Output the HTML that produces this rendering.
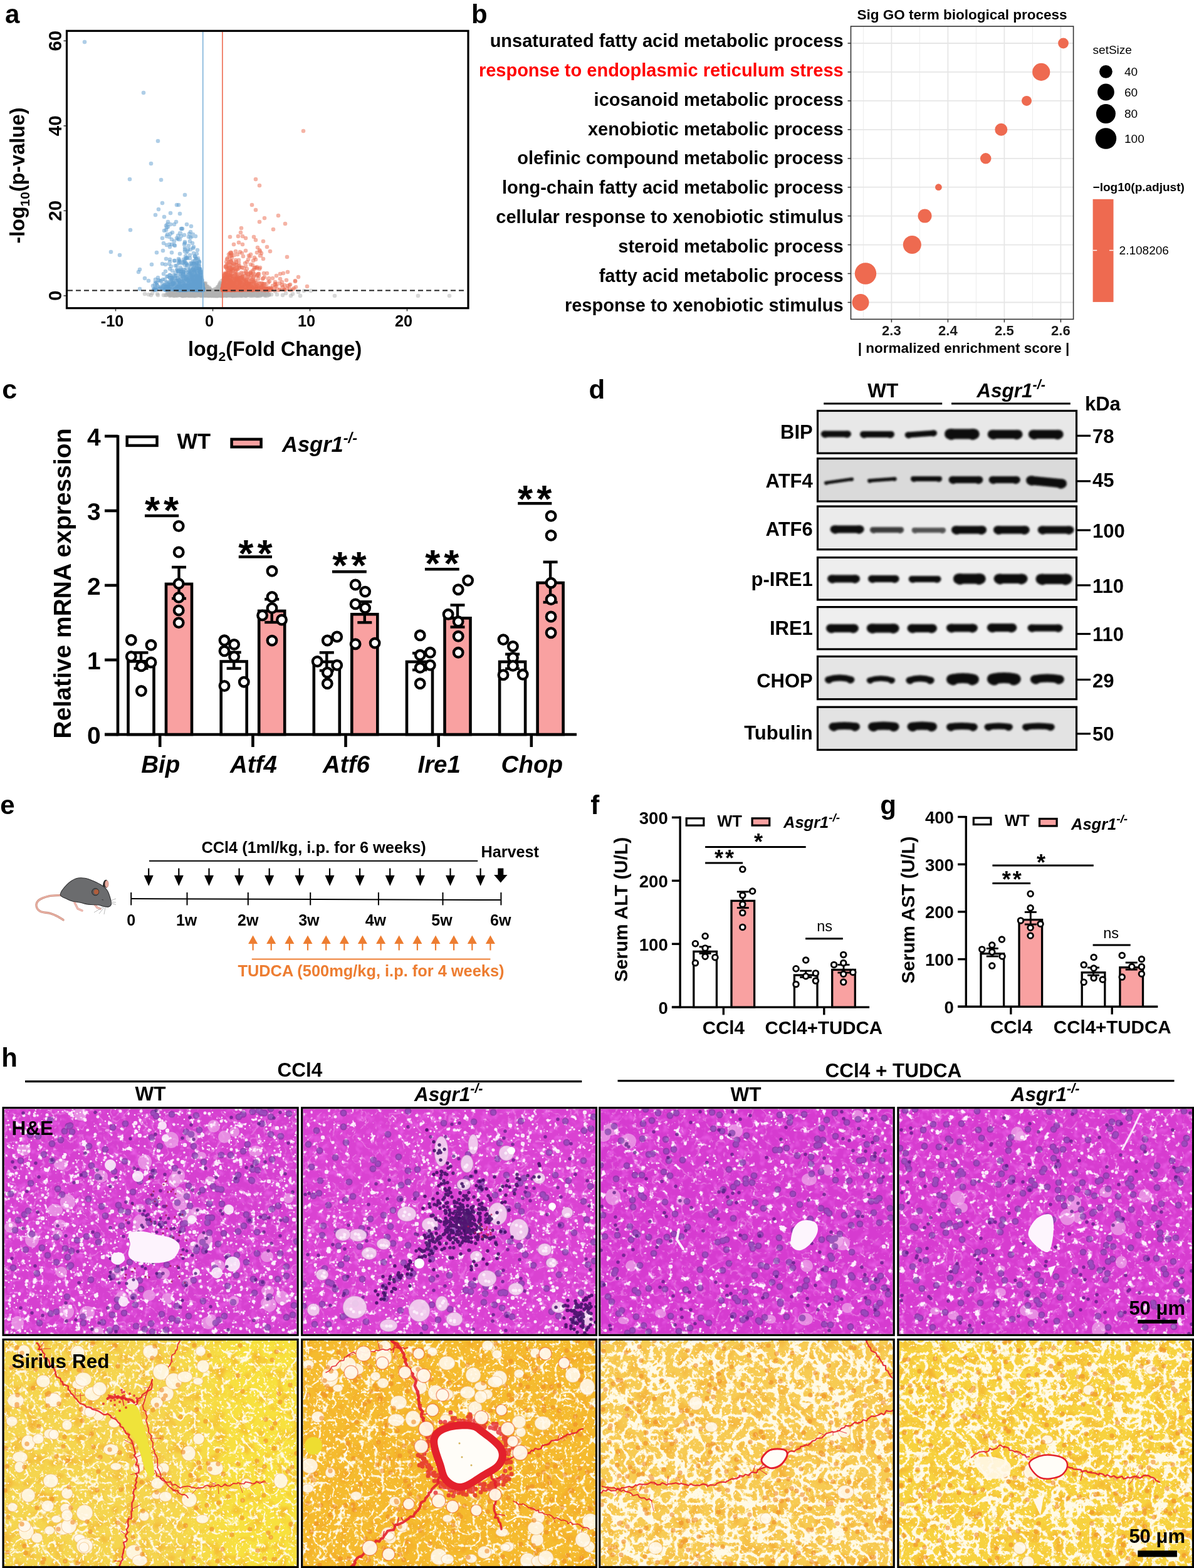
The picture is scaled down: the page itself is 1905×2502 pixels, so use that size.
<!DOCTYPE html><html><head><meta charset="utf-8"><title>Figure</title><style>html,body{margin:0;padding:0;background:#fff;overflow:hidden;width:1905px;height:2502px;}svg{display:block;}</style></head><body>
<svg width="1905" height="2502" viewBox="0 0 1905 2502" font-family="Liberation Sans, Arial, Helvetica, sans-serif" font-weight="bold">
<defs><clipPath id="clipA"><rect x="108" y="51" width="637" height="439"/></clipPath><filter id="bl" x="-10%" y="-60%" width="120%" height="220%"><feGaussianBlur stdDeviation="1.6"/></filter><clipPath id="cp0"><rect x="6.6" y="1769.2" width="467" height="359.6"/></clipPath><clipPath id="cq0"><rect x="6.6" y="2138.9" width="467" height="360.1"/></clipPath><clipPath id="cp1"><rect x="483.2" y="1769.2" width="466.8" height="359.6"/></clipPath><clipPath id="cq1"><rect x="483.2" y="2138.9" width="466.8" height="360.1"/></clipPath><clipPath id="cp2"><rect x="958.2" y="1769.2" width="466.5" height="359.6"/></clipPath><clipPath id="cq2"><rect x="958.2" y="2138.9" width="466.5" height="360.1"/></clipPath><clipPath id="cp3"><rect x="1434.4" y="1769.2" width="467.6" height="359.6"/></clipPath><clipPath id="cq3"><rect x="1434.4" y="2138.9" width="467.6" height="360.1"/></clipPath><filter id="heTone" x="0" y="0" width="100%" height="100%" color-interpolation-filters="sRGB"><feTurbulence type="fractalNoise" baseFrequency="0.09" numOctaves="2" seed="5"/><feColorMatrix type="matrix" values="0 0 0 0 0.93 0 0 0 0 0.4 0 0 0 0 0.92 2.0 0 0 0 -1.0"/></filter><filter id="heW0" x="0" y="0" width="100%" height="100%" color-interpolation-filters="sRGB"><feTurbulence type="fractalNoise" baseFrequency="0.1" numOctaves="3" seed="3"/><feColorMatrix type="matrix" values="0 0 0 0 1 0 0 0 0 0.93 0 0 0 0 1 8 0 0 0 -5.0"/></filter><filter id="heW1" x="0" y="0" width="100%" height="100%" color-interpolation-filters="sRGB"><feTurbulence type="fractalNoise" baseFrequency="0.1" numOctaves="3" seed="4"/><feColorMatrix type="matrix" values="0 0 0 0 1 0 0 0 0 0.93 0 0 0 0 1 8 0 0 0 -5.1"/></filter><filter id="heW2" x="0" y="0" width="100%" height="100%" color-interpolation-filters="sRGB"><feTurbulence type="fractalNoise" baseFrequency="0.09" numOctaves="3" seed="6"/><feColorMatrix type="matrix" values="0 0 0 0 1 0 0 0 0 0.93 0 0 0 0 1 8 0 0 0 -5.05"/></filter><filter id="heW3" x="0" y="0" width="100%" height="100%" color-interpolation-filters="sRGB"><feTurbulence type="fractalNoise" baseFrequency="0.09" numOctaves="3" seed="7"/><feColorMatrix type="matrix" values="0 0 0 0 1 0 0 0 0 0.93 0 0 0 0 1 8 0 0 0 -5.0"/></filter><filter id="srTone" x="0" y="0" width="100%" height="100%" color-interpolation-filters="sRGB"><feTurbulence type="fractalNoise" baseFrequency="0.05" numOctaves="2" seed="8"/><feColorMatrix type="matrix" values="0 0 0 0 0.95 0 0 0 0 0.62 0 0 0 0 0.15 1.6 0 0 0 -0.78"/></filter><filter id="srW0" x="0" y="0" width="100%" height="100%" color-interpolation-filters="sRGB"><feTurbulence type="turbulence" baseFrequency="0.045" numOctaves="3" seed="21"/><feColorMatrix type="matrix" values="0 0 0 0 1 0 0 0 0 0.98 0 0 0 0 0.9 -10 0 0 0 1.75"/></filter><filter id="srW1" x="0" y="0" width="100%" height="100%" color-interpolation-filters="sRGB"><feTurbulence type="turbulence" baseFrequency="0.045" numOctaves="3" seed="22"/><feColorMatrix type="matrix" values="0 0 0 0 1 0 0 0 0 0.98 0 0 0 0 0.9 -10 0 0 0 1.85"/></filter><filter id="srW2" x="0" y="0" width="100%" height="100%" color-interpolation-filters="sRGB"><feTurbulence type="turbulence" baseFrequency="0.05" numOctaves="3" seed="23"/><feColorMatrix type="matrix" values="0 0 0 0 1 0 0 0 0 0.98 0 0 0 0 0.9 -10 0 0 0 2.95"/></filter><filter id="srW3" x="0" y="0" width="100%" height="100%" color-interpolation-filters="sRGB"><feTurbulence type="turbulence" baseFrequency="0.05" numOctaves="3" seed="24"/><feColorMatrix type="matrix" values="0 0 0 0 1 0 0 0 0 0.98 0 0 0 0 0.9 -10 0 0 0 2.7"/></filter><filter id="srSpk" x="0" y="0" width="100%" height="100%" color-interpolation-filters="sRGB"><feTurbulence type="fractalNoise" baseFrequency="0.2" numOctaves="2" seed="31"/><feColorMatrix type="matrix" values="0 0 0 0 1 0 0 0 0 0.98 0 0 0 0 0.92 8 0 0 0 -4.9"/></filter><filter id="heNet" x="0" y="0" width="100%" height="100%" color-interpolation-filters="sRGB"><feTurbulence type="turbulence" baseFrequency="0.045" numOctaves="3" seed="41"/><feColorMatrix type="matrix" values="0 0 0 0 0.98 0 0 0 0 0.72 0 0 0 0 0.96 -9 0 0 0 1.5"/></filter><linearGradient id="srGrad0" x1="0" x2="1" y1="0" y2="0"><stop offset="0.55" stop-color="#f8e23c" stop-opacity="0"/><stop offset="0.8" stop-color="#f8e23c" stop-opacity="0.85"/><stop offset="1" stop-color="#f8e23c" stop-opacity="0.95"/></linearGradient></defs>
<rect x="0" y="0" width="1905" height="2502" fill="#fff"/>
<text x="8" y="37" font-size="42">a</text>
<g clip-path="url(#clipA)">
<path d="M266 471h0m6 -5h0m1 5h0m3 -1h0m0 2h0m1 -5h0m1 -1h0m0 2h0m1 -3h0m0 1h0m0 1h0m2 2h0m1 2h0m4 -6h0m2 1h0m0 1h0m0 0h0m0 3h0m0 1h0m1 -5h0m1 3h0m0 1h0m0 2h0m1 -2h0m1 0h0m0 2h0m1 -5h0m1 3h0m0 1h0m1 -1h0m1 1h0m1 -1h0m2 1h0m1 -7h0m0 5h0m0 2h0m2 -4h0m0 5h0m1 -6h0m0 5h0m2 1h0m2 -2h0m2 -2h0m0 2h0m1 -4h0m0 5h0m1 -1h0m1 -1h0m1 0h0m1 2h0m1 -1h0m0 1h0m0 0h0m1 -1h0m1 0h0m1 -4h0m1 5h0m2 -4h0m0 1h0m0 1h0m0 0h0m0 0h0m1 1h0m1 1h0m1 0h0m1 -5h0m0 1h0m0 1h0m0 4h0m0 0h0m1 -5h0m2 2h0m0 3h0m1 -15h0m0 2h0m0 8h0m0 1h0m0 0h0m1 -9h0m1 11h0m1 -4h0m0 4h0m0 2h0m2 -4h0m0 1h0m0 0h0m0 3h0m1 -10h0m0 1h0m0 7h0m0 0h0m1 -2h0m0 3h0m1 -4h0m1 -3h0m0 2h0m1 1h0m0 0h0m2 1h0m0 1h0m0 1h0m0 1h0m0 0h0m0 1h0m1 -6h0m0 2h0m0 2h0m1 -2h0m0 1h0m0 2h0m0 0h0m1 -6h0m0 3h0m0 4h0m1 -1h0m0 1h0m0 0h0m1 -6h0m0 4h0m1 -3h0m0 2h0m0 1h0m0 2h0m1 -5h0m0 1h0m0 3h0m1 -12h0m0 11h0m0 0h0m1 -15h0m0 6h0m0 5h0m0 2h0m0 3h0m2 -11h0m0 9h0m1 2h0m0 1h0m1 -15h0m0 10h0m0 1h0m0 2h0m0 0h0m0 0h0m1 -5h0m0 4h0m0 1h0m0 1h0m1 -5h0m0 0h0m0 5h0m0 0h0m1 0h0m1 -4h0m0 3h0m1 0h0m0 0h0m1 -1h0m0 0h0m0 1h0m0 0h0m1 1h0m1 -5h0m0 0h0m0 4h0m1 -3h0m1 0h0m0 4h0m1 0h0m1 -2h0m0 1h0m1 -1h0m0 2h0m1 -4h0m0 4h0m0 0h0m1 -2h0m0 2h0m1 1h0m1 0h0m1 -6h0m0 3h0m1 1h0m2 -3h0m0 5h0m1 -3h0m0 2h0m3 -5h0m2 5h0m1 -1h0m0 1h0m1 0h0m1 -2h0m0 1h0m0 1h0m0 0h0m4 -5h0m2 0h0m1 1h0m0 4h0m2 -5h0m0 4h0m0 2h0m2 -2h0m2 -2h0m0 3h0m1 0h0m2 -4h0m0 0h0m1 2h0m0 3h0m1 -2h0m0 0h0m2 -3h0m0 1h0m0 0h0m0 1h0m0 2h0m7 -4h0m1 3h0m1 2h0m0 0h0m3 -3h0m2 -1h0m0 1h0m5 -2h0m1 2h0m40 3h0m15 0h0m17 -8h0" stroke="#b0b0b0" stroke-width="6.6" stroke-linecap="round" stroke-opacity="0.5" fill="none"/><path d="M246 463h0m24 4h0m0 3h0m1 2h0m4 -6h0m2 2h0m0 3h0m1 -3h0m0 2h0m1 1h0m1 -2h0m4 -2h0m0 2h0m1 -3h0m1 0h0m1 5h0m6 -4h0m0 1h0m0 0h0m3 3h0m2 -3h0m1 3h0m0 0h0m1 -1h0m0 1h0m1 0h0m1 0h0m1 -5h0m1 5h0m1 -5h0m0 3h0m1 -6h0m0 5h0m1 -1h0m0 5h0m1 -2h0m2 2h0m3 -3h0m1 -6h0m0 7h0m1 -1h0m3 -1h0m0 2h0m1 -3h0m0 4h0m1 -2h0m0 2h0m1 0h0m2 -4h0m0 2h0m1 -13h0m0 11h0m0 4h0m1 -2h0m0 1h0m1 -3h0m0 0h0m0 0h0m0 3h0m1 -17h0m0 11h0m0 4h0m1 -8h0m0 8h0m0 1h0m0 1h0m1 -5h0m0 6h0m1 -9h0m0 4h0m0 4h0m1 -13h0m0 11h0m1 -1h0m0 1h0m1 -6h0m0 2h0m1 6h0m0 0h0m0 0h0m0 1h0m0 0h0m1 -2h0m0 1h0m0 0h0m0 0h0m1 -3h0m0 3h0m0 1h0m1 -2h0m0 2h0m1 -8h0m0 2h0m1 3h0m0 1h0m1 -6h0m0 2h0m0 5h0m0 1h0m1 -4h0m0 5h0m1 -4h0m1 -2h0m0 1h0m0 5h0m1 -4h0m1 -4h0m0 4h0m0 2h0m0 2h0m3 -14h0m0 13h0m0 1h0m1 -5h0m0 4h0m0 0h0m1 -17h0m0 15h0m0 2h0m1 -3h0m0 0h0m0 0h0m0 1h0m0 3h0m1 -14h0m0 11h0m1 0h0m0 0h0m0 2h0m0 1h0m1 -14h0m0 8h0m0 1h0m0 3h0m0 1h0m1 -20h0m0 1h0m0 17h0m0 1h0m0 0h0m1 -4h0m0 3h0m1 -3h0m1 4h0m0 1h0m1 -4h0m0 4h0m0 0h0m0 0h0m0 0h0m1 -1h0m0 0h0m0 1h0m1 -3h0m0 1h0m0 1h0m0 1h0m1 -4h0m0 1h0m0 2h0m1 0h0m1 1h0m2 -5h0m3 3h0m1 0h0m1 -2h0m0 0h0m0 2h0m0 1h0m0 0h0m1 0h0m0 0h0m0 1h0m1 -4h0m0 1h0m0 3h0m1 -1h0m1 -5h0m0 1h0m1 0h0m0 0h0m0 1h0m3 -1h0m0 3h0m1 2h0m0 1h0m2 -1h0m3 -1h0m0 2h0m1 -1h0m1 -4h0m1 0h0m2 2h0m1 -1h0m0 1h0m0 2h0m0 1h0m1 -5h0m0 4h0m2 -2h0m1 -3h0m0 0h0m0 1h0m0 3h0m1 -3h0m0 2h0m0 1h0m1 -5h0m2 2h0m1 4h0m3 -2h0m1 -1h0m1 0h0m2 2h0m1 -4h0m1 4h0m0 2h0m1 -7h0m1 4h0m0 0h0m1 1h0m5 0h0m1 1h0m1 -3h0m1 1h0m1 -2h0m0 2h0m3 2h0m5 -1h0m27 -2h0" stroke="#b0b0b0" stroke-width="6.6" stroke-linecap="round" stroke-opacity="0.5" fill="none"/><path d="M241 471h0m20 0h0m7 -2h0m0 0h0m4 2h0m2 -3h0m1 2h0m0 1h0m0 0h0m1 -4h0m0 4h0m1 -4h0m1 5h0m2 -5h0m0 1h0m1 -4h0m1 7h0m1 0h0m3 -1h0m0 1h0m1 -4h0m0 2h0m2 2h0m4 -2h0m0 3h0m1 -3h0m0 3h0m0 0h0m1 -1h0m0 1h0m1 -5h0m0 1h0m3 0h0m0 0h0m0 2h0m0 2h0m2 -4h0m1 3h0m1 0h0m6 -7h0m0 7h0m1 -4h0m1 1h0m0 1h0m0 3h0m1 -4h0m1 -1h0m0 5h0m2 -6h0m0 6h0m1 -3h0m1 0h0m0 1h0m1 -1h0m0 0h0m1 -1h0m1 -2h0m0 6h0m1 -3h0m0 0h0m0 3h0m1 -7h0m1 5h0m0 1h0m3 -3h0m0 2h0m1 -16h0m0 7h0m0 8h0m0 2h0m1 -7h0m0 2h0m0 3h0m0 0h0m0 2h0m0 0h0m1 -1h0m1 -2h0m0 2h0m0 0h0m0 2h0m1 -5h0m0 2h0m0 2h0m0 0h0m0 0h0m1 -4h0m0 2h0m1 -3h0m1 -4h0m0 6h0m0 2h0m1 -9h0m0 5h0m0 3h0m0 1h0m0 1h0m1 -6h0m0 2h0m0 1h0m0 2h0m1 -3h0m0 1h0m0 3h0m0 0h0m1 -6h0m0 6h0m0 1h0m1 -5h0m0 2h0m0 1h0m1 -4h0m0 1h0m1 -2h0m0 0h0m0 4h0m0 0h0m1 2h0m0 0h0m1 -2h0m0 0h0m0 2h0m1 -6h0m0 4h0m0 1h0m1 -8h0m0 5h0m1 -1h0m0 3h0m1 -11h0m0 9h0m0 4h0m0 0h0m0 1h0m1 -1h0m1 0h0m1 -13h0m0 6h0m2 -12h0m0 17h0m0 0h0m0 2h0m0 1h0m1 -15h0m0 7h0m0 8h0m1 -16h0m0 4h0m1 6h0m0 1h0m1 4h0m0 1h0m1 -8h0m0 6h0m1 -1h0m1 -2h0m0 2h0m1 3h0m0 0h0m1 -6h0m0 3h0m0 3h0m1 -6h0m1 5h0m3 0h0m2 -4h0m1 2h0m0 1h0m1 -2h0m0 1h0m0 2h0m0 0h0m1 -3h0m0 4h0m1 -5h0m0 0h0m0 4h0m1 -1h0m2 -3h0m1 2h0m2 2h0m1 -1h0m0 1h0m1 -2h0m1 -3h0m0 4h0m2 -4h0m0 4h0m0 1h0m1 -4h0m0 4h0m0 0h0m1 0h0m0 0h0m1 -2h0m1 -1h0m1 -4h0m0 3h0m1 3h0m2 -3h0m1 2h0m0 2h0m1 0h0m1 0h0m1 -4h0m0 1h0m0 0h0m0 2h0m2 0h0m1 -4h0m2 0h0m0 0h0m0 4h0m1 -4h0m1 0h0m2 1h0m0 3h0m7 1h0m1 0h0m2 -5h0m1 3h0m0 2h0m1 0h0m6 -2h0m4 -2h0m0 2h0m3 2h0m22 0h0m34 -7h0" stroke="#b0b0b0" stroke-width="6.6" stroke-linecap="round" stroke-opacity="0.5" fill="none"/><path d="M243 468h0m29 2h0m0 0h0m1 -2h0m1 -1h0m1 -1h0m4 0h0m4 6h0m1 -5h0m1 3h0m0 0h0m1 1h0m1 -3h0m1 -1h0m1 0h0m0 1h0m0 0h0m3 4h0m1 -1h0m1 -7h0m1 4h0m0 2h0m1 -4h0m0 2h0m1 -2h0m0 5h0m1 -4h0m0 3h0m2 -4h0m1 3h0m2 1h0m1 -5h0m1 3h0m1 -2h0m0 4h0m2 0h0m3 1h0m1 0h0m1 -1h0m2 -3h0m1 3h0m1 -3h0m0 2h0m0 0h0m2 -1h0m0 0h0m0 1h0m2 1h0m0 1h0m0 1h0m1 -7h0m0 4h0m1 -1h0m0 1h0m1 -13h0m0 12h0m1 0h0m0 1h0m1 -3h0m0 2h0m0 2h0m1 -17h0m0 2h0m0 2h0m0 12h0m1 2h0m1 -13h0m0 9h0m1 -7h0m0 8h0m1 -1h0m1 -2h0m0 3h0m0 0h0m0 1h0m0 0h0m0 1h0m0 0h0m0 1h0m1 -9h0m0 7h0m1 -10h0m0 6h0m0 1h0m0 2h0m0 4h0m1 -2h0m0 1h0m1 -3h0m0 3h0m1 0h0m1 -3h0m0 3h0m0 0h0m1 -2h0m1 -5h0m0 3h0m0 4h0m0 1h0m1 -8h0m0 5h0m0 0h0m0 3h0m1 -3h0m0 1h0m0 1h0m0 0h0m1 -4h0m0 5h0m1 -4h0m0 0h0m1 -4h0m0 2h0m0 0h0m0 2h0m0 1h0m0 2h0m0 0h0m1 -2h0m0 3h0m1 -8h0m0 6h0m0 2h0m1 0h0m1 -3h0m1 -2h0m0 1h0m0 2h0m1 -18h0m0 4h0m0 3h0m0 2h0m0 6h0m2 -4h0m0 4h0m1 0h0m0 4h0m1 0h0m1 -5h0m0 1h0m0 5h0m1 -3h0m0 1h0m1 0h0m0 1h0m2 -4h0m0 1h0m1 -2h0m0 2h0m0 2h0m0 1h0m1 -1h0m1 -4h0m1 -2h0m0 3h0m0 0h0m0 1h0m2 -2h0m0 0h0m1 1h0m0 2h0m0 2h0m1 -3h0m0 1h0m1 1h0m2 -3h0m0 2h0m1 -3h0m1 0h0m0 3h0m0 2h0m1 -4h0m2 3h0m0 0h0m0 0h0m0 2h0m1 -2h0m1 -1h0m0 0h0m1 -4h0m2 4h0m1 -2h0m0 1h0m0 2h0m1 0h0m0 0h0m0 0h0m2 -3h0m0 3h0m1 1h0m0 0h0m1 0h0m0 1h0m2 -1h0m3 -3h0m0 2h0m1 0h0m2 -2h0m2 -1h0m0 1h0m1 0h0m1 -1h0m2 -1h0m0 1h0m2 0h0m0 3h0m2 0h0m1 -3h0m0 1h0m0 2h0m0 0h0m3 -2h0m0 3h0m2 1h0m2 -4h0m1 -2h0m1 1h0m0 1h0m0 1h0m2 1h0m1 -1h0m4 0h0m1 2h0m0 1h0m3 -3h0m3 1h0m10 -5h0m28 4h0m67 3h0" stroke="#b0b0b0" stroke-width="6.6" stroke-linecap="round" stroke-opacity="0.5" fill="none"/><path d="M231 469h0m21 2h0m12 0h0m2 -1h0m4 0h0m1 -3h0m0 1h0m0 3h0m1 -3h0m1 3h0m1 -3h0m4 1h0m1 1h0m0 2h0m1 0h0m2 -4h0m2 -2h0m0 1h0m3 1h0m4 2h0m0 0h0m0 2h0m1 -5h0m4 5h0m1 -3h0m0 1h0m1 -1h0m1 -2h0m0 2h0m0 1h0m3 2h0m1 -3h0m4 2h0m1 -3h0m0 2h0m1 -3h0m1 0h0m0 0h0m0 2h0m0 0h0m0 3h0m1 -1h0m1 -6h0m0 6h0m0 1h0m1 -2h0m0 1h0m1 -8h0m1 6h0m2 2h0m0 0h0m2 -4h0m0 3h0m1 1h0m1 -5h0m0 2h0m1 1h0m1 -3h0m2 -14h0m0 19h0m0 0h0m1 -7h0m0 0h0m0 3h0m0 2h0m1 -3h0m0 5h0m1 -10h0m0 7h0m0 0h0m0 2h0m1 -2h0m1 1h0m0 0h0m1 -7h0m0 4h0m0 4h0m1 -7h0m0 1h0m0 7h0m1 -9h0m1 4h0m0 1h0m1 4h0m1 -2h0m0 2h0m1 -2h0m0 3h0m1 -8h0m0 2h0m0 4h0m0 2h0m1 -5h0m0 4h0m1 -4h0m0 1h0m0 0h0m0 0h0m0 2h0m1 -6h0m0 5h0m0 1h0m1 -2h0m0 1h0m0 2h0m1 -5h0m0 3h0m0 1h0m0 0h0m1 1h0m0 0h0m0 0h0m0 0h0m0 1h0m1 -11h0m0 9h0m0 2h0m1 -5h0m0 1h0m1 1h0m0 0h0m0 1h0m1 -1h0m0 1h0m1 0h0m0 0h0m0 1h0m1 -5h0m0 0h0m0 3h0m0 1h0m1 -1h0m1 -19h0m0 19h0m0 0h0m0 1h0m1 -4h0m0 3h0m0 0h0m0 1h0m0 0h0m1 -22h0m0 23h0m0 0h0m1 -5h0m0 0h0m0 6h0m1 -7h0m1 1h0m0 5h0m0 0h0m1 -6h0m0 2h0m0 2h0m1 -1h0m0 3h0m1 -7h0m0 5h0m0 1h0m1 -3h0m0 2h0m0 3h0m1 -5h0m0 2h0m0 2h0m1 -5h0m0 4h0m1 -4h0m1 4h0m0 1h0m1 -6h0m1 3h0m0 3h0m0 1h0m1 -1h0m2 -5h0m0 2h0m0 3h0m0 0h0m0 0h0m1 -3h0m1 4h0m1 -4h0m0 3h0m1 -1h0m0 0h0m1 -1h0m0 1h0m2 -2h0m1 1h0m5 -1h0m1 -3h0m0 5h0m1 -5h0m0 2h0m0 1h0m1 2h0m6 2h0m1 -2h0m1 -2h0m0 2h0m0 1h0m1 -3h0m4 0h0m0 2h0m0 0h0m0 1h0m0 1h0m1 -5h0m2 2h0m1 3h0m2 0h0m2 -7h0m1 1h0m1 3h0m0 1h0m5 -3h0m0 0h0m1 -3h0m0 8h0m2 -4h0m1 -1h0m4 3h0m1 -4h0m1 0h0m1 1h0m4 -1h0m4 4h0m43 -4h0" stroke="#b0b0b0" stroke-width="6.6" stroke-linecap="round" stroke-opacity="0.5" fill="none"/><path d="M237 470h0m14 -1h0m16 -1h0m3 1h0m7 1h0m1 -3h0m2 3h0m4 1h0m3 -1h0m1 -4h0m1 0h0m1 2h0m0 3h0m2 -2h0m0 1h0m0 1h0m3 0h0m3 -4h0m1 0h0m0 3h0m1 1h0m2 -3h0m0 2h0m1 -1h0m2 0h0m0 3h0m0 0h0m1 -7h0m1 2h0m0 4h0m1 -3h0m0 3h0m0 1h0m1 -2h0m1 -2h0m1 1h0m0 1h0m0 0h0m1 1h0m2 -4h0m0 3h0m1 -1h0m1 1h0m3 -1h0m0 2h0m1 -1h0m1 -4h0m0 0h0m0 2h0m0 0h0m1 -3h0m0 5h0m1 0h0m0 2h0m1 -1h0m1 -3h0m0 3h0m0 0h0m1 -6h0m0 1h0m0 3h0m0 1h0m0 0h0m0 1h0m0 1h0m1 -5h0m1 -15h0m0 14h0m0 2h0m0 1h0m1 -3h0m1 -9h0m0 7h0m1 3h0m0 1h0m0 0h0m0 3h0m1 1h0m1 -12h0m0 6h0m2 1h0m0 0h0m0 3h0m0 0h0m0 1h0m1 0h0m1 -4h0m0 1h0m0 0h0m0 2h0m1 -7h0m0 3h0m0 2h0m0 1h0m0 0h0m0 1h0m0 0h0m0 1h0m0 1h0m1 -6h0m0 2h0m1 0h0m0 0h0m0 0h0m1 -3h0m0 2h0m1 -1h0m1 -5h0m0 5h0m0 3h0m0 1h0m1 -1h0m0 0h0m1 -8h0m0 9h0m0 0h0m1 -1h0m0 1h0m0 1h0m2 -6h0m0 5h0m1 -13h0m0 9h0m0 0h0m0 2h0m0 1h0m0 0h0m0 2h0m1 -3h0m1 -8h0m0 5h0m0 1h0m1 0h0m0 2h0m0 3h0m0 0h0m0 0h0m1 -16h0m0 15h0m1 -3h0m1 3h0m1 -3h0m3 -1h0m0 5h0m0 0h0m1 -5h0m0 4h0m1 0h0m1 0h0m0 1h0m1 -4h0m0 4h0m0 1h0m2 -3h0m0 1h0m1 -5h0m0 2h0m0 4h0m0 0h0m1 -3h0m0 2h0m1 -2h0m1 0h0m0 1h0m0 1h0m0 0h0m1 -4h0m0 2h0m1 4h0m1 -6h0m1 3h0m0 2h0m1 -7h0m0 6h0m0 2h0m1 -5h0m1 -1h0m0 5h0m2 -1h0m0 0h0m0 2h0m3 -4h0m0 1h0m1 -3h0m0 1h0m0 4h0m0 1h0m2 -4h0m0 1h0m0 0h0m0 3h0m1 0h0m2 -3h0m0 2h0m2 -4h0m0 4h0m0 0h0m4 -1h0m0 1h0m2 0h0m1 -2h0m3 -1h0m0 2h0m0 0h0m2 -4h0m0 3h0m2 2h0m1 -3h0m1 3h0m2 -1h0m1 -1h0m0 1h0m2 2h0m2 -3h0m1 -1h0m0 1h0m1 -2h0m3 0h0m1 0h0m0 3h0m3 -3h0m2 4h0m2 -3h0m0 2h0m1 -3h0m0 5h0m16 -2h0m225 2h0m50 0h0" stroke="#b0b0b0" stroke-width="6.6" stroke-linecap="round" stroke-opacity="0.5" fill="none"/>
<path d="M208 367h0m40 79h0m0 3h0m0 11h0m2 0h0m5 1h0m9 0h0m0 1h0m2 1h0m1 -6h0m2 4h0m1 1h0m1 -48h0m0 15h0m0 29h0m1 -85h0m2 9h0m0 61h0m2 5h0m0 2h0m0 3h0m3 8h0m3 -81h0m0 44h0m0 35h0m0 1h0m0 1h0m2 -3h0m0 3h0m1 -48h0m0 6h0m0 40h0m1 -7h0m0 1h0m0 3h0m1 -115h0m0 117h0m1 -21h0m0 3h0m0 4h0m1 -14h0m1 28h0m0 3h0m0 2h0m1 -2h0m1 -16h0m0 11h0m1 -42h0m0 20h0m0 28h0m1 -72h0m0 52h0m0 21h0m1 -68h0m0 6h0m0 53h0m0 7h0m1 -16h0m0 14h0m1 -56h0m0 17h0m0 26h0m0 9h0m0 3h0m1 -100h0m0 84h0m0 4h0m0 11h0m1 -1h0m1 -58h0m0 60h0m1 -80h0m1 70h0m0 8h0m0 2h0m0 3h0m1 -54h0m0 40h0m0 0h0m0 15h0m1 -6h0m0 5h0m1 -28h0m0 8h0m0 12h0m0 9h0m1 -42h0m0 16h0m1 -59h0m0 76h0m0 3h0m0 5h0m1 -87h0m0 55h0m0 23h0m1 -58h0m0 39h0m0 4h0m0 7h0m0 1h0m0 1h0m0 16h0m1 -40h0m0 3h0m0 32h0m0 1h0m0 1h0m0 4h0m1 -40h0m0 8h0m0 9h0m0 3h0m1 -66h0m0 44h0m0 25h0m0 3h0m0 2h0m1 -39h0m0 16h0m0 8h0m0 2h0m0 10h0m0 0h0m0 2h0m0 2h0m0 4h0m0 0h0m0 0h0m0 1h0m0 5h0m1 -26h0m0 4h0m0 1h0m0 3h0m0 12h0m0 1h0m0 3h0m0 1h0m0 1h0m1 -42h0m0 21h0m1 7h0m0 9h0m1 -32h0m0 3h0m0 11h0m0 10h0m0 3h0m0 7h0m1 -41h0m0 6h0m0 4h0m0 6h0m0 9h0m0 0h0m0 13h0m0 3h0m1 -19h0m0 3h0m0 7h0m0 4h0m0 1h0m0 0h0m0 0h0m0 0h0m0 4h0m0 2h0m1 -23h0m0 5h0m0 0h0m0 13h0m0 2h0m0 1h0m0 1h0m1 -18h0m0 3h0m0 9h0m0 4h0m0 1h0m0 1h0m1 -14h0m0 7h0m0 3h0m0 4h0m0 1h0m1 -7h0m0 0h0m0 0h0m0 1h0m0 1h0m0 1h0m0 2h0m0 0h0m0 1h0m1 0h0m0 3h0" stroke="#5f9dcf" stroke-width="6.6" stroke-linecap="round" stroke-opacity="0.5" fill="none"/><path d="M229 148h0m19 195h0m5 104h0m6 -67h0m0 79h0m3 -4h0m1 -9h0m0 15h0m1 -39h0m0 39h0m1 -101h0m0 97h0m1 -66h0m1 71h0m1 -100h0m0 100h0m1 -5h0m1 -67h0m0 61h0m1 -12h0m0 4h0m0 7h0m2 -1h0m0 5h0m2 7h0m1 -17h0m1 12h0m1 -40h0m0 44h0m2 -36h0m0 23h0m0 4h0m1 -97h0m0 86h0m0 9h0m0 10h0m1 -132h0m0 121h0m1 -8h0m0 15h0m1 -22h0m0 20h0m1 -71h0m0 50h0m0 25h0m0 2h0m0 0h0m1 -42h0m0 3h0m0 32h0m1 -70h0m0 70h0m0 11h0m1 -36h0m0 3h0m0 7h0m0 16h0m0 6h0m1 -94h0m1 95h0m1 -1h0m0 4h0m1 -29h0m0 7h0m0 16h0m1 -18h0m0 13h0m1 -77h0m1 -64h0m0 109h0m0 3h0m0 33h0m0 2h0m0 4h0m1 -3h0m0 1h0m1 -39h0m0 24h0m0 11h0m1 -45h0m1 -10h0m0 59h0m0 2h0m1 -7h0m0 3h0m1 -13h0m1 5h0m0 8h0m1 -25h0m0 12h0m0 6h0m1 -72h0m0 52h0m0 0h0m0 23h0m1 -15h0m0 0h0m0 1h0m0 15h0m1 -14h0m0 3h0m0 11h0m0 2h0m0 1h0m0 4h0m1 -74h0m0 59h0m0 6h0m0 4h0m1 -18h0m0 12h0m1 -31h0m0 10h0m0 9h0m0 8h0m0 14h0m1 -10h0m0 4h0m0 2h0m0 5h0m1 -53h0m0 43h0m0 4h0m0 6h0m0 0h0m1 -15h0m0 10h0m1 -4h0m0 8h0m1 -20h0m0 7h0m0 8h0m0 0h0m1 -57h0m0 33h0m0 3h0m0 1h0m0 24h0m0 3h0m1 -1h0m0 0h0m0 1h0m1 -42h0m0 16h0m0 6h0m0 4h0m0 8h0m0 4h0m0 3h0m0 0h0m0 1h0m1 -45h0m0 30h0m0 8h0m0 1h0m0 2h0m0 2h0m0 1h0m1 -31h0m0 15h0m0 3h0m0 3h0m0 3h0m0 6h0m0 1h0m0 0h0m0 1h0m0 0h0m1 -20h0m0 7h0m0 5h0m0 2h0m0 3h0m0 2h0m0 0h0m1 -18h0m0 9h0m0 1h0m0 3h0m1 -10h0m0 1h0m0 0h0m0 0h0m0 3h0m0 0h0m0 3h0m0 6h0m0 3h0m1 -10h0m0 2h0m0 1h0m0 0h0m0 1h0m0 1h0m0 1h0m1 3h0" stroke="#5f9dcf" stroke-width="6.6" stroke-linecap="round" stroke-opacity="0.5" fill="none"/><path d="M191 407h0m32 23h0m8 14h0m6 4h0m7 8h0m1 5h0m5 -58h0m0 51h0m5 4h0m4 -37h0m1 25h0m1 -9h0m1 25h0m2 -29h0m1 24h0m0 5h0m1 -99h0m0 78h0m0 19h0m1 -86h0m1 -20h0m0 105h0m0 1h0m2 1h0m1 -67h0m1 60h0m3 7h0m1 -9h0m0 3h0m2 -97h0m1 34h0m2 69h0m1 -4h0m1 -27h0m0 14h0m0 19h0m1 -16h0m1 -15h0m1 29h0m1 -56h0m0 44h0m1 -31h0m0 39h0m0 2h0m0 0h0m0 0h0m1 -82h0m2 -12h0m0 55h0m0 41h0m1 -24h0m1 -18h0m0 11h0m0 18h0m1 -31h0m0 42h0m0 2h0m1 -22h0m0 17h0m0 3h0m0 3h0m0 1h0m1 -1h0m0 1h0m1 -51h0m0 23h0m0 3h0m1 -15h0m0 32h0m1 5h0m1 -14h0m1 -54h0m0 59h0m0 8h0m1 0h0m1 -74h0m0 50h0m0 4h0m0 15h0m0 5h0m0 1h0m0 1h0m1 -41h0m0 1h0m0 34h0m0 3h0m1 -97h0m0 73h0m0 8h0m0 13h0m0 6h0m1 -6h0m0 1h0m0 1h0m0 2h0m1 -27h0m0 17h0m0 3h0m0 6h0m0 5h0m0 0h0m1 -46h0m0 13h0m0 10h0m0 7h0m0 9h0m0 0h0m0 5h0m1 -57h0m0 13h0m0 35h0m0 1h0m0 7h0m1 -24h0m0 0h0m0 9h0m1 -12h0m0 20h0m0 4h0m0 4h0m0 0h0m1 -46h0m0 24h0m0 18h0m1 -13h0m0 16h0m1 -17h0m0 9h0m1 -11h0m0 2h0m0 5h0m0 6h0m0 3h0m0 2h0m1 -47h0m0 29h0m0 21h0m0 0h0m0 0h0m1 -37h0m0 2h0m0 29h0m0 3h0m0 1h0m0 1h0m1 -29h0m0 11h0m0 8h0m0 4h0m0 4h0m1 -30h0m0 1h0m0 21h0m0 3h0m0 1h0m0 6h0m1 -28h0m0 2h0m0 11h0m0 4h0m0 3h0m0 3h0m0 1h0m0 0h0m0 3h0m1 -17h0m0 12h0m0 4h0m0 4h0m0 0h0m1 -16h0m0 1h0m0 5h0m0 3h0m0 2h0m0 1h0m0 0h0m0 1h0m0 0h0m0 1h0m0 1h0m1 -8h0m0 0h0m0 1h0m0 0h0m0 2h0m0 0h0m0 1h0m0 0h0m0 1h0m1 1h0m0 1h0m0 1h0m0 1h0m0 0h0" stroke="#5f9dcf" stroke-width="6.6" stroke-linecap="round" stroke-opacity="0.5" fill="none"/><path d="M135 67h0m106 194h0m5 201h0m4 0h0m1 -6h0m1 -13h0m0 15h0m3 -10h0m4 -124h0m0 129h0m0 8h0m1 -61h0m0 60h0m2 -92h0m2 89h0m0 6h0m1 -6h0m2 -99h0m0 92h0m1 -9h0m0 10h0m0 5h0m0 3h0m3 -101h0m0 81h0m1 -81h0m1 104h0m1 -72h0m0 59h0m1 12h0m1 -19h0m1 16h0m0 4h0m1 0h0m1 -9h0m0 6h0m1 -19h0m2 17h0m1 4h0m1 -14h0m0 11h0m2 -11h0m0 3h0m0 9h0m2 -5h0m1 -21h0m0 23h0m1 -1h0m0 1h0m0 5h0m1 -11h0m1 3h0m0 4h0m1 3h0m1 2h0m0 0h0m1 -76h0m0 12h0m0 59h0m0 1h0m0 2h0m1 0h0m1 -15h0m0 13h0m0 4h0m1 -19h0m0 13h0m0 6h0m1 -50h0m0 36h0m0 8h0m1 -17h0m0 19h0m0 2h0m0 1h0m1 -18h0m0 11h0m1 -81h0m1 64h0m0 9h0m0 8h0m1 -8h0m0 9h0m0 1h0m0 2h0m0 5h0m0 0h0m1 -6h0m0 0h0m0 4h0m1 -26h0m0 7h0m0 12h0m1 0h0m0 5h0m1 -63h0m1 53h0m0 2h0m1 -9h0m0 2h0m0 4h0m0 3h0m0 10h0m0 1h0m1 -46h0m0 16h0m0 13h0m0 4h0m0 7h0m0 2h0m0 2h0m1 -17h0m0 3h0m0 2h0m0 9h0m0 5h0m1 -48h0m0 32h0m0 1h0m0 5h0m0 0h0m1 -47h0m0 15h0m0 6h0m0 1h0m0 11h0m0 1h0m0 8h0m0 9h0m0 4h0m0 1h0m0 0h0m1 -29h0m0 5h0m0 5h0m0 5h0m0 1h0m0 0h0m0 3h0m1 -36h0m0 40h0m0 1h0m0 3h0m1 -43h0m0 43h0m0 0h0m0 3h0m1 -22h0m0 2h0m0 0h0m0 15h0m0 5h0m1 -33h0m0 8h0m0 5h0m0 12h0m0 4h0m0 3h0m1 -28h0m0 4h0m0 5h0m0 8h0m0 9h0m0 1h0m1 -16h0m0 4h0m0 5h0m0 1h0m0 5h0m0 2h0m0 1h0m1 -14h0m0 1h0m0 3h0m0 8h0m0 3h0m1 -10h0m0 1h0m0 1h0m0 1h0m0 0h0m0 1h0m0 0h0m0 1h0m0 0h0m0 0h0m0 1h0m0 3h0m1 -2h0m0 1h0m0 0h0m0 1h0m0 0h0m0 0h0m0 0h0" stroke="#5f9dcf" stroke-width="6.6" stroke-linecap="round" stroke-opacity="0.5" fill="none"/><path d="M207 286h0m16 175h0m24 -7h0m0 1h0m0 5h0m1 -8h0m1 10h0m3 -237h0m5 62h0m0 161h0m4 8h0m0 1h0m1 -111h0m3 21h0m0 87h0m1 -77h0m0 80h0m0 4h0m3 -8h0m0 5h0m1 -80h0m0 43h0m1 -3h0m1 38h0m1 -9h0m2 7h0m3 -69h0m0 77h0m1 -46h0m0 36h0m1 -17h0m1 0h0m0 26h0m1 -30h0m0 17h0m0 13h0m2 -4h0m0 4h0m1 -7h0m0 3h0m1 -7h0m0 10h0m1 -88h0m0 91h0m1 -91h0m0 80h0m0 10h0m1 -8h0m1 -5h0m1 -13h0m0 22h0m1 -39h0m0 17h0m0 6h0m0 16h0m0 1h0m0 4h0m1 -17h0m1 9h0m1 -67h0m0 43h0m0 25h0m1 -47h0m0 3h0m0 42h0m1 -13h0m0 6h0m0 2h0m0 0h0m0 7h0m0 1h0m0 4h0m0 2h0m1 -21h0m0 5h0m0 10h0m0 4h0m0 1h0m0 1h0m0 0h0m1 -14h0m1 -15h0m0 26h0m1 -25h0m0 24h0m2 -47h0m0 17h0m0 25h0m0 5h0m1 -61h0m0 50h0m0 9h0m0 2h0m0 0h0m0 3h0m1 -37h0m0 22h0m0 15h0m0 0h0m2 -25h0m0 13h0m0 4h0m0 1h0m0 4h0m1 -18h0m0 8h0m0 14h0m1 -41h0m0 11h0m0 10h0m0 3h0m0 11h0m1 -10h0m0 1h0m0 6h0m0 1h0m0 1h0m0 1h0m1 -48h0m0 13h0m0 15h0m0 7h0m0 15h0m0 1h0m0 2h0m1 -35h0m0 35h0m1 -20h0m0 7h0m0 3h0m0 11h0m1 0h0m1 -15h0m0 0h0m0 5h0m0 7h0m1 -32h0m0 20h0m0 6h0m0 3h0m0 1h0m0 2h0m1 -19h0m0 10h0m0 5h0m0 3h0m0 1h0m0 0h0m0 1h0m0 1h0m0 1h0m1 -24h0m0 8h0m0 6h0m0 4h0m0 5h0m1 -26h0m0 14h0m1 -16h0m0 2h0m0 1h0m0 9h0m0 3h0m0 3h0m0 0h0m0 6h0m0 1h0m0 0h0m0 3h0m1 -21h0m0 2h0m0 1h0m0 0h0m0 8h0m0 1h0m0 2h0m0 4h0m0 1h0m0 1h0m0 0h0m1 -14h0m0 7h0m0 0h0m0 5h0m0 1h0m0 3h0m1 -9h0m0 1h0m0 1h0m0 0h0m0 2h0m0 0h0m0 4h0m1 -1h0m0 1h0" stroke="#5f9dcf" stroke-width="6.6" stroke-linecap="round" stroke-opacity="0.5" fill="none"/><path d="M177 402h0m44 32h0m21 -12h0m5 41h0m1 -1h0m2 -11h0m3 -117h0m4 125h0m2 -1h0m2 -70h0m1 73h0m1 -4h0m2 -44h0m0 38h0m0 8h0m3 -5h0m2 6h0m1 -17h0m1 -103h0m0 104h0m1 -19h0m1 -22h0m0 50h0m1 -82h0m0 61h0m2 7h0m1 -48h0m0 53h0m0 7h0m2 -7h0m1 17h0m1 -2h0m0 3h0m2 -86h0m0 5h0m0 52h0m0 27h0m1 -133h0m1 88h0m0 32h0m0 8h0m0 5h0m0 1h0m0 1h0m0 1h0m1 -17h0m0 13h0m0 3h0m1 -29h0m0 26h0m1 -2h0m1 -92h0m0 76h0m1 18h0m1 -9h0m1 -13h0m0 7h0m0 11h0m1 -4h0m0 6h0m1 -40h0m0 26h0m0 5h0m0 0h0m0 10h0m1 -3h0m1 -4h0m0 11h0m1 -34h0m0 33h0m1 -38h0m0 34h0m1 -31h0m0 0h0m0 29h0m0 5h0m0 2h0m1 -31h0m0 13h0m0 13h0m0 2h0m1 -2h0m0 5h0m1 -26h0m0 4h0m0 11h0m0 9h0m0 1h0m1 -91h0m0 74h0m0 0h0m0 13h0m1 0h0m0 5h0m1 -40h0m0 25h0m0 4h0m1 -30h0m0 40h0m1 -32h0m0 12h0m0 7h0m0 4h0m0 0h0m1 1h0m0 7h0m1 -36h0m0 8h0m0 11h0m1 9h0m0 10h0m1 -15h0m0 6h0m0 1h0m0 1h0m0 5h0m0 1h0m0 2h0m1 -34h0m0 23h0m0 6h0m0 3h0m0 1h0m1 -42h0m0 21h0m0 3h0m0 9h0m0 0h0m0 6h0m0 2h0m0 1h0m1 -19h0m0 10h0m0 6h0m0 2h0m1 -19h0m0 3h0m0 15h0m0 3h0m1 -33h0m0 15h0m0 0h0m0 13h0m1 -25h0m0 8h0m0 8h0m0 2h0m0 6h0m0 1h0m0 2h0m0 0h0m0 1h0m1 -31h0m0 1h0m0 0h0m0 15h0m0 7h0m0 4h0m0 2h0m0 0h0m0 2h0m1 -25h0m0 5h0m0 4h0m0 2h0m0 1h0m0 1h0m0 8h0m0 2h0m1 -19h0m0 3h0m0 2h0m0 2h0m0 3h0m0 4h0m0 4h0m0 4h0m0 1h0m1 -16h0m0 1h0m0 1h0m0 3h0m0 9h0m0 1h0m0 1h0m1 -5h0m0 1h0m0 0h0m0 0h0m0 1h0m1 0h0m0 0h0m0 1h0m0 0h0m0 1h0" stroke="#5f9dcf" stroke-width="6.6" stroke-linecap="round" stroke-opacity="0.5" fill="none"/>
<path d="M355 460h0m0 0h0m0 1h0m0 0h0m0 1h0m0 0h0m0 0h0m0 0h0m0 1h0m1 -7h0m0 1h0m0 1h0m0 0h0m0 1h0m1 -12h0m0 0h0m0 1h0m0 2h0m0 3h0m0 2h0m0 2h0m0 3h0m1 -16h0m0 1h0m0 4h0m0 0h0m0 5h0m0 2h0m0 2h0m0 1h0m1 -13h0m0 13h0m0 1h0m0 1h0m1 -6h0m0 5h0m1 -36h0m0 34h0m0 2h0m0 3h0m1 -22h0m0 1h0m0 2h0m0 14h0m0 4h0m1 -50h0m0 2h0m0 17h0m0 12h0m0 3h0m0 9h0m0 7h0m0 1h0m1 -6h0m0 4h0m1 -55h0m0 52h0m0 4h0m0 0h0m1 -14h0m0 4h0m0 4h0m0 2h0m0 3h0m1 -34h0m0 3h0m0 27h0m0 1h0m0 3h0m1 -17h0m0 13h0m0 4h0m1 -53h0m0 33h0m0 8h0m0 2h0m0 5h0m0 1h0m0 6h0m1 -10h0m0 4h0m0 1h0m0 5h0m1 -13h0m0 7h0m0 4h0m0 0h0m0 0h0m1 -16h0m0 10h0m0 7h0m1 -17h0m0 9h0m0 1h0m0 4h0m1 -38h0m0 23h0m0 2h0m0 1h0m0 3h0m0 5h0m0 6h0m0 2h0m1 -26h0m0 7h0m0 11h0m0 2h0m0 4h0m0 0h0m0 2h0m1 -62h0m0 41h0m0 14h0m0 1h0m1 -1h0m0 5h0m1 -16h0m1 11h0m1 -1h0m1 -40h0m0 4h0m0 29h0m1 6h0m0 1h0m0 4h0m0 2h0m0 2h0m1 -12h0m1 8h0m0 4h0m1 -99h0m0 79h0m1 -16h0m0 10h0m2 25h0m1 -26h0m1 20h0m0 0h0m0 5h0m1 -41h0m0 32h0m0 1h0m0 5h0m1 -78h0m0 44h0m0 26h0m0 11h0m1 -24h0m0 21h0m2 -3h0m2 -1h0m1 -2h0m1 10h0m3 -135h0m0 133h0m0 1h0m1 -38h0m1 15h0m0 5h0m0 6h0m0 12h0m0 0h0m1 -24h0m1 -26h0m0 51h0m0 0h0m1 -24h0m1 16h0m2 2h0m1 3h0m1 -1h0m1 -21h0m0 3h0m4 -36h0m1 48h0m0 7h0m2 0h0m2 -111h0m1 114h0m2 -9h0m1 -17h0m1 25h0m1 -16h0m0 6h0m1 -7h0m1 17h0m3 -1h0m6 -10h0m0 8h0m2 -18h0m5 22h0m16 -7h0m0 6h0m1 2h0" stroke="#ec6a4e" stroke-width="6.6" stroke-linecap="round" stroke-opacity="0.5" fill="none"/><path d="M355 460h0m0 0h0m0 1h0m0 0h0m0 2h0m0 0h0m1 -8h0m0 3h0m0 0h0m0 0h0m0 2h0m1 -9h0m0 6h0m0 4h0m0 1h0m1 -17h0m0 0h0m0 9h0m0 3h0m0 4h0m0 0h0m0 1h0m0 1h0m0 0h0m1 -25h0m0 2h0m0 12h0m0 1h0m0 5h0m0 0h0m0 1h0m0 0h0m0 2h0m0 1h0m1 -21h0m0 8h0m0 7h0m0 1h0m0 5h0m1 -21h0m0 8h0m0 4h0m0 2h0m0 1h0m0 1h0m0 1h0m0 5h0m1 -34h0m0 30h0m0 3h0m0 1h0m1 -26h0m0 6h0m0 1h0m0 1h0m0 9h0m0 1h0m0 2h0m0 6h0m1 -17h0m0 8h0m0 1h0m0 7h0m0 0h0m1 -30h0m0 4h0m0 3h0m0 1h0m0 7h0m0 0h0m0 10h0m0 4h0m0 1h0m1 -52h0m0 47h0m0 4h0m1 -53h0m0 41h0m0 3h0m0 2h0m1 -37h0m0 31h0m0 0h0m0 4h0m0 10h0m0 1h0m1 -55h0m0 24h0m0 17h0m1 -9h0m0 16h0m0 2h0m1 -38h0m0 12h0m0 8h0m0 1h0m0 10h0m0 4h0m0 6h0m1 -7h0m0 6h0m1 -8h0m0 6h0m0 2h0m0 1h0m1 -54h0m0 15h0m0 7h0m0 30h0m0 4h0m1 -6h0m2 -34h0m0 24h0m1 -17h0m0 12h0m0 15h0m0 1h0m0 0h0m0 4h0m1 -56h0m0 36h0m0 2h0m1 8h0m0 4h0m0 2h0m1 -71h0m0 64h0m0 5h0m0 5h0m0 0h0m0 1h0m0 0h0m0 0h0m1 -38h0m0 25h0m0 9h0m1 3h0m1 -90h0m0 88h0m1 -4h0m0 4h0m1 1h0m0 2h0m1 -72h0m0 68h0m1 -9h0m0 11h0m0 0h0m1 -13h0m1 5h0m0 2h0m0 1h0m2 0h0m1 -20h0m0 17h0m0 9h0m2 -7h0m0 0h0m0 8h0m1 -3h0m0 3h0m2 0h0m1 -26h0m0 18h0m1 1h0m1 -2h0m0 8h0m1 -3h0m2 4h0m2 -35h0m2 -92h0m0 48h0m1 75h0m6 -31h0m2 32h0m1 -2h0m0 4h0m1 -16h0m3 -3h0m1 19h0m2 -1h0m6 2h0m10 -5h0m2 5h0m1 1h0m6 -1h0m1 -4h0m3 4h0m0 0h0m1 -105h0m3 53h0m9 52h0m9 -20h0m14 15h0" stroke="#ec6a4e" stroke-width="6.6" stroke-linecap="round" stroke-opacity="0.5" fill="none"/><path d="M355 460h0m0 0h0m1 -4h0m0 1h0m0 2h0m0 0h0m1 -12h0m0 1h0m0 0h0m0 1h0m0 2h0m0 1h0m0 0h0m0 7h0m0 3h0m0 0h0m0 1h0m1 -20h0m0 8h0m0 5h0m0 2h0m1 -7h0m0 3h0m0 0h0m1 -4h0m0 6h0m0 3h0m0 3h0m1 -25h0m0 13h0m0 3h0m0 3h0m0 2h0m0 1h0m0 1h0m0 1h0m0 1h0m1 -22h0m0 1h0m0 6h0m0 5h0m0 0h0m0 6h0m0 2h0m0 1h0m1 -40h0m0 33h0m0 1h0m0 3h0m0 2h0m0 1h0m1 -15h0m0 2h0m0 5h0m0 7h0m0 0h0m0 1h0m0 0h0m1 -36h0m0 1h0m0 3h0m0 3h0m0 16h0m0 8h0m0 6h0m1 -2h0m0 2h0m1 -58h0m0 48h0m0 3h0m0 0h0m0 1h0m0 5h0m0 0h0m1 -38h0m0 11h0m0 5h0m0 8h0m0 1h0m0 1h0m0 2h0m0 0h0m0 10h0m0 0h0m0 1h0m1 -59h0m0 50h0m0 3h0m0 4h0m0 0h0m0 0h0m1 -15h0m0 16h0m1 -33h0m0 27h0m1 8h0m1 -73h0m0 62h0m0 9h0m1 -5h0m0 2h0m1 -2h0m0 0h0m0 1h0m1 -25h0m0 13h0m0 5h0m0 8h0m0 0h0m0 0h0m0 1h0m0 1h0m0 2h0m1 -5h0m1 -20h0m0 9h0m0 15h0m0 1h0m1 -10h0m0 3h0m0 5h0m0 1h0m0 1h0m1 -25h0m0 12h0m0 12h0m1 -19h0m0 20h0m0 0h0m1 -35h0m0 33h0m0 2h0m1 -12h0m0 0h0m0 4h0m1 1h0m1 -11h0m0 17h0m1 -57h0m0 38h0m1 -1h0m0 10h0m0 7h0m0 0h0m1 -49h0m0 50h0m0 1h0m0 1h0m1 -10h0m0 8h0m1 -3h0m0 6h0m1 -14h0m1 11h0m1 -2h0m0 6h0m1 -34h0m1 17h0m0 15h0m0 0h0m0 1h0m1 -48h0m1 38h0m0 5h0m2 -48h0m0 51h0m1 -54h0m0 42h0m1 -9h0m0 19h0m2 -26h0m1 3h0m1 15h0m0 6h0m0 4h0m1 -4h0m2 -29h0m2 -24h0m0 58h0m1 -22h0m2 13h0m0 10h0m1 -108h0m0 75h0m3 26h0m4 5h0m1 -7h0m2 5h0m4 1h0m3 -58h0m8 53h0m11 1h0m2 -19h0m7 20h0" stroke="#ec6a4e" stroke-width="6.6" stroke-linecap="round" stroke-opacity="0.5" fill="none"/><path d="M355 460h0m0 1h0m0 1h0m1 -9h0m0 2h0m0 1h0m0 1h0m0 4h0m1 -15h0m0 0h0m0 1h0m0 6h0m0 2h0m0 7h0m1 -23h0m0 5h0m0 1h0m0 12h0m0 2h0m0 3h0m0 0h0m0 1h0m1 -27h0m0 0h0m0 1h0m0 4h0m0 19h0m0 2h0m0 0h0m1 -36h0m0 18h0m0 14h0m1 -40h0m0 35h0m0 8h0m0 1h0m1 -48h0m0 29h0m0 3h0m0 3h0m0 4h0m0 10h0m0 0h0m1 -45h0m0 17h0m0 8h0m0 1h0m0 7h0m0 8h0m1 -40h0m0 30h0m0 2h0m0 3h0m1 -26h0m0 15h0m0 1h0m0 6h0m0 6h0m0 2h0m0 0h0m1 -22h0m0 0h0m0 0h0m0 6h0m0 0h0m0 0h0m0 4h0m0 2h0m0 10h0m1 -15h0m0 1h0m0 2h0m0 7h0m0 1h0m0 2h0m0 4h0m0 1h0m1 -44h0m0 35h0m0 1h0m0 0h0m0 2h0m1 -50h0m0 13h0m0 9h0m0 3h0m0 10h0m0 0h0m0 12h0m0 11h0m1 -27h0m0 1h0m0 5h0m0 1h0m0 4h0m1 10h0m0 0h0m0 6h0m1 -23h0m0 8h0m0 11h0m1 -16h0m0 1h0m0 8h0m0 2h0m0 1h0m0 6h0m1 -38h0m0 21h0m0 16h0m1 -9h0m1 -13h0m0 22h0m0 1h0m1 -39h0m0 25h0m1 11h0m0 4h0m0 1h0m1 -19h0m0 16h0m0 1h0m1 1h0m1 -18h0m1 8h0m0 11h0m1 -61h0m0 48h0m0 3h0m1 -10h0m0 5h0m0 4h0m1 1h0m0 7h0m1 2h0m0 1h0m1 -18h0m0 12h0m0 3h0m0 0h0m3 -14h0m0 13h0m1 2h0m1 -61h0m0 33h0m0 22h0m1 -6h0m0 4h0m1 -17h0m0 23h0m2 -21h0m0 15h0m1 2h0m3 -33h0m0 36h0m2 -12h0m0 6h0m0 11h0m2 -6h0m1 -79h0m3 36h0m0 40h0m1 5h0m0 2h0m1 -35h0m1 29h0m0 5h0m1 -15h0m0 18h0m2 -5h0m4 1h0m1 -2h0m0 2h0m1 -46h0m0 31h0m1 -8h0m0 21h0m1 5h0m1 1h0m2 -1h0m3 1h0m5 -2h0m2 -17h0m0 12h0m4 -3h0m8 -16h0m7 18h0m0 0h0m1 6h0m0 1h0m2 -15h0m1 13h0m13 -12h0m13 -239h0" stroke="#ec6a4e" stroke-width="6.6" stroke-linecap="round" stroke-opacity="0.5" fill="none"/><path d="M355 460h0m0 1h0m1 -6h0m0 1h0m0 1h0m0 1h0m0 3h0m0 1h0m1 -16h0m0 0h0m0 6h0m0 0h0m0 4h0m0 2h0m0 0h0m0 1h0m1 -15h0m0 1h0m0 0h0m0 1h0m0 5h0m0 3h0m0 7h0m1 -24h0m0 1h0m0 14h0m0 1h0m0 7h0m0 1h0m1 -18h0m0 12h0m1 -19h0m0 22h0m0 0h0m0 0h0m0 4h0m1 -22h0m0 8h0m0 6h0m0 5h0m0 3h0m1 -17h0m0 7h0m0 2h0m0 0h0m0 6h0m1 -21h0m0 7h0m0 13h0m0 0h0m1 -40h0m0 38h0m0 2h0m1 -13h0m0 5h0m0 8h0m0 1h0m1 -82h0m0 60h0m0 4h0m0 17h0m0 1h0m0 2h0m0 1h0m1 -60h0m0 19h0m0 13h0m0 14h0m0 3h0m0 8h0m0 0h0m0 1h0m0 1h0m1 -46h0m0 40h0m0 2h0m0 0h0m1 -5h0m1 -21h0m0 19h0m0 6h0m0 4h0m1 -31h0m0 22h0m0 4h0m0 1h0m0 2h0m1 -1h0m0 3h0m1 -9h0m0 10h0m0 1h0m1 -17h0m0 3h0m0 2h0m0 0h0m0 2h0m0 2h0m0 3h0m1 -30h0m0 29h0m0 4h0m1 -43h0m0 26h0m0 13h0m2 1h0m0 3h0m1 -84h0m0 52h0m0 26h0m0 2h0m1 -32h0m0 24h0m0 3h0m0 2h0m1 -10h0m0 18h0m2 -14h0m0 5h0m0 0h0m0 3h0m0 0h0m0 6h0m1 -18h0m0 14h0m1 -6h0m0 2h0m0 2h0m0 7h0m1 -86h0m0 65h0m0 3h0m0 12h0m1 -3h0m1 9h0m4 -16h0m0 5h0m0 1h0m1 -35h0m0 25h0m0 0h0m1 9h0m0 3h0m0 5h0m1 -2h0m0 1h0m1 0h0m0 2h0m0 2h0m1 -21h0m0 21h0m1 -6h0m0 2h0m1 -25h0m0 19h0m1 -7h0m0 11h0m0 6h0m1 -19h0m0 17h0m1 -2h0m1 -14h0m0 15h0m0 1h0m1 -20h0m0 9h0m3 -164h0m0 175h0m1 -10h0m0 12h0m1 -35h0m2 26h0m1 2h0m1 -160h0m0 103h0m1 9h0m0 44h0m1 -44h0m0 50h0m1 -5h0m0 1h0m1 -1h0m2 -68h0m6 76h0m2 2h0m3 -3h0m1 0h0m4 -94h0m2 97h0m12 -13h0m13 4h0m6 6h0m2 -11h0" stroke="#ec6a4e" stroke-width="6.6" stroke-linecap="round" stroke-opacity="0.5" fill="none"/><path d="M355 460h0m0 0h0m0 1h0m0 2h0m0 0h0m1 -8h0m0 1h0m0 3h0m1 -8h0m0 0h0m0 7h0m1 -18h0m0 18h0m0 1h0m0 1h0m0 0h0m1 -19h0m0 13h0m0 3h0m0 1h0m0 1h0m1 -34h0m0 1h0m0 12h0m0 9h0m0 0h0m0 5h0m0 1h0m0 1h0m0 4h0m0 5h0m1 -25h0m0 6h0m0 14h0m0 1h0m0 1h0m0 3h0m0 0h0m0 0h0m0 0h0m1 -38h0m0 13h0m0 7h0m0 3h0m0 3h0m0 1h0m0 0h0m0 6h0m0 1h0m1 -4h0m0 4h0m0 2h0m1 -16h0m0 2h0m0 5h0m0 8h0m0 2h0m0 0h0m1 -23h0m0 12h0m0 5h0m0 1h0m0 3h0m0 0h0m0 2h0m0 0h0m1 -15h0m0 7h0m0 1h0m1 -7h0m0 10h0m0 1h0m0 0h0m1 -8h0m0 7h0m0 1h0m0 1h0m1 -31h0m0 20h0m0 12h0m0 2h0m1 -52h0m0 39h0m1 -5h0m0 5h0m0 8h0m0 2h0m1 -18h0m0 5h0m0 7h0m1 -6h0m0 1h0m0 5h0m0 0h0m0 5h0m0 0h0m1 -19h0m0 16h0m0 3h0m1 -30h0m0 17h0m0 0h0m0 10h0m0 2h0m0 4h0m1 -47h0m0 15h0m0 5h0m1 12h0m0 2h0m0 3h0m1 -24h0m1 21h0m0 13h0m1 -23h0m0 7h0m1 11h0m1 -18h0m0 17h0m1 -15h0m0 9h0m0 3h0m0 7h0m1 -13h0m0 4h0m0 6h0m0 0h0m0 4h0m1 -26h0m0 8h0m0 11h0m0 2h0m0 5h0m1 -15h0m0 6h0m0 2h0m1 -27h0m0 14h0m0 18h0m0 2h0m0 1h0m1 -20h0m0 8h0m0 0h0m1 -22h0m0 21h0m2 -9h0m0 19h0m1 -15h0m0 6h0m1 -2h0m0 7h0m1 -8h0m1 11h0m0 3h0m1 -20h0m0 7h0m1 -40h0m0 43h0m1 6h0m0 3h0m1 -6h0m1 -18h0m2 22h0m2 -42h0m0 47h0m1 -33h0m2 18h0m0 8h0m1 1h0m2 -17h0m1 -45h0m1 42h0m0 22h0m3 -58h0m2 61h0m1 1h0m2 -10h0m1 10h0m1 -3h0m0 1h0m1 2h0m3 -69h0m1 67h0m3 -12h0m3 14h0m9 -10h0m2 -109h0m2 108h0m1 -7h0m6 17h0m6 -28h0m13 24h0" stroke="#ec6a4e" stroke-width="6.6" stroke-linecap="round" stroke-opacity="0.5" fill="none"/>
</g>
<line x1="323.7" y1="50.8" x2="323.7" y2="490" stroke="#7fb2da" stroke-width="1.6"/>
<line x1="354.9" y1="50.8" x2="354.9" y2="490" stroke="#ee6a50" stroke-width="1.6"/>
<line x1="108" y1="463.5" x2="745" y2="463.5" stroke="#222" stroke-width="2" stroke-dasharray="8 5"/>
<rect x="106.5" y="49.3" width="640.5" height="442.4" fill="none" stroke="#000" stroke-width="3.2"/>
<line x1="101.5" y1="471.9" x2="105" y2="471.9" stroke="#333" stroke-width="1.5"/>
<text x="98.5" y="471.9" font-size="29.5" text-anchor="middle" transform="rotate(-90 98.5 471.9)">0</text>
<line x1="101.5" y1="336.3" x2="105" y2="336.3" stroke="#333" stroke-width="1.5"/>
<text x="98.5" y="336.3" font-size="29.5" text-anchor="middle" transform="rotate(-90 98.5 336.3)">20</text>
<line x1="101.5" y1="200.8" x2="105" y2="200.8" stroke="#333" stroke-width="1.5"/>
<text x="98.5" y="200.8" font-size="29.5" text-anchor="middle" transform="rotate(-90 98.5 200.8)">40</text>
<line x1="101.5" y1="65.2" x2="105" y2="65.2" stroke="#333" stroke-width="1.5"/>
<text x="98.5" y="65.2" font-size="29.5" text-anchor="middle" transform="rotate(-90 98.5 65.2)">60</text>
<line x1="184.5" y1="493" x2="184.5" y2="496.5" stroke="#333" stroke-width="1.5"/>
<text x="179" y="521.3" font-size="25.3" text-anchor="middle">-10</text>
<line x1="339.5" y1="493" x2="339.5" y2="496.5" stroke="#333" stroke-width="1.5"/>
<text x="334" y="521.3" font-size="25.3" text-anchor="middle">0</text>
<line x1="494.5" y1="493" x2="494.5" y2="496.5" stroke="#333" stroke-width="1.5"/>
<text x="489" y="521.3" font-size="25.3" text-anchor="middle">10</text>
<line x1="649.5" y1="493" x2="649.5" y2="496.5" stroke="#333" stroke-width="1.5"/>
<text x="644" y="521.3" font-size="25.3" text-anchor="middle">20</text>
<text x="300" y="568" font-size="32.3">log<tspan font-size="21" dy="8">2</tspan><tspan dy="-8">(Fold Change)</tspan></text>
<text transform="translate(38.6 280) rotate(-90)" font-size="32.3" text-anchor="middle">-log<tspan font-size="21" dy="8">10</tspan><tspan dy="-8">(p-value)</tspan></text>
<text x="752" y="37" font-size="42">b</text>
<text x="1535" y="31" font-size="22.5" text-anchor="middle">Sig GO term biological process</text>
<line x1="1377.4" y1="42" x2="1377.4" y2="509.4" stroke="#ececec" stroke-width="1.0"/>
<line x1="1467.4" y1="42" x2="1467.4" y2="509.4" stroke="#ececec" stroke-width="1.0"/>
<line x1="1557.4" y1="42" x2="1557.4" y2="509.4" stroke="#ececec" stroke-width="1.0"/>
<line x1="1647.4" y1="42" x2="1647.4" y2="509.4" stroke="#ececec" stroke-width="1.0"/>
<line x1="1422.4" y1="42" x2="1422.4" y2="509.4" stroke="#e6e6e6" stroke-width="1.8"/>
<line x1="1512.4" y1="42" x2="1512.4" y2="509.4" stroke="#e6e6e6" stroke-width="1.8"/>
<line x1="1602.4" y1="42" x2="1602.4" y2="509.4" stroke="#e6e6e6" stroke-width="1.8"/>
<line x1="1692.4" y1="42" x2="1692.4" y2="509.4" stroke="#e6e6e6" stroke-width="1.8"/>
<line x1="1357.5" y1="69" x2="1712.6" y2="69" stroke="#e6e6e6" stroke-width="1.8"/>
<line x1="1357.5" y1="114.9" x2="1712.6" y2="114.9" stroke="#e6e6e6" stroke-width="1.8"/>
<line x1="1357.5" y1="160.9" x2="1712.6" y2="160.9" stroke="#e6e6e6" stroke-width="1.8"/>
<line x1="1357.5" y1="206.8" x2="1712.6" y2="206.8" stroke="#e6e6e6" stroke-width="1.8"/>
<line x1="1357.5" y1="252.8" x2="1712.6" y2="252.8" stroke="#e6e6e6" stroke-width="1.8"/>
<line x1="1357.5" y1="298.7" x2="1712.6" y2="298.7" stroke="#e6e6e6" stroke-width="1.8"/>
<line x1="1357.5" y1="344.6" x2="1712.6" y2="344.6" stroke="#e6e6e6" stroke-width="1.8"/>
<line x1="1357.5" y1="390.6" x2="1712.6" y2="390.6" stroke="#e6e6e6" stroke-width="1.8"/>
<line x1="1357.5" y1="436.5" x2="1712.6" y2="436.5" stroke="#e6e6e6" stroke-width="1.8"/>
<line x1="1357.5" y1="482.5" x2="1712.6" y2="482.5" stroke="#e6e6e6" stroke-width="1.8"/>
<rect x="1357.5" y="42" width="355.1" height="467.4" fill="none" stroke="#333" stroke-width="1.6"/>
<line x1="1352.5" y1="69" x2="1357.5" y2="69" stroke="#333" stroke-width="1.5"/>
<text x="1345.7" y="74.8" font-size="29" text-anchor="end">unsaturated fatty acid metabolic process</text>
<line x1="1352.5" y1="114.9" x2="1357.5" y2="114.9" stroke="#333" stroke-width="1.5"/>
<text x="1345.7" y="121.7" font-size="29" text-anchor="end" fill="#ff0000">response to endoplasmic reticulum stress</text>
<line x1="1352.5" y1="160.9" x2="1357.5" y2="160.9" stroke="#333" stroke-width="1.5"/>
<text x="1345.7" y="168.6" font-size="29" text-anchor="end">icosanoid metabolic process</text>
<line x1="1352.5" y1="206.8" x2="1357.5" y2="206.8" stroke="#333" stroke-width="1.5"/>
<text x="1345.7" y="215.5" font-size="29" text-anchor="end">xenobiotic metabolic process</text>
<line x1="1352.5" y1="252.8" x2="1357.5" y2="252.8" stroke="#333" stroke-width="1.5"/>
<text x="1345.7" y="262.4" font-size="29" text-anchor="end">olefinic compound metabolic process</text>
<line x1="1352.5" y1="298.7" x2="1357.5" y2="298.7" stroke="#333" stroke-width="1.5"/>
<text x="1345.7" y="309.3" font-size="29" text-anchor="end">long-chain fatty acid metabolic process</text>
<line x1="1352.5" y1="344.6" x2="1357.5" y2="344.6" stroke="#333" stroke-width="1.5"/>
<text x="1345.7" y="356.2" font-size="29" text-anchor="end">cellular response to xenobiotic stimulus</text>
<line x1="1352.5" y1="390.6" x2="1357.5" y2="390.6" stroke="#333" stroke-width="1.5"/>
<text x="1345.7" y="403.1" font-size="29" text-anchor="end">steroid metabolic process</text>
<line x1="1352.5" y1="436.5" x2="1357.5" y2="436.5" stroke="#333" stroke-width="1.5"/>
<text x="1345.7" y="450" font-size="29" text-anchor="end">fatty acid metabolic process</text>
<line x1="1352.5" y1="482.5" x2="1357.5" y2="482.5" stroke="#333" stroke-width="1.5"/>
<text x="1345.7" y="496.9" font-size="29" text-anchor="end">response to xenobiotic stimulus</text>
<circle cx="1696.5" cy="69" r="8.4" fill="#ee6a50"/>
<circle cx="1661.2" cy="114.9" r="14.1" fill="#ee6a50"/>
<circle cx="1638" cy="160.9" r="8" fill="#ee6a50"/>
<circle cx="1597.3" cy="206.8" r="10" fill="#ee6a50"/>
<circle cx="1572.7" cy="252.8" r="8.7" fill="#ee6a50"/>
<circle cx="1497.4" cy="298.7" r="5.4" fill="#ee6a50"/>
<circle cx="1475.5" cy="344.6" r="11" fill="#ee6a50"/>
<circle cx="1455.3" cy="390.6" r="14.5" fill="#ee6a50"/>
<circle cx="1381" cy="436.5" r="17.2" fill="#ee6a50"/>
<circle cx="1373" cy="482.5" r="13.5" fill="#ee6a50"/>
<line x1="1422.4" y1="509.4" x2="1422.4" y2="514.4" stroke="#333" stroke-width="1.5"/>
<text x="1422.4" y="535" font-size="22" text-anchor="middle" fill="#1a1a1a">2.3</text>
<line x1="1512.4" y1="509.4" x2="1512.4" y2="514.4" stroke="#333" stroke-width="1.5"/>
<text x="1512.4" y="535" font-size="22" text-anchor="middle" fill="#1a1a1a">2.4</text>
<line x1="1602.4" y1="509.4" x2="1602.4" y2="514.4" stroke="#333" stroke-width="1.5"/>
<text x="1602.4" y="535" font-size="22" text-anchor="middle" fill="#1a1a1a">2.5</text>
<line x1="1692.4" y1="509.4" x2="1692.4" y2="514.4" stroke="#333" stroke-width="1.5"/>
<text x="1692.4" y="535" font-size="22" text-anchor="middle" fill="#1a1a1a">2.6</text>
<text x="1537.5" y="562.6" font-size="22.5" text-anchor="middle">| normalized enrichment score |</text>
<text x="1743.6" y="86" font-size="19" font-weight="normal">setSize</text>
<circle cx="1764.4" cy="114.3" r="10.4" fill="#000"/>
<text x="1794" y="121.1" font-size="19" font-weight="normal">40</text>
<circle cx="1764.4" cy="147" r="13.4" fill="#000"/>
<text x="1794" y="153.8" font-size="19" font-weight="normal">60</text>
<circle cx="1764.4" cy="181.6" r="15.5" fill="#000"/>
<text x="1794" y="188.4" font-size="19" font-weight="normal">80</text>
<circle cx="1764.4" cy="221" r="16.8" fill="#000"/>
<text x="1794" y="227.8" font-size="19" font-weight="normal">100</text>
<text x="1743.6" y="305.3" font-size="19">−log10(p.adjust)</text>
<rect x="1743.6" y="317.8" width="32.9" height="164.1" fill="#ee6a50"/>
<line x1="1743.6" y1="399.5" x2="1750.2" y2="399.5" stroke="#fff" stroke-width="1.5"/>
<line x1="1769.9" y1="399.5" x2="1776.5" y2="399.5" stroke="#fff" stroke-width="1.5"/>
<text x="1785.6" y="406.4" font-size="19" font-weight="normal">2.108206</text>
<text x="3.3" y="636.3" font-size="43">c</text>
<line x1="188" y1="694.3" x2="188" y2="1174.2" stroke="#000" stroke-width="4.6"/>
<line x1="167" y1="1172" x2="188" y2="1172" stroke="#000" stroke-width="4.6"/>
<text x="160.7" y="1187.2" font-size="39" text-anchor="end">0</text>
<line x1="167" y1="1053" x2="188" y2="1053" stroke="#000" stroke-width="4.6"/>
<text x="160.7" y="1068.2" font-size="39" text-anchor="end">1</text>
<line x1="167" y1="934" x2="188" y2="934" stroke="#000" stroke-width="4.6"/>
<text x="160.7" y="949.2" font-size="39" text-anchor="end">2</text>
<line x1="167" y1="815" x2="188" y2="815" stroke="#000" stroke-width="4.6"/>
<text x="160.7" y="830.2" font-size="39" text-anchor="end">3</text>
<line x1="167" y1="696" x2="188" y2="696" stroke="#000" stroke-width="4.6"/>
<text x="160.7" y="711.2" font-size="39" text-anchor="end">4</text>
<line x1="167" y1="1172" x2="920" y2="1172" stroke="#000" stroke-width="4.6"/>
<line x1="255.2" y1="1172" x2="255.2" y2="1192" stroke="#000" stroke-width="4.6"/>
<text x="256.2" y="1233" font-size="38.5" text-anchor="middle" font-style="italic">Bip</text>
<line x1="403.4" y1="1172" x2="403.4" y2="1192" stroke="#000" stroke-width="4.6"/>
<text x="404.4" y="1233" font-size="38.5" text-anchor="middle" font-style="italic">Atf4</text>
<line x1="551.5" y1="1172" x2="551.5" y2="1192" stroke="#000" stroke-width="4.6"/>
<text x="552.5" y="1233" font-size="38.5" text-anchor="middle" font-style="italic">Atf6</text>
<line x1="699.7" y1="1172" x2="699.7" y2="1192" stroke="#000" stroke-width="4.6"/>
<text x="700.7" y="1233" font-size="38.5" text-anchor="middle" font-style="italic">Ire1</text>
<line x1="847.8" y1="1172" x2="847.8" y2="1192" stroke="#000" stroke-width="4.6"/>
<text x="848.8" y="1233" font-size="38.5" text-anchor="middle" font-style="italic">Chop</text>
<text transform="translate(113 931) rotate(-90)" font-size="39" text-anchor="middle">Relative mRNA expression</text>
<rect x="202.7" y="697" width="47.8" height="13.9" fill="#fff" stroke="#000" stroke-width="4.5"/>
<text x="282.5" y="715.7" font-size="34.5">WT</text>
<rect x="369.6" y="700.9" width="47" height="12.3" fill="#f9a1a1" stroke="#000" stroke-width="4.5"/>
<text x="450" y="721.3" font-size="34.5" font-style="italic">Asgr1<tspan font-size="23.5" dy="-14.5">-/-</tspan></text>
<rect x="204.5" y="1055.3" width="41" height="116.7" fill="#fff" stroke="#000" stroke-width="4.6"/>
<rect x="265" y="931.9" width="41" height="240.1" fill="#f9a1a1" stroke="#000" stroke-width="4.6"/>
<line x1="225" y1="1041.4" x2="225" y2="1066.5" stroke="#000" stroke-width="4.4"/>
<line x1="213.5" y1="1041.4" x2="236.5" y2="1041.4" stroke="#000" stroke-width="4.4"/>
<line x1="213.5" y1="1066.5" x2="236.5" y2="1066.5" stroke="#000" stroke-width="4.4"/>
<line x1="285.5" y1="905" x2="285.5" y2="955" stroke="#000" stroke-width="4.4"/>
<line x1="274" y1="905" x2="297" y2="905" stroke="#000" stroke-width="4.4"/>
<line x1="274" y1="955" x2="297" y2="955" stroke="#000" stroke-width="4.4"/>
<circle cx="209.3" cy="1021.3" r="7.3" fill="#fff" stroke="#000" stroke-width="4.3"/>
<circle cx="241" cy="1029.3" r="7.3" fill="#fff" stroke="#000" stroke-width="4.3"/>
<circle cx="209.3" cy="1047.7" r="7.3" fill="#fff" stroke="#000" stroke-width="4.3"/>
<circle cx="225.4" cy="1062.9" r="7.3" fill="#fff" stroke="#000" stroke-width="4.3"/>
<circle cx="241" cy="1057" r="7.3" fill="#fff" stroke="#000" stroke-width="4.3"/>
<circle cx="225.4" cy="1102.5" r="7.3" fill="#fff" stroke="#000" stroke-width="4.3"/>
<circle cx="285.2" cy="839.5" r="7.3" fill="#fff" stroke="#000" stroke-width="4.3"/>
<circle cx="285.2" cy="881" r="7.3" fill="#fff" stroke="#000" stroke-width="4.3"/>
<circle cx="285.2" cy="931.4" r="7.3" fill="#fff" stroke="#000" stroke-width="4.3"/>
<circle cx="285.2" cy="953.4" r="7.3" fill="#fff" stroke="#000" stroke-width="4.3"/>
<circle cx="285.2" cy="973.9" r="7.3" fill="#fff" stroke="#000" stroke-width="4.3"/>
<circle cx="285.2" cy="993.6" r="7.3" fill="#fff" stroke="#000" stroke-width="4.3"/>
<line x1="231" y1="823" x2="285.2" y2="823" stroke="#000" stroke-width="4.6"/>
<text x="261.1" y="834.8" font-size="62" text-anchor="middle" letter-spacing="6">**</text>
<rect x="352.7" y="1055.5" width="41" height="116.5" fill="#fff" stroke="#000" stroke-width="4.6"/>
<rect x="413.2" y="974.9" width="41" height="197.1" fill="#f9a1a1" stroke="#000" stroke-width="4.6"/>
<line x1="373.2" y1="1040.9" x2="373.2" y2="1066.6" stroke="#000" stroke-width="4.4"/>
<line x1="361.7" y1="1040.9" x2="384.7" y2="1040.9" stroke="#000" stroke-width="4.4"/>
<line x1="361.7" y1="1066.6" x2="384.7" y2="1066.6" stroke="#000" stroke-width="4.4"/>
<line x1="433.7" y1="956.2" x2="433.7" y2="993" stroke="#000" stroke-width="4.4"/>
<line x1="422.2" y1="956.2" x2="445.2" y2="956.2" stroke="#000" stroke-width="4.4"/>
<line x1="422.2" y1="993" x2="445.2" y2="993" stroke="#000" stroke-width="4.4"/>
<circle cx="358" cy="1021.8" r="7.3" fill="#fff" stroke="#000" stroke-width="4.3"/>
<circle cx="373.6" cy="1028.4" r="7.3" fill="#fff" stroke="#000" stroke-width="4.3"/>
<circle cx="358" cy="1038.8" r="7.3" fill="#fff" stroke="#000" stroke-width="4.3"/>
<circle cx="373.6" cy="1047.7" r="7.3" fill="#fff" stroke="#000" stroke-width="4.3"/>
<circle cx="358" cy="1094.5" r="7.3" fill="#fff" stroke="#000" stroke-width="4.3"/>
<circle cx="389.3" cy="1088.2" r="7.3" fill="#fff" stroke="#000" stroke-width="4.3"/>
<circle cx="434" cy="911.3" r="7.3" fill="#fff" stroke="#000" stroke-width="4.3"/>
<circle cx="434" cy="952.5" r="7.3" fill="#fff" stroke="#000" stroke-width="4.3"/>
<circle cx="434" cy="970.4" r="7.3" fill="#fff" stroke="#000" stroke-width="4.3"/>
<circle cx="418.6" cy="981.9" r="7.3" fill="#fff" stroke="#000" stroke-width="4.3"/>
<circle cx="449.5" cy="989" r="7.3" fill="#fff" stroke="#000" stroke-width="4.3"/>
<circle cx="434" cy="1022.1" r="7.3" fill="#fff" stroke="#000" stroke-width="4.3"/>
<line x1="380.8" y1="888.5" x2="434" y2="888.5" stroke="#000" stroke-width="4.6"/>
<text x="410.4" y="904" font-size="62" text-anchor="middle" letter-spacing="6">**</text>
<rect x="500.8" y="1056" width="41" height="116" fill="#fff" stroke="#000" stroke-width="4.6"/>
<rect x="561.3" y="980.2" width="41" height="191.8" fill="#f9a1a1" stroke="#000" stroke-width="4.6"/>
<line x1="521.3" y1="1041.3" x2="521.3" y2="1070" stroke="#000" stroke-width="4.4"/>
<line x1="509.8" y1="1041.3" x2="532.8" y2="1041.3" stroke="#000" stroke-width="4.4"/>
<line x1="509.8" y1="1070" x2="532.8" y2="1070" stroke="#000" stroke-width="4.4"/>
<line x1="581.8" y1="960.2" x2="581.8" y2="993.3" stroke="#000" stroke-width="4.4"/>
<line x1="570.3" y1="960.2" x2="593.3" y2="960.2" stroke="#000" stroke-width="4.4"/>
<line x1="570.3" y1="993.3" x2="593.3" y2="993.3" stroke="#000" stroke-width="4.4"/>
<circle cx="522.3" cy="1022" r="7.3" fill="#fff" stroke="#000" stroke-width="4.3"/>
<circle cx="537.7" cy="1016" r="7.3" fill="#fff" stroke="#000" stroke-width="4.3"/>
<circle cx="506.2" cy="1055.5" r="7.3" fill="#fff" stroke="#000" stroke-width="4.3"/>
<circle cx="537.7" cy="1061.4" r="7.3" fill="#fff" stroke="#000" stroke-width="4.3"/>
<circle cx="522.3" cy="1073.2" r="7.3" fill="#fff" stroke="#000" stroke-width="4.3"/>
<circle cx="522.3" cy="1090.8" r="7.3" fill="#fff" stroke="#000" stroke-width="4.3"/>
<circle cx="567.1" cy="933" r="7.3" fill="#fff" stroke="#000" stroke-width="4.3"/>
<circle cx="582.6" cy="944.1" r="7.3" fill="#fff" stroke="#000" stroke-width="4.3"/>
<circle cx="567.1" cy="963.9" r="7.3" fill="#fff" stroke="#000" stroke-width="4.3"/>
<circle cx="582.6" cy="970.1" r="7.3" fill="#fff" stroke="#000" stroke-width="4.3"/>
<circle cx="567.1" cy="1027.7" r="7.3" fill="#fff" stroke="#000" stroke-width="4.3"/>
<circle cx="598.1" cy="1026.1" r="7.3" fill="#fff" stroke="#000" stroke-width="4.3"/>
<line x1="530" y1="912.2" x2="584.8" y2="912.2" stroke="#000" stroke-width="4.6"/>
<text x="560.4" y="923.2" font-size="62" text-anchor="middle" letter-spacing="6">**</text>
<rect x="649" y="1056" width="41" height="116" fill="#fff" stroke="#000" stroke-width="4.6"/>
<rect x="709.5" y="986.3" width="41" height="185.7" fill="#f9a1a1" stroke="#000" stroke-width="4.6"/>
<line x1="669.5" y1="1042.2" x2="669.5" y2="1069" stroke="#000" stroke-width="4.4"/>
<line x1="658" y1="1042.2" x2="681" y2="1042.2" stroke="#000" stroke-width="4.4"/>
<line x1="658" y1="1069" x2="681" y2="1069" stroke="#000" stroke-width="4.4"/>
<line x1="730" y1="965.5" x2="730" y2="1000.5" stroke="#000" stroke-width="4.4"/>
<line x1="718.5" y1="965.5" x2="741.5" y2="965.5" stroke="#000" stroke-width="4.4"/>
<line x1="718.5" y1="1000.5" x2="741.5" y2="1000.5" stroke="#000" stroke-width="4.4"/>
<circle cx="670.2" cy="1013.8" r="7.3" fill="#fff" stroke="#000" stroke-width="4.3"/>
<circle cx="686.3" cy="1041.3" r="7.3" fill="#fff" stroke="#000" stroke-width="4.3"/>
<circle cx="670.2" cy="1045.3" r="7.3" fill="#fff" stroke="#000" stroke-width="4.3"/>
<circle cx="670.2" cy="1065.4" r="7.3" fill="#fff" stroke="#000" stroke-width="4.3"/>
<circle cx="686.3" cy="1061.4" r="7.3" fill="#fff" stroke="#000" stroke-width="4.3"/>
<circle cx="670.2" cy="1090.8" r="7.3" fill="#fff" stroke="#000" stroke-width="4.3"/>
<circle cx="746.6" cy="926.2" r="7.3" fill="#fff" stroke="#000" stroke-width="4.3"/>
<circle cx="731.2" cy="940.7" r="7.3" fill="#fff" stroke="#000" stroke-width="4.3"/>
<circle cx="715.1" cy="980.3" r="7.3" fill="#fff" stroke="#000" stroke-width="4.3"/>
<circle cx="731.2" cy="991.8" r="7.3" fill="#fff" stroke="#000" stroke-width="4.3"/>
<circle cx="731.2" cy="1015.3" r="7.3" fill="#fff" stroke="#000" stroke-width="4.3"/>
<circle cx="731.2" cy="1041.3" r="7.3" fill="#fff" stroke="#000" stroke-width="4.3"/>
<line x1="677.9" y1="908.2" x2="732.7" y2="908.2" stroke="#000" stroke-width="4.6"/>
<text x="708.3" y="919.5" font-size="62" text-anchor="middle" letter-spacing="6">**</text>
<rect x="797.1" y="1056" width="41" height="116" fill="#fff" stroke="#000" stroke-width="4.6"/>
<rect x="857.6" y="930" width="41" height="242" fill="#f9a1a1" stroke="#000" stroke-width="4.6"/>
<line x1="817.6" y1="1043.8" x2="817.6" y2="1067" stroke="#000" stroke-width="4.4"/>
<line x1="806.1" y1="1043.8" x2="829.1" y2="1043.8" stroke="#000" stroke-width="4.4"/>
<line x1="806.1" y1="1067" x2="829.1" y2="1067" stroke="#000" stroke-width="4.4"/>
<line x1="878.1" y1="896.8" x2="878.1" y2="961" stroke="#000" stroke-width="4.4"/>
<line x1="866.6" y1="896.8" x2="889.6" y2="896.8" stroke="#000" stroke-width="4.4"/>
<line x1="866.6" y1="961" x2="889.6" y2="961" stroke="#000" stroke-width="4.4"/>
<circle cx="803" cy="1020.6" r="7.3" fill="#fff" stroke="#000" stroke-width="4.3"/>
<circle cx="818.4" cy="1031.4" r="7.3" fill="#fff" stroke="#000" stroke-width="4.3"/>
<circle cx="818.4" cy="1049.4" r="7.3" fill="#fff" stroke="#000" stroke-width="4.3"/>
<circle cx="818.4" cy="1062.4" r="7.3" fill="#fff" stroke="#000" stroke-width="4.3"/>
<circle cx="803" cy="1076.9" r="7.3" fill="#fff" stroke="#000" stroke-width="4.3"/>
<circle cx="834.2" cy="1076.3" r="7.3" fill="#fff" stroke="#000" stroke-width="4.3"/>
<circle cx="879.1" cy="823.4" r="7.3" fill="#fff" stroke="#000" stroke-width="4.3"/>
<circle cx="879.1" cy="854.4" r="7.3" fill="#fff" stroke="#000" stroke-width="4.3"/>
<circle cx="879.1" cy="930.2" r="7.3" fill="#fff" stroke="#000" stroke-width="4.3"/>
<circle cx="879.1" cy="956.5" r="7.3" fill="#fff" stroke="#000" stroke-width="4.3"/>
<circle cx="879.1" cy="984" r="7.3" fill="#fff" stroke="#000" stroke-width="4.3"/>
<circle cx="879.1" cy="1009.7" r="7.3" fill="#fff" stroke="#000" stroke-width="4.3"/>
<line x1="826.2" y1="803.3" x2="880.3" y2="803.3" stroke="#000" stroke-width="4.6"/>
<text x="856.2" y="816.7" font-size="62" text-anchor="middle" letter-spacing="6">**</text>
<text x="939.5" y="635.7" font-size="42">d</text>
<text x="1408.7" y="634" font-size="31.5" text-anchor="middle">WT</text>
<text x="1558.3" y="634" font-size="31.5" font-style="italic">Asgr1<tspan font-size="21.4" dy="-13.2">-/-</tspan></text>
<line x1="1314.2" y1="644" x2="1503.2" y2="644" stroke="#000" stroke-width="3.2"/>
<line x1="1518" y1="644" x2="1707.8" y2="644" stroke="#000" stroke-width="3.2"/>
<text x="1730.9" y="655.1" font-size="31">kDa</text>
<rect x="1304.5" y="655.5" width="413" height="67.7" fill="#e8e8e8"/>
<g filter="url(#bl)">
<path d="M1314.8 692.5Q1333.9 692.5 1353 692.5" stroke="#0a0a0a" stroke-width="10" stroke-linecap="round" fill="none"/><circle cx="1316.5" cy="693" r="5.6" fill="#0a0a0a"/><circle cx="1351.3" cy="693" r="5.6" fill="#0a0a0a"/>
<path d="M1377 693Q1399.5 693 1422 693" stroke="#0a0a0a" stroke-width="10" stroke-linecap="round" fill="none"/><circle cx="1378.7" cy="693.5" r="5.6" fill="#0a0a0a"/><circle cx="1420.3" cy="693.5" r="5.6" fill="#0a0a0a"/>
<path d="M1448.2 694Q1469.3 692.5 1490.5 691" stroke="#0a0a0a" stroke-width="9" stroke-linecap="round" fill="none"/><circle cx="1449.7" cy="694.5" r="5" fill="#0a0a0a"/><circle cx="1489" cy="691.5" r="5" fill="#0a0a0a"/>
<path d="M1515 692.5Q1534.8 692.5 1554.7 692.5" stroke="#0a0a0a" stroke-width="16" stroke-linecap="round" fill="none"/><circle cx="1517.7" cy="693" r="9" fill="#0a0a0a"/><circle cx="1552" cy="693" r="9" fill="#0a0a0a"/>
<path d="M1582.7 693Q1603.6 693 1624.5 693" stroke="#0a0a0a" stroke-width="14" stroke-linecap="round" fill="none"/><circle cx="1585.1" cy="693.5" r="7.8" fill="#0a0a0a"/><circle cx="1622.1" cy="693.5" r="7.8" fill="#0a0a0a"/>
<path d="M1647.8 693Q1668.7 693 1689.6 693" stroke="#0a0a0a" stroke-width="14" stroke-linecap="round" fill="none"/><circle cx="1650.2" cy="693.5" r="7.8" fill="#0a0a0a"/><circle cx="1687.2" cy="693.5" r="7.8" fill="#0a0a0a"/>
</g>
<rect x="1304.5" y="655.5" width="413" height="67.7" fill="none" stroke="#000" stroke-width="3.2"/>
<text x="1296.8" y="699.7" font-size="31" text-anchor="end">BIP</text>
<line x1="1719" y1="695.3" x2="1740" y2="695.3" stroke="#000" stroke-width="3.2"/>
<text x="1743" y="707.2" font-size="31">78</text>
<rect x="1304.5" y="731.7" width="413" height="68.3" fill="#dadada"/>
<g filter="url(#bl)">
<path d="M1317.5 770.5Q1338.5 767.5 1359.5 764.5" stroke="#0a0a0a" stroke-width="5" stroke-linecap="round" fill="none"/><circle cx="1318.3" cy="771" r="2.8" fill="#0a0a0a"/><circle cx="1358.7" cy="765" r="2.8" fill="#0a0a0a"/>
<path d="M1386.8 767Q1407.3 765.5 1428 764" stroke="#0a0a0a" stroke-width="5.5" stroke-linecap="round" fill="none"/><circle cx="1387.7" cy="767.5" r="3.1" fill="#0a0a0a"/><circle cx="1427" cy="764.5" r="3.1" fill="#0a0a0a"/>
<path d="M1457 764Q1478 764 1499 764" stroke="#0a0a0a" stroke-width="8" stroke-linecap="round" fill="none"/><circle cx="1458.3" cy="764.5" r="4.5" fill="#0a0a0a"/><circle cx="1497.7" cy="764.5" r="4.5" fill="#0a0a0a"/>
<path d="M1519.1 765.5Q1540.9 765.5 1562.8 765.5" stroke="#0a0a0a" stroke-width="11" stroke-linecap="round" fill="none"/><circle cx="1520.9" cy="766" r="6.2" fill="#0a0a0a"/><circle cx="1561" cy="766" r="6.2" fill="#0a0a0a"/>
<path d="M1583.1 765.5Q1602.7 765.5 1622.3 765.5" stroke="#0a0a0a" stroke-width="11" stroke-linecap="round" fill="none"/><circle cx="1584.9" cy="766" r="6.2" fill="#0a0a0a"/><circle cx="1620.5" cy="766" r="6.2" fill="#0a0a0a"/>
<path d="M1644 766.5Q1669.5 769 1695 771.5" stroke="#0a0a0a" stroke-width="14" stroke-linecap="round" fill="none"/><circle cx="1646.4" cy="767" r="7.8" fill="#0a0a0a"/><circle cx="1692.6" cy="772" r="7.8" fill="#0a0a0a"/>
</g>
<rect x="1304.5" y="731.7" width="413" height="68.3" fill="none" stroke="#000" stroke-width="3.2"/>
<text x="1296.8" y="778" font-size="31" text-anchor="end">ATF4</text>
<line x1="1719" y1="767.8" x2="1740" y2="767.8" stroke="#000" stroke-width="3.2"/>
<text x="1743" y="776.7" font-size="31">45</text>
<rect x="1304.5" y="808" width="413" height="68.8" fill="#ebebeb"/>
<g filter="url(#bl)">
<path d="M1330.6 844.5Q1351.6 844.5 1372.6 844.5" stroke="#0a0a0a" stroke-width="12" stroke-linecap="round" fill="none"/><circle cx="1332.6" cy="845" r="6.7" fill="#0a0a0a"/><circle cx="1370.6" cy="845" r="6.7" fill="#0a0a0a"/>
<g opacity="0.8"><path d="M1392.5 845.5Q1415 845.5 1437.5 845.5" stroke="#0a0a0a" stroke-width="9" stroke-linecap="round" fill="none"/><circle cx="1394" cy="846" r="5" fill="#0a0a0a"/><circle cx="1436" cy="846" r="5" fill="#0a0a0a"/></g>
<g opacity="0.7"><path d="M1458.8 846Q1481.8 846 1504.8 846" stroke="#0a0a0a" stroke-width="8" stroke-linecap="round" fill="none"/><circle cx="1460.1" cy="846.5" r="4.5" fill="#0a0a0a"/><circle cx="1503.5" cy="846.5" r="4.5" fill="#0a0a0a"/></g>
<path d="M1524.2 845.5Q1546 845.5 1567.8 845.5" stroke="#0a0a0a" stroke-width="12.5" stroke-linecap="round" fill="none"/><circle cx="1526.3" cy="846" r="7" fill="#0a0a0a"/><circle cx="1565.7" cy="846" r="7" fill="#0a0a0a"/>
<path d="M1591.2 845.5Q1613.8 845.5 1636.5 845.5" stroke="#0a0a0a" stroke-width="12.5" stroke-linecap="round" fill="none"/><circle cx="1593.3" cy="846" r="7" fill="#0a0a0a"/><circle cx="1634.4" cy="846" r="7" fill="#0a0a0a"/>
<path d="M1661.7 845.5Q1684.6 845.5 1707.4 845.5" stroke="#0a0a0a" stroke-width="12" stroke-linecap="round" fill="none"/><circle cx="1663.7" cy="846" r="6.7" fill="#0a0a0a"/><circle cx="1705.4" cy="846" r="6.7" fill="#0a0a0a"/>
</g>
<rect x="1304.5" y="808" width="413" height="68.8" fill="none" stroke="#000" stroke-width="3.2"/>
<text x="1296.8" y="855.3" font-size="31" text-anchor="end">ATF6</text>
<line x1="1719" y1="846" x2="1740" y2="846" stroke="#000" stroke-width="3.2"/>
<text x="1743" y="857.8" font-size="31">100</text>
<rect x="1304.5" y="889.6" width="413" height="67.4" fill="#eeeeee"/>
<g filter="url(#bl)">
<path d="M1326.2 923.5Q1346.1 923.5 1366 923.5" stroke="#0a0a0a" stroke-width="12" stroke-linecap="round" fill="none"/><circle cx="1328.2" cy="924" r="6.7" fill="#0a0a0a"/><circle cx="1364" cy="924" r="6.7" fill="#0a0a0a"/>
<path d="M1390.5 923.5Q1409.8 923.5 1429.1 923.5" stroke="#0a0a0a" stroke-width="11" stroke-linecap="round" fill="none"/><circle cx="1392.3" cy="924" r="6.2" fill="#0a0a0a"/><circle cx="1427.3" cy="924" r="6.2" fill="#0a0a0a"/>
<path d="M1454.7 924Q1475.6 924 1496.5 924" stroke="#0a0a0a" stroke-width="10" stroke-linecap="round" fill="none"/><circle cx="1456.4" cy="924.5" r="5.6" fill="#0a0a0a"/><circle cx="1494.8" cy="924.5" r="5.6" fill="#0a0a0a"/>
<path d="M1528.9 923.5Q1546.8 923.5 1564.7 923.5" stroke="#0a0a0a" stroke-width="16" stroke-linecap="round" fill="none"/><circle cx="1531.6" cy="924" r="9" fill="#0a0a0a"/><circle cx="1562" cy="924" r="9" fill="#0a0a0a"/>
<path d="M1593.1 923.5Q1612.5 923.5 1632 923.5" stroke="#0a0a0a" stroke-width="15" stroke-linecap="round" fill="none"/><circle cx="1595.6" cy="924" r="8.4" fill="#0a0a0a"/><circle cx="1629.5" cy="924" r="8.4" fill="#0a0a0a"/>
<path d="M1660.5 924Q1681.6 924 1702.7 924" stroke="#0a0a0a" stroke-width="16" stroke-linecap="round" fill="none"/><circle cx="1663.2" cy="924.5" r="9" fill="#0a0a0a"/><circle cx="1700" cy="924.5" r="9" fill="#0a0a0a"/>
</g>
<rect x="1304.5" y="889.6" width="413" height="67.4" fill="none" stroke="#000" stroke-width="3.2"/>
<text x="1296.8" y="934.7" font-size="31" text-anchor="end">p-IRE1</text>
<line x1="1719" y1="933.9" x2="1740" y2="933.9" stroke="#000" stroke-width="3.2"/>
<text x="1743" y="945.5" font-size="31">110</text>
<rect x="1304.5" y="968.6" width="413" height="67.3" fill="#efefef"/>
<g filter="url(#bl)">
<path d="M1324.5 1002.5Q1344 1002.5 1363.4 1002.5" stroke="#0a0a0a" stroke-width="13" stroke-linecap="round" fill="none"/><circle cx="1326.7" cy="1003" r="7.3" fill="#0a0a0a"/><circle cx="1361.2" cy="1003" r="7.3" fill="#0a0a0a"/>
<path d="M1389.8 1002.5Q1408.7 1002.5 1427.6 1002.5" stroke="#0a0a0a" stroke-width="14" stroke-linecap="round" fill="none"/><circle cx="1392.2" cy="1003" r="7.8" fill="#0a0a0a"/><circle cx="1425.2" cy="1003" r="7.8" fill="#0a0a0a"/>
<path d="M1454 1002.5Q1471.2 1002.5 1488.5 1002.5" stroke="#0a0a0a" stroke-width="13" stroke-linecap="round" fill="none"/><circle cx="1456.2" cy="1003" r="7.3" fill="#0a0a0a"/><circle cx="1486.3" cy="1003" r="7.3" fill="#0a0a0a"/>
<path d="M1516.2 1002Q1534.8 1002 1553.5 1002" stroke="#0a0a0a" stroke-width="12.5" stroke-linecap="round" fill="none"/><circle cx="1518.3" cy="1002.5" r="7" fill="#0a0a0a"/><circle cx="1551.4" cy="1002.5" r="7" fill="#0a0a0a"/>
<path d="M1581.3 1001.5Q1598.5 1001.5 1615.8 1001.5" stroke="#0a0a0a" stroke-width="13" stroke-linecap="round" fill="none"/><circle cx="1583.5" cy="1002" r="7.3" fill="#0a0a0a"/><circle cx="1613.6" cy="1002" r="7.3" fill="#0a0a0a"/>
<path d="M1645 1002Q1667.5 1002 1690.1 1002" stroke="#0a0a0a" stroke-width="11" stroke-linecap="round" fill="none"/><circle cx="1646.8" cy="1002.5" r="6.2" fill="#0a0a0a"/><circle cx="1688.3" cy="1002.5" r="6.2" fill="#0a0a0a"/>
</g>
<rect x="1304.5" y="968.6" width="413" height="67.3" fill="none" stroke="#000" stroke-width="3.2"/>
<text x="1296.8" y="1013.3" font-size="31" text-anchor="end">IRE1</text>
<line x1="1719" y1="1011.5" x2="1740" y2="1011.5" stroke="#000" stroke-width="3.2"/>
<text x="1743" y="1023.2" font-size="31">110</text>
<rect x="1304.5" y="1047.5" width="413" height="68.2" fill="#e5e5e5"/>
<g filter="url(#bl)">
<path d="M1321 1084.5Q1339.7 1078.5 1358.4 1084.5" stroke="#0a0a0a" stroke-width="10" stroke-linecap="round" fill="none"/><circle cx="1322.7" cy="1085" r="5.6" fill="#0a0a0a"/><circle cx="1356.7" cy="1085" r="5.6" fill="#0a0a0a"/>
<path d="M1387 1085.5Q1405.4 1079.5 1423.8 1085.5" stroke="#0a0a0a" stroke-width="8.5" stroke-linecap="round" fill="none"/><circle cx="1388.5" cy="1086" r="4.8" fill="#0a0a0a"/><circle cx="1422.3" cy="1086" r="4.8" fill="#0a0a0a"/>
<path d="M1450.4 1085.5Q1468.1 1079.5 1485.7 1085.5" stroke="#0a0a0a" stroke-width="10" stroke-linecap="round" fill="none"/><circle cx="1452.1" cy="1086" r="5.6" fill="#0a0a0a"/><circle cx="1484" cy="1086" r="5.6" fill="#0a0a0a"/>
<path d="M1518 1084Q1536 1080 1553.9 1084" stroke="#0a0a0a" stroke-width="16" stroke-linecap="round" fill="none"/><circle cx="1520.7" cy="1084.5" r="9" fill="#0a0a0a"/><circle cx="1551.2" cy="1084.5" r="9" fill="#0a0a0a"/>
<path d="M1583.3 1083.5Q1601.8 1079.5 1620.3 1083.5" stroke="#0a0a0a" stroke-width="17" stroke-linecap="round" fill="none"/><circle cx="1586.2" cy="1084" r="9.5" fill="#0a0a0a"/><circle cx="1617.4" cy="1084" r="9.5" fill="#0a0a0a"/>
<path d="M1650.4 1084Q1670.8 1080 1691.3 1084" stroke="#0a0a0a" stroke-width="13" stroke-linecap="round" fill="none"/><circle cx="1652.6" cy="1084.5" r="7.3" fill="#0a0a0a"/><circle cx="1689.1" cy="1084.5" r="7.3" fill="#0a0a0a"/>
</g>
<rect x="1304.5" y="1047.5" width="413" height="68.2" fill="none" stroke="#000" stroke-width="3.2"/>
<text x="1296.8" y="1096.5" font-size="31" text-anchor="end">CHOP</text>
<line x1="1719" y1="1084.5" x2="1740" y2="1084.5" stroke="#000" stroke-width="3.2"/>
<text x="1743" y="1096.5" font-size="31">29</text>
<rect x="1304.5" y="1128.2" width="413" height="68.3" fill="#e3e3e3"/>
<g filter="url(#bl)">
<path d="M1328.4 1159.5Q1347.2 1156.5 1366 1159.5" stroke="#0a0a0a" stroke-width="12" stroke-linecap="round" fill="none"/><circle cx="1330.4" cy="1160" r="6.7" fill="#0a0a0a"/><circle cx="1364" cy="1160" r="6.7" fill="#0a0a0a"/>
<path d="M1391.5 1159.5Q1409.8 1156.5 1428.1 1159.5" stroke="#0a0a0a" stroke-width="13" stroke-linecap="round" fill="none"/><circle cx="1393.7" cy="1160" r="7.3" fill="#0a0a0a"/><circle cx="1425.9" cy="1160" r="7.3" fill="#0a0a0a"/>
<path d="M1454 1159.5Q1471.2 1156.5 1488.5 1159.5" stroke="#0a0a0a" stroke-width="13" stroke-linecap="round" fill="none"/><circle cx="1456.2" cy="1160" r="7.3" fill="#0a0a0a"/><circle cx="1486.3" cy="1160" r="7.3" fill="#0a0a0a"/>
<path d="M1515.5 1160Q1534.8 1157 1554.2 1160" stroke="#0a0a0a" stroke-width="11" stroke-linecap="round" fill="none"/><circle cx="1517.3" cy="1160.5" r="6.2" fill="#0a0a0a"/><circle cx="1552.4" cy="1160.5" r="6.2" fill="#0a0a0a"/>
<path d="M1575.5 1160Q1593.2 1157 1610.8 1160" stroke="#0a0a0a" stroke-width="10" stroke-linecap="round" fill="none"/><circle cx="1577.2" cy="1160.5" r="5.6" fill="#0a0a0a"/><circle cx="1609.1" cy="1160.5" r="5.6" fill="#0a0a0a"/>
<path d="M1636 1160Q1656.8 1157 1677.7 1160" stroke="#0a0a0a" stroke-width="10" stroke-linecap="round" fill="none"/><circle cx="1637.7" cy="1160.5" r="5.6" fill="#0a0a0a"/><circle cx="1676" cy="1160.5" r="5.6" fill="#0a0a0a"/>
</g>
<rect x="1304.5" y="1128.2" width="413" height="68.3" fill="none" stroke="#000" stroke-width="3.2"/>
<text x="1296.8" y="1179.8" font-size="31" text-anchor="end">Tubulin</text>
<line x1="1719" y1="1170.8" x2="1740" y2="1170.8" stroke="#000" stroke-width="3.2"/>
<text x="1743" y="1181.5" font-size="31">50</text>
<text x="0.3" y="1298.7" font-size="42">e</text>
<path d="M97 1428.5C93.8 1428.7 83.8 1428.5 78 1429.8C72.2 1431.1 65.3 1433.7 62 1436.4C58.7 1439.1 57.6 1443 58.1 1446C58.6 1449 61.1 1452.6 64.8 1454.5C68.5 1456.4 75.2 1456 80 1457.4C84.8 1458.8 89.8 1461.3 93.3 1463.1C96.8 1464.8 99.7 1467.1 101 1467.9" fill="none" stroke="#c48a7c" stroke-width="3.4" stroke-linecap="round"/><path d="M97 1428.5C93.8 1428.7 83.8 1428.5 78 1429.8C72.2 1431.1 65.3 1433.7 62 1436.4C58.7 1439.1 57.6 1443 58.1 1446C58.6 1449 61.1 1452.6 64.8 1454.5C68.5 1456.4 75.2 1456 80 1457.4C84.8 1458.8 89.8 1461.3 93.3 1463.1C96.8 1464.8 99.7 1467.1 101 1467.9" fill="none" stroke="#eab0a2" stroke-width="2" stroke-linecap="round"/><path d="M119 1440 L124 1450 L131 1453 M151 1443 L155 1448 L160 1450" stroke="#d99c92" stroke-width="3.4" fill="none" stroke-linecap="round"/><path d="M119 1440 L124 1450 L131 1453 M151 1443 L155 1448 L160 1450" stroke="#f2bdb4" stroke-width="2" fill="none" stroke-linecap="round"/><path d="M96.2 1427.5C96.2 1423.7 102.6 1415.9 106.7 1411.7C110.8 1407.5 116.2 1403.8 121 1402.1C125.8 1400.3 130.4 1400.5 135.2 1401.2C139.9 1401.9 144.7 1403.9 149.5 1406C154.3 1408.1 160.2 1411.1 163.8 1413.6C167.5 1416.1 169.5 1418.3 171.4 1421.2C173.3 1424.1 174.2 1427.2 175.2 1430.7C176.2 1434.2 177.9 1439.4 177.6 1442.1C177.3 1444.8 175.6 1446.2 173.3 1446.9C171 1447.6 166.5 1446.5 163.8 1446C161.1 1445.5 160.2 1444.4 157.1 1444C154 1443.6 148.7 1443.8 145 1443.5C141.3 1443.2 137.9 1442.6 135.2 1442.1C132.5 1441.5 131.8 1440.8 128.6 1440.2C125.4 1439.6 119.8 1439.2 116.2 1438.3C112.6 1437.3 110 1436.3 106.7 1434.5C103.4 1432.7 96.2 1431.3 96.2 1427.5Z" fill="#6b6c6e" stroke="#2e2e30" stroke-width="1.1"/><path d="M164 1414 C164 1406 168 1403 170 1404 C173 1406 172 1413 170 1417 Z" fill="#2a2a2a"/><ellipse cx="170.3" cy="1410.5" rx="2.8" ry="5.6" fill="#e9aa9e" stroke="#b07a70" stroke-width="0.6"/><circle cx="152.2" cy="1423.2" r="5.6" fill="#5a5a5c" stroke="#262626" stroke-width="1"/><circle cx="153.6" cy="1423.1" r="3.9" fill="#b05e3c"/><path d="M162.5 1435.5 l2.5 0.6" stroke="#3a3a3a" stroke-width="1" fill="none"/><path d="M177 1437 l8 -3 M177 1439 l8 1 M177 1441 l8 2.5 M165 1447 l-15 9 M166 1448 l-8 10 M168 1448 l-2 11" stroke="#a8a8a8" stroke-width="0.8" fill="none"/>
<text x="321.4" y="1361" font-size="25.4">CCl4 (1ml/kg, i.p. for 6 weeks)</text>
<line x1="238" y1="1373.8" x2="762.2" y2="1373.8" stroke="#000" stroke-width="2"/>
<line x1="237.2" y1="1385.5" x2="237.2" y2="1398.7" stroke="#000" stroke-width="2.2"/><path d="M229.7 1396.7L244.7 1396.7L237.2 1413.7Z" fill="#000"/>
<line x1="285.3" y1="1385.5" x2="285.3" y2="1398.7" stroke="#000" stroke-width="2.2"/><path d="M277.8 1396.7L292.8 1396.7L285.3 1413.7Z" fill="#000"/>
<line x1="333.5" y1="1385.5" x2="333.5" y2="1398.7" stroke="#000" stroke-width="2.2"/><path d="M326 1396.7L341 1396.7L333.5 1413.7Z" fill="#000"/>
<line x1="381.6" y1="1385.5" x2="381.6" y2="1398.7" stroke="#000" stroke-width="2.2"/><path d="M374.1 1396.7L389.1 1396.7L381.6 1413.7Z" fill="#000"/>
<line x1="429.7" y1="1385.5" x2="429.7" y2="1398.7" stroke="#000" stroke-width="2.2"/><path d="M422.2 1396.7L437.2 1396.7L429.7 1413.7Z" fill="#000"/>
<line x1="477.9" y1="1385.5" x2="477.9" y2="1398.7" stroke="#000" stroke-width="2.2"/><path d="M470.4 1396.7L485.4 1396.7L477.9 1413.7Z" fill="#000"/>
<line x1="526" y1="1385.5" x2="526" y2="1398.7" stroke="#000" stroke-width="2.2"/><path d="M518.5 1396.7L533.5 1396.7L526 1413.7Z" fill="#000"/>
<line x1="574.1" y1="1385.5" x2="574.1" y2="1398.7" stroke="#000" stroke-width="2.2"/><path d="M566.6 1396.7L581.6 1396.7L574.1 1413.7Z" fill="#000"/>
<line x1="622.2" y1="1385.5" x2="622.2" y2="1398.7" stroke="#000" stroke-width="2.2"/><path d="M614.7 1396.7L629.7 1396.7L622.2 1413.7Z" fill="#000"/>
<line x1="670.4" y1="1385.5" x2="670.4" y2="1398.7" stroke="#000" stroke-width="2.2"/><path d="M662.9 1396.7L677.9 1396.7L670.4 1413.7Z" fill="#000"/>
<line x1="718.5" y1="1385.5" x2="718.5" y2="1398.7" stroke="#000" stroke-width="2.2"/><path d="M711 1396.7L726 1396.7L718.5 1413.7Z" fill="#000"/>
<line x1="766.6" y1="1385.5" x2="766.6" y2="1398.7" stroke="#000" stroke-width="2.2"/><path d="M759.1 1396.7L774.1 1396.7L766.6 1413.7Z" fill="#000"/>
<path d="M794.3 1385.5 H803.3 V1396 H809.5 L798.8 1408.4 L788.1 1396 H794.3 Z" fill="#000"/>
<text x="767.5" y="1367.6" font-size="25.2">Harvest</text>
<path d="M209.2 1434.1 L799.4 1436" stroke="#000" stroke-width="2" fill="none"/>
<line x1="209.2" y1="1424" x2="209.2" y2="1444.4" stroke="#000" stroke-width="2"/>
<text x="209.2" y="1477" font-size="25" text-anchor="middle">0</text>
<line x1="298.5" y1="1424" x2="298.5" y2="1444.4" stroke="#000" stroke-width="2"/>
<text x="297.6" y="1477" font-size="25" text-anchor="middle">1w</text>
<line x1="395.8" y1="1424" x2="395.8" y2="1444.4" stroke="#000" stroke-width="2"/>
<text x="395.8" y="1477" font-size="25" text-anchor="middle">2w</text>
<line x1="495.2" y1="1424" x2="495.2" y2="1444.4" stroke="#000" stroke-width="2"/>
<text x="492.9" y="1477" font-size="25" text-anchor="middle">3w</text>
<line x1="603.9" y1="1424" x2="603.9" y2="1444.4" stroke="#000" stroke-width="2"/>
<text x="599.4" y="1477" font-size="25" text-anchor="middle">4w</text>
<line x1="706.5" y1="1424" x2="706.5" y2="1444.4" stroke="#000" stroke-width="2"/>
<text x="705" y="1477" font-size="25" text-anchor="middle">5w</text>
<line x1="799.4" y1="1424" x2="799.4" y2="1444.4" stroke="#000" stroke-width="2"/>
<text x="798.8" y="1477" font-size="25" text-anchor="middle">6w</text>
<line x1="403.6" y1="1504" x2="403.6" y2="1516.4" stroke="#ed7d31" stroke-width="2.2"/><path d="M396.1 1506L411.1 1506L403.6 1492.6Z" fill="#ed7d31"/>
<line x1="432.7" y1="1504" x2="432.7" y2="1516.4" stroke="#ed7d31" stroke-width="2.2"/><path d="M425.2 1506L440.2 1506L432.7 1492.6Z" fill="#ed7d31"/>
<line x1="461.9" y1="1504" x2="461.9" y2="1516.4" stroke="#ed7d31" stroke-width="2.2"/><path d="M454.4 1506L469.4 1506L461.9 1492.6Z" fill="#ed7d31"/>
<line x1="491" y1="1504" x2="491" y2="1516.4" stroke="#ed7d31" stroke-width="2.2"/><path d="M483.5 1506L498.5 1506L491 1492.6Z" fill="#ed7d31"/>
<line x1="520.2" y1="1504" x2="520.2" y2="1516.4" stroke="#ed7d31" stroke-width="2.2"/><path d="M512.7 1506L527.7 1506L520.2 1492.6Z" fill="#ed7d31"/>
<line x1="549.3" y1="1504" x2="549.3" y2="1516.4" stroke="#ed7d31" stroke-width="2.2"/><path d="M541.8 1506L556.8 1506L549.3 1492.6Z" fill="#ed7d31"/>
<line x1="578.4" y1="1504" x2="578.4" y2="1516.4" stroke="#ed7d31" stroke-width="2.2"/><path d="M570.9 1506L585.9 1506L578.4 1492.6Z" fill="#ed7d31"/>
<line x1="607.6" y1="1504" x2="607.6" y2="1516.4" stroke="#ed7d31" stroke-width="2.2"/><path d="M600.1 1506L615.1 1506L607.6 1492.6Z" fill="#ed7d31"/>
<line x1="636.7" y1="1504" x2="636.7" y2="1516.4" stroke="#ed7d31" stroke-width="2.2"/><path d="M629.2 1506L644.2 1506L636.7 1492.6Z" fill="#ed7d31"/>
<line x1="665.9" y1="1504" x2="665.9" y2="1516.4" stroke="#ed7d31" stroke-width="2.2"/><path d="M658.4 1506L673.4 1506L665.9 1492.6Z" fill="#ed7d31"/>
<line x1="695" y1="1504" x2="695" y2="1516.4" stroke="#ed7d31" stroke-width="2.2"/><path d="M687.5 1506L702.5 1506L695 1492.6Z" fill="#ed7d31"/>
<line x1="724.1" y1="1504" x2="724.1" y2="1516.4" stroke="#ed7d31" stroke-width="2.2"/><path d="M716.6 1506L731.6 1506L724.1 1492.6Z" fill="#ed7d31"/>
<line x1="753.3" y1="1504" x2="753.3" y2="1516.4" stroke="#ed7d31" stroke-width="2.2"/><path d="M745.8 1506L760.8 1506L753.3 1492.6Z" fill="#ed7d31"/>
<line x1="782.4" y1="1504" x2="782.4" y2="1516.4" stroke="#ed7d31" stroke-width="2.2"/><path d="M774.9 1506L789.9 1506L782.4 1492.6Z" fill="#ed7d31"/>
<line x1="401.8" y1="1530.4" x2="782.4" y2="1530.4" stroke="#ed7d31" stroke-width="2"/>
<text x="379.4" y="1558" font-size="25.4" fill="#ed7d31">TUDCA (500mg/kg, i.p. for 4 weeks)</text>
<text x="942.3" y="1298.6" font-size="42">f</text>
<line x1="1085.1" y1="1302.6" x2="1085.1" y2="1608.8" stroke="#000" stroke-width="3.4"/>
<line x1="1071.9" y1="1607.1" x2="1085.1" y2="1607.1" stroke="#000" stroke-width="3.4"/>
<text x="1065.7" y="1617.6" font-size="27.5" text-anchor="end">0</text>
<line x1="1071.9" y1="1506.2" x2="1085.1" y2="1506.2" stroke="#000" stroke-width="3.4"/>
<text x="1065.7" y="1516.7" font-size="27.5" text-anchor="end">100</text>
<line x1="1071.9" y1="1405.3" x2="1085.1" y2="1405.3" stroke="#000" stroke-width="3.4"/>
<text x="1065.7" y="1415.8" font-size="27.5" text-anchor="end">200</text>
<line x1="1071.9" y1="1304.4" x2="1085.1" y2="1304.4" stroke="#000" stroke-width="3.4"/>
<text x="1065.7" y="1314.9" font-size="27.5" text-anchor="end">300</text>
<line x1="1071.9" y1="1607.1" x2="1387.1" y2="1607.1" stroke="#000" stroke-width="3.4"/>
<line x1="1154.3" y1="1607.1" x2="1154.3" y2="1619.4" stroke="#000" stroke-width="3.4"/>
<line x1="1314.8" y1="1607.1" x2="1314.8" y2="1619.4" stroke="#000" stroke-width="3.4"/>
<text x="1154.3" y="1650" font-size="29.5" text-anchor="middle">CCl4</text>
<text x="1314.3" y="1650" font-size="29.5" text-anchor="middle">CCl4+TUDCA</text>
<text transform="translate(1000.8 1451.4) rotate(-90)" font-size="29.7" text-anchor="middle">Serum ALT (U/L)</text>
<rect x="1095.2" y="1305.8" width="27.6" height="11.3" fill="#fff" stroke="#000" stroke-width="3.2"/>
<text x="1144.3" y="1319.4" font-size="25.5">WT</text>
<rect x="1200.1" y="1305.8" width="27.6" height="11.3" fill="#f9a1a1" stroke="#000" stroke-width="3.2"/>
<text x="1250" y="1321.4" font-size="25.5" font-style="italic">Asgr1<tspan font-size="18.9" dy="-10.7">-/-</tspan></text>
<rect x="1106.8" y="1518.3" width="36.6" height="88.8" fill="#fff" stroke="#000" stroke-width="3.3"/>
<line x1="1125.1" y1="1510.8" x2="1125.1" y2="1521.4" stroke="#000" stroke-width="2.9"/>
<line x1="1115.6" y1="1510.8" x2="1134.6" y2="1510.8" stroke="#000" stroke-width="2.9"/>
<line x1="1115.6" y1="1521.4" x2="1134.6" y2="1521.4" stroke="#000" stroke-width="2.9"/>
<circle cx="1125.1" cy="1493.7" r="4.3" fill="#fff" stroke="#000" stroke-width="2.9"/>
<circle cx="1109.4" cy="1505.7" r="4.3" fill="#fff" stroke="#000" stroke-width="2.9"/>
<circle cx="1125.1" cy="1512.9" r="4.3" fill="#fff" stroke="#000" stroke-width="2.9"/>
<circle cx="1125.1" cy="1526.3" r="4.3" fill="#fff" stroke="#000" stroke-width="2.9"/>
<circle cx="1140.9" cy="1527.7" r="4.3" fill="#fff" stroke="#000" stroke-width="2.9"/>
<circle cx="1109.4" cy="1536.6" r="4.3" fill="#fff" stroke="#000" stroke-width="2.9"/>
<rect x="1167" y="1437.4" width="36.6" height="169.7" fill="#f9a1a1" stroke="#000" stroke-width="3.3"/>
<line x1="1185.2" y1="1422.9" x2="1185.2" y2="1448.6" stroke="#000" stroke-width="2.9"/>
<line x1="1175.8" y1="1422.9" x2="1194.8" y2="1422.9" stroke="#000" stroke-width="2.9"/>
<line x1="1175.8" y1="1448.6" x2="1194.8" y2="1448.6" stroke="#000" stroke-width="2.9"/>
<circle cx="1184.8" cy="1387.1" r="4.3" fill="#fff" stroke="#000" stroke-width="2.9"/>
<circle cx="1200.6" cy="1422" r="4.3" fill="#fff" stroke="#000" stroke-width="2.9"/>
<circle cx="1184.8" cy="1428.6" r="4.3" fill="#fff" stroke="#000" stroke-width="2.9"/>
<circle cx="1184.8" cy="1442.9" r="4.3" fill="#fff" stroke="#000" stroke-width="2.9"/>
<circle cx="1184.8" cy="1456.6" r="4.3" fill="#fff" stroke="#000" stroke-width="2.9"/>
<circle cx="1184.8" cy="1479.4" r="4.3" fill="#fff" stroke="#000" stroke-width="2.9"/>
<rect x="1267.4" y="1556" width="36.6" height="51.1" fill="#fff" stroke="#000" stroke-width="3.3"/>
<line x1="1285.7" y1="1549.1" x2="1285.7" y2="1559.4" stroke="#000" stroke-width="2.9"/>
<line x1="1276.2" y1="1549.1" x2="1295.2" y2="1549.1" stroke="#000" stroke-width="2.9"/>
<line x1="1276.2" y1="1559.4" x2="1295.2" y2="1559.4" stroke="#000" stroke-width="2.9"/>
<circle cx="1285.7" cy="1532" r="4.3" fill="#fff" stroke="#000" stroke-width="2.9"/>
<circle cx="1270" cy="1545.7" r="4.3" fill="#fff" stroke="#000" stroke-width="2.9"/>
<circle cx="1301.4" cy="1552.9" r="4.3" fill="#fff" stroke="#000" stroke-width="2.9"/>
<circle cx="1285.7" cy="1557.7" r="4.3" fill="#fff" stroke="#000" stroke-width="2.9"/>
<circle cx="1301.4" cy="1565.1" r="4.3" fill="#fff" stroke="#000" stroke-width="2.9"/>
<circle cx="1270" cy="1570.6" r="4.3" fill="#fff" stroke="#000" stroke-width="2.9"/>
<rect x="1327.7" y="1547.4" width="36.6" height="59.7" fill="#f9a1a1" stroke="#000" stroke-width="3.3"/>
<line x1="1346" y1="1539.4" x2="1346" y2="1552" stroke="#000" stroke-width="2.9"/>
<line x1="1336.5" y1="1539.4" x2="1355.5" y2="1539.4" stroke="#000" stroke-width="2.9"/>
<line x1="1336.5" y1="1552" x2="1355.5" y2="1552" stroke="#000" stroke-width="2.9"/>
<circle cx="1345.7" cy="1523.4" r="4.3" fill="#fff" stroke="#000" stroke-width="2.9"/>
<circle cx="1330.6" cy="1539.4" r="4.3" fill="#fff" stroke="#000" stroke-width="2.9"/>
<circle cx="1345.7" cy="1536.6" r="4.3" fill="#fff" stroke="#000" stroke-width="2.9"/>
<circle cx="1360.8" cy="1551.4" r="4.3" fill="#fff" stroke="#000" stroke-width="2.9"/>
<circle cx="1345.7" cy="1554.3" r="4.3" fill="#fff" stroke="#000" stroke-width="2.9"/>
<circle cx="1345.7" cy="1567.1" r="4.3" fill="#fff" stroke="#000" stroke-width="2.9"/>
<line x1="1125.1" y1="1377.1" x2="1185.1" y2="1377.1" stroke="#000" stroke-width="3"/>
<text x="1156.9" y="1381.8" font-size="36" text-anchor="middle" letter-spacing="3">**</text>
<line x1="1125.1" y1="1351.4" x2="1285.7" y2="1351.4" stroke="#000" stroke-width="3"/>
<text x="1210" y="1356.2" font-size="36" text-anchor="middle">*</text>
<line x1="1285.1" y1="1497.7" x2="1344.8" y2="1497.7" stroke="#000" stroke-width="3"/>
<text x="1315.7" y="1485.7" font-size="23.5" text-anchor="middle" font-weight="normal">ns</text>
<text x="1404.3" y="1299" font-size="42">g</text>
<line x1="1541.3" y1="1301.9" x2="1541.3" y2="1608" stroke="#000" stroke-width="3.4"/>
<line x1="1528.1" y1="1606.3" x2="1541.3" y2="1606.3" stroke="#000" stroke-width="3.4"/>
<text x="1521.9" y="1616.8" font-size="27.5" text-anchor="end">0</text>
<line x1="1528.1" y1="1530.6" x2="1541.3" y2="1530.6" stroke="#000" stroke-width="3.4"/>
<text x="1521.9" y="1541.1" font-size="27.5" text-anchor="end">100</text>
<line x1="1528.1" y1="1454.9" x2="1541.3" y2="1454.9" stroke="#000" stroke-width="3.4"/>
<text x="1521.9" y="1465.4" font-size="27.5" text-anchor="end">200</text>
<line x1="1528.1" y1="1379.2" x2="1541.3" y2="1379.2" stroke="#000" stroke-width="3.4"/>
<text x="1521.9" y="1389.7" font-size="27.5" text-anchor="end">300</text>
<line x1="1528.1" y1="1303.5" x2="1541.3" y2="1303.5" stroke="#000" stroke-width="3.4"/>
<text x="1521.9" y="1314" font-size="27.5" text-anchor="end">400</text>
<line x1="1528.1" y1="1606.3" x2="1847.3" y2="1606.3" stroke="#000" stroke-width="3.4"/>
<line x1="1612.8" y1="1606.3" x2="1612.8" y2="1618.6" stroke="#000" stroke-width="3.4"/>
<line x1="1774.2" y1="1606.3" x2="1774.2" y2="1618.6" stroke="#000" stroke-width="3.4"/>
<text x="1613.5" y="1649.3" font-size="29.5" text-anchor="middle">CCl4</text>
<text x="1774.7" y="1649.3" font-size="29.5" text-anchor="middle">CCl4+TUDCA</text>
<text transform="translate(1459.3 1452.1) rotate(-90)" font-size="29.7" text-anchor="middle">Serum AST (U/L)</text>
<rect x="1553.3" y="1305.1" width="27.6" height="10.5" fill="#fff" stroke="#000" stroke-width="3.2"/>
<text x="1602.9" y="1318" font-size="25.5">WT</text>
<rect x="1658.5" y="1306.5" width="27.6" height="11.5" fill="#f9a1a1" stroke="#000" stroke-width="3.2"/>
<text x="1709" y="1323.7" font-size="25.5" font-style="italic">Asgr1<tspan font-size="18.9" dy="-10.7">-/-</tspan></text>
<rect x="1565" y="1521.7" width="36.6" height="84.6" fill="#fff" stroke="#000" stroke-width="3.3"/>
<line x1="1583.3" y1="1513.4" x2="1583.3" y2="1526" stroke="#000" stroke-width="2.9"/>
<line x1="1573.8" y1="1513.4" x2="1592.8" y2="1513.4" stroke="#000" stroke-width="2.9"/>
<line x1="1573.8" y1="1526" x2="1592.8" y2="1526" stroke="#000" stroke-width="2.9"/>
<circle cx="1598.4" cy="1499" r="4.3" fill="#fff" stroke="#000" stroke-width="2.9"/>
<circle cx="1582.8" cy="1508" r="4.3" fill="#fff" stroke="#000" stroke-width="2.9"/>
<circle cx="1566.8" cy="1514.9" r="4.3" fill="#fff" stroke="#000" stroke-width="2.9"/>
<circle cx="1582.8" cy="1519.1" r="4.3" fill="#fff" stroke="#000" stroke-width="2.9"/>
<circle cx="1599" cy="1526" r="4.3" fill="#fff" stroke="#000" stroke-width="2.9"/>
<circle cx="1582.8" cy="1541.1" r="4.3" fill="#fff" stroke="#000" stroke-width="2.9"/>
<rect x="1626" y="1467.6" width="36.6" height="138.7" fill="#f9a1a1" stroke="#000" stroke-width="3.3"/>
<line x1="1644.3" y1="1455.4" x2="1644.3" y2="1475" stroke="#000" stroke-width="2.9"/>
<line x1="1634.8" y1="1455.4" x2="1653.8" y2="1455.4" stroke="#000" stroke-width="2.9"/>
<line x1="1634.8" y1="1475" x2="1653.8" y2="1475" stroke="#000" stroke-width="2.9"/>
<circle cx="1644.1" cy="1426.2" r="4.3" fill="#fff" stroke="#000" stroke-width="2.9"/>
<circle cx="1644.1" cy="1448.8" r="4.3" fill="#fff" stroke="#000" stroke-width="2.9"/>
<circle cx="1628.5" cy="1468.9" r="4.3" fill="#fff" stroke="#000" stroke-width="2.9"/>
<circle cx="1660" cy="1474.3" r="4.3" fill="#fff" stroke="#000" stroke-width="2.9"/>
<circle cx="1644.1" cy="1480.3" r="4.3" fill="#fff" stroke="#000" stroke-width="2.9"/>
<circle cx="1644.1" cy="1493" r="4.3" fill="#fff" stroke="#000" stroke-width="2.9"/>
<rect x="1726.2" y="1551.8" width="36.6" height="54.5" fill="#fff" stroke="#000" stroke-width="3.3"/>
<line x1="1744.5" y1="1544" x2="1744.5" y2="1556.1" stroke="#000" stroke-width="2.9"/>
<line x1="1735" y1="1544" x2="1754" y2="1544" stroke="#000" stroke-width="2.9"/>
<line x1="1735" y1="1556.1" x2="1754" y2="1556.1" stroke="#000" stroke-width="2.9"/>
<circle cx="1745.1" cy="1527.5" r="4.3" fill="#fff" stroke="#000" stroke-width="2.9"/>
<circle cx="1729.2" cy="1539.6" r="4.3" fill="#fff" stroke="#000" stroke-width="2.9"/>
<circle cx="1745.1" cy="1545" r="4.3" fill="#fff" stroke="#000" stroke-width="2.9"/>
<circle cx="1745.1" cy="1560.6" r="4.3" fill="#fff" stroke="#000" stroke-width="2.9"/>
<circle cx="1759.2" cy="1563" r="4.3" fill="#fff" stroke="#000" stroke-width="2.9"/>
<circle cx="1729.2" cy="1567.2" r="4.3" fill="#fff" stroke="#000" stroke-width="2.9"/>
<rect x="1786.9" y="1543.7" width="36.6" height="62.6" fill="#f9a1a1" stroke="#000" stroke-width="3.3"/>
<line x1="1805.2" y1="1536" x2="1805.2" y2="1547.1" stroke="#000" stroke-width="2.9"/>
<line x1="1795.7" y1="1536" x2="1814.7" y2="1536" stroke="#000" stroke-width="2.9"/>
<line x1="1795.7" y1="1547.1" x2="1814.7" y2="1547.1" stroke="#000" stroke-width="2.9"/>
<circle cx="1790.2" cy="1524.5" r="4.3" fill="#fff" stroke="#000" stroke-width="2.9"/>
<circle cx="1821.4" cy="1530.5" r="4.3" fill="#fff" stroke="#000" stroke-width="2.9"/>
<circle cx="1805.8" cy="1542.6" r="4.3" fill="#fff" stroke="#000" stroke-width="2.9"/>
<circle cx="1821.4" cy="1542.6" r="4.3" fill="#fff" stroke="#000" stroke-width="2.9"/>
<circle cx="1790.2" cy="1559.1" r="4.3" fill="#fff" stroke="#000" stroke-width="2.9"/>
<circle cx="1821.4" cy="1554" r="4.3" fill="#fff" stroke="#000" stroke-width="2.9"/>
<line x1="1583.4" y1="1409.4" x2="1644.1" y2="1409.4" stroke="#000" stroke-width="3"/>
<text x="1615.8" y="1416.2" font-size="36" text-anchor="middle" letter-spacing="3">**</text>
<line x1="1583.4" y1="1381.1" x2="1744.8" y2="1381.1" stroke="#000" stroke-width="3"/>
<text x="1661" y="1388.5" font-size="36" text-anchor="middle">*</text>
<line x1="1743.6" y1="1508" x2="1803.7" y2="1508" stroke="#000" stroke-width="3"/>
<text x="1772.7" y="1496.9" font-size="23.5" text-anchor="middle" font-weight="normal">ns</text>
<text x="2.2" y="1702" font-size="42">h</text>
<text x="478.5" y="1718.3" font-size="31.5" text-anchor="middle">CCl4</text>
<line x1="40" y1="1725.7" x2="928.3" y2="1725.7" stroke="#000" stroke-width="3.2"/>
<text x="240" y="1755.7" font-size="31.5" text-anchor="middle">WT</text>
<text x="661" y="1757" font-size="31.5" font-style="italic">Asgr1<tspan font-size="21.4" dy="-13.2">-/-</tspan></text>
<text x="1425.4" y="1718.6" font-size="31.5" text-anchor="middle">CCl4 + TUDCA</text>
<line x1="985.5" y1="1724.6" x2="1873.5" y2="1724.6" stroke="#000" stroke-width="3.2"/>
<text x="1190" y="1756.9" font-size="31.5" text-anchor="middle">WT</text>
<text x="1612.8" y="1757" font-size="31.5" font-style="italic">Asgr1<tspan font-size="21.4" dy="-13.2">-/-</tspan></text>
<g clip-path="url(#cp0)">
<rect x="6.6" y="1769.2" width="467" height="359.6" fill="#d640d0"/>
<rect x="6.6" y="1769.2" width="467" height="359.6" fill="#fff" filter="url(#heTone)"/>
<rect x="6.6" y="1769.2" width="467" height="359.6" fill="#fff" filter="url(#heNet)" opacity="0.4"/>
<g fill="#eeaeea" fill-opacity="0.7"><ellipse cx="218" cy="1970" rx="10" ry="9"/><ellipse cx="224" cy="1951" rx="12" ry="13"/><ellipse cx="95" cy="1953" rx="10" ry="7"/><ellipse cx="374" cy="1806" rx="8" ry="8"/><ellipse cx="310" cy="1989" rx="8" ry="8"/><ellipse cx="17" cy="1958" rx="10" ry="9"/><ellipse cx="97" cy="1858" rx="11" ry="9"/><ellipse cx="223" cy="1928" rx="8" ry="7"/><ellipse cx="248" cy="1998" rx="8" ry="8"/><ellipse cx="314" cy="1933" rx="9" ry="7"/><ellipse cx="335" cy="1884" rx="8" ry="7"/><ellipse cx="194" cy="2070" rx="10" ry="9"/><ellipse cx="450" cy="2071" rx="11" ry="11"/><ellipse cx="106" cy="2093" rx="12" ry="12"/><ellipse cx="460" cy="1912" rx="8" ry="8"/><ellipse cx="299" cy="2046" rx="8" ry="6"/><ellipse cx="358" cy="1814" rx="10" ry="10"/><ellipse cx="92" cy="1969" rx="8" ry="7"/><ellipse cx="98" cy="2030" rx="9" ry="9"/><ellipse cx="306" cy="1814" rx="10" ry="10"/><ellipse cx="161" cy="1877" rx="11" ry="10"/><ellipse cx="51" cy="1978" rx="11" ry="12"/><ellipse cx="286" cy="1903" rx="8" ry="9"/><ellipse cx="408" cy="1837" rx="11" ry="9"/><ellipse cx="427" cy="2060" rx="10" ry="9"/><ellipse cx="287" cy="1921" rx="12" ry="11"/><ellipse cx="28" cy="2111" rx="10" ry="11"/><ellipse cx="284" cy="1876" rx="11" ry="12"/><ellipse cx="341" cy="1797" rx="10" ry="10"/><ellipse cx="267" cy="2072" rx="9" ry="9"/><ellipse cx="139" cy="2095" rx="12" ry="11"/><ellipse cx="38" cy="1835" rx="11" ry="9"/><ellipse cx="273" cy="1819" rx="12" ry="13"/><ellipse cx="327" cy="1978" rx="12" ry="12"/><ellipse cx="332" cy="2111" rx="11" ry="10"/><ellipse cx="302" cy="1942" rx="12" ry="13"/><ellipse cx="156" cy="2124" rx="9" ry="7"/><ellipse cx="261" cy="2032" rx="10" ry="9"/><ellipse cx="348" cy="2020" rx="11" ry="10"/><ellipse cx="424" cy="2079" rx="8" ry="8"/><ellipse cx="373" cy="2076" rx="8" ry="8"/><ellipse cx="297" cy="1907" rx="8" ry="7"/><ellipse cx="188" cy="2031" rx="11" ry="9"/><ellipse cx="212" cy="2067" rx="8" ry="8"/><ellipse cx="231" cy="1854" rx="11" ry="12"/><ellipse cx="238" cy="1989" rx="11" ry="12"/><ellipse cx="128" cy="1777" rx="10" ry="11"/><ellipse cx="321" cy="1844" rx="8" ry="6"/><ellipse cx="426" cy="2005" rx="10" ry="9"/><ellipse cx="430" cy="2082" rx="11" ry="11"/><ellipse cx="278" cy="1884" rx="10" ry="11"/><ellipse cx="238" cy="2067" rx="10" ry="9"/><ellipse cx="337" cy="2107" rx="9" ry="10"/><ellipse cx="88" cy="1931" rx="12" ry="10"/><ellipse cx="108" cy="1918" rx="12" ry="13"/></g>
<rect x="6.6" y="1769.2" width="467" height="359.6" fill="#fff" filter="url(#heW0)"/>
<path d="M7 1770h0m2 264h0m2 -84h0m2 -162h0m1 91h0m0 167h0m2 39h0m2 -190h0m0 9h0m0 139h0m1 -79h0m1 -132h0m1 -4h0m0 53h0m0 175h0m2 23h0m1 -271h0m2 137h0m0 141h0m1 -295h0m1 179h0m0 104h0m2 -157h0m1 -41h0m0 143h0m1 -108h0m5 116h0m2 -221h0m1 51h0m1 112h0m2 -106h0m0 191h0m4 -42h0m3 -192h0m0 304h0m1 -234h0m3 -113h0m2 255h0m1 -261h0m1 118h0m2 181h0m1 -235h0m1 -35h0m2 125h0m1 106h0m1 -135h0m1 -107h0m0 233h0m0 27h0m4 18h0m3 -281h0m0 148h0m0 12h0m0 41h0m1 -106h0m6 58h0m0 54h0m1 -210h0m1 189h0m1 -18h0m5 -87h0m0 253h0m2 -266h0m0 115h0m1 -105h0m0 103h0m1 -193h0m0 192h0m2 64h0m3 41h0m1 -110h0m1 17h0m2 108h0m3 -193h0m0 25h0m1 4h0m2 -68h0m1 86h0m0 117h0m2 -65h0m2 36h0m2 12h0m1 -270h0m1 175h0m1 -66h0m0 151h0m3 -179h0m0 66h0m0 183h0m2 -323h0m1 246h0m0 3h0m2 -185h0m1 60h0m1 -126h0m0 182h0m0 73h0m3 -69h0m0 85h0m6 -118h0m2 134h0m1 -48h0m1 -111h0m1 169h0m0 1h0m0 39h0m1 -93h0m4 -129h0m1 15h0m1 6h0m1 114h0m0 49h0m1 -277h0m0 13h0m1 8h0m0 18h0m0 252h0m1 -61h0m4 -40h0m1 59h0m1 -157h0m2 85h0m1 -119h0m0 145h0m2 -90h0m1 211h0m1 -118h0m2 -214h0m0 39h0m2 219h0m1 27h0m1 -297h0m0 172h0m1 50h0m1 -218h0m1 78h0m0 186h0m2 -253h0m1 210h0m2 54h0m1 -27h0m2 -19h0m0 17h0m1 -257h0m1 25h0m1 57h0m0 251h0m1 -215h0m0 86h0m1 45h0m1 -38h0m0 18h0m1 73h0m1 -217h0m0 22h0m0 32h0m1 -12h0m1 -48h0m0 123h0m1 33h0m0 6h0m1 -71h0m0 63h0m0 0h0m5 -168h0m0 125h0m3 -40h0m0 103h0m4 92h0m4 -183h0m2 129h0m2 -282h0m0 208h0m0 25h0m2 2h0m1 -117h0m0 111h0m4 -206h0m0 159h0m0 83h0m1 -28h0m2 -62h0m0 119h0m2 -293h0m0 146h0m0 68h0m1 -152h0m0 282h0m3 -233h0m0 98h0m1 139h0m1 -112h0m2 -204h0m0 146h0m1 -53h0m0 113h0m1 -125h0m1 224h0m1 -247h0m0 231h0m2 -85h0m1 -94h0m1 136h0m1 -141h0m1 -127h0m1 85h0m0 18h0m1 -120h0m0 42h0m2 49h0m0 68h0m0 46h0m3 -63h0m2 -64h0m0 224h0m0 51h0m2 -333h0m0 16h0m0 179h0m2 -49h0m2 -49h0m4 -7h0m3 8h0m1 -89h0m0 4h0m1 301h0m1 -290h0m2 226h0m1 -185h0m1 96h0m4 -92h0m1 159h0m1 -63h0m2 8h0m1 -10h0m1 -162h0m0 242h0m2 -135h0m0 139h0m0 56h0m4 -270h0m0 47h0m1 -97h0m1 124h0m1 146h0m1 -260h0m0 320h0m1 -222h0m2 33h0m1 70h0m1 103h0m1 -160h0m0 154h0m2 -44h0m1 -219h0m2 97h0m2 -126h0m0 26h0m1 82h0m1 4h0m0 124h0m1 -171h0m2 -7h0m1 160h0m3 -211h0m0 87h0m1 -31h0m1 63h0m1 -55h0m2 84h0m1 -14h0m1 -110h0m0 8h0m0 256h0m0 25h0m4 -140h0m1 -52h0m1 147h0m1 -33h0m1 -200h0m0 16h0m0 51h0m0 36h0m0 108h0m2 -72h0m4 -43h0m2 -155h0m2 101h0m1 115h0m1 40h0m2 -199h0m4 129h0m1 -166h0m0 230h0m0 3h0m2 -113h0m1 211h0m1 -343h0m1 260h0m0 57h0m3 22h0m3 -121h0m0 85h0m2 -117h0m0 13h0m1 -25h0m3 -24h0m2 -113h0m0 6h0m1 184h0m1 -202h0m2 40h0m2 -49h0m0 1h0m0 174h0m0 77h0m0 15h0m1 -163h0m1 -29h0m0 245h0m2 -299h0m1 2h0m1 113h0m2 -23h0m2 182h0m3 -108h0m1 120h0m1 -275h0m0 142h0m1 -172h0m0 56h0m2 -21h0m1 15h0m0 208h0m1 -2h0m1 -48h0m1 -37h0m0 43h0m1 -219h0m0 281h0m2 -10h0m1 -291h0m0 58h0m1 -48h0m0 152h0m0 28h0m3 -22h0m2 -91h0m0 178h0m2 -35h0m2 -43h0m0 15h0m1 78h0m1 -119h0m1 -93h0m1 -47h0m5 318h0m2 -285h0m0 281h0m5 -19h0m0 14h0m3 -319h0m2 16h0m0 216h0m2 -117h0m1 -48h0m1 43h0m1 36h0m0 158h0m1 -215h0m0 84h0m0 76h0m2 -27h0m1 -179h0m2 139h0m3 159h0m1 -136h0m1 -62h0m2 -52h0m0 64h0m2 -32h0m0 85h0m2 -100h0m1 -112h0m0 48h0m0 283h0m3 15h0m1 -166h0m2 18h0m2 -138h0m3 70h0m0 165h0m1 -247h0m2 1h0m0 86h0m0 26h0m1 -160h0m1 38h0m0 30h0" stroke="#fdf2fc" stroke-width="2.6" stroke-linecap="round" stroke-opacity="0.92" fill="none"/>
<path d="M7 2054h0m4 34h0m3 -293h0m0 96h0m0 22h0m2 -111h0m0 143h0m1 52h0m1 -1h0m3 -113h0m2 244h0m3 -304h0m0 49h0m3 122h0m0 32h0m1 -187h0m0 41h0m1 -52h0m0 131h0m0 81h0m0 26h0m1 -119h0m0 159h0m2 -301h0m0 141h0m1 -39h0m0 52h0m1 -131h0m0 167h0m1 -159h0m1 257h0m2 -257h0m0 288h0m2 -247h0m0 2h0m0 1h0m1 -81h0m3 30h0m0 32h0m1 -86h0m0 97h0m1 147h0m1 -168h0m0 72h0m0 143h0m1 21h0m2 -126h0m0 107h0m1 -14h0m1 -90h0m0 88h0m2 -277h0m0 136h0m1 194h0m2 -293h0m0 120h0m0 68h0m1 -220h0m1 328h0m1 -170h0m1 -110h0m0 183h0m0 114h0m1 -166h0m1 -43h0m0 144h0m5 -108h0m3 -57h0m0 3h0m2 -62h0m0 7h0m0 275h0m1 -144h0m1 -7h0m7 13h0m1 -168h0m0 31h0m1 223h0m2 -16h0m1 -25h0m0 37h0m4 -124h0m2 137h0m1 -224h0m0 235h0m2 -216h0m1 140h0m1 -72h0m0 61h0m0 60h0m2 -124h0m0 61h0m1 -5h0m2 45h0m9 -256h0m0 250h0m0 9h0m1 70h0m0 2h0m1 -133h0m1 -122h0m1 -83h0m3 12h0m0 85h0m1 48h0m0 200h0m2 -252h0m0 230h0m1 -155h0m1 138h0m2 -87h0m1 -91h0m0 131h0m1 -51h0m2 -5h0m1 15h0m0 36h0m1 -129h0m1 227h0m0 1h0m1 -127h0m0 72h0m1 -114h0m0 138h0m0 4h0m3 -225h0m1 -43h0m0 217h0m1 -77h0m0 88h0m1 59h0m2 -265h0m1 69h0m1 169h0m0 11h0m0 15h0m1 -129h0m1 -105h0m1 204h0m1 -171h0m2 77h0m1 -45h0m0 153h0m1 -37h0m2 -229h0m0 62h0m3 -103h0m0 315h0m6 -258h0m0 70h0m0 17h0m6 -47h0m0 228h0m1 -32h0m1 -47h0m1 -104h0m0 70h0m1 -138h0m0 33h0m0 35h0m1 -131h0m0 179h0m0 15h0m1 -188h0m4 152h0m1 -11h0m2 144h0m3 -156h0m4 -58h0m2 175h0m0 13h0m0 11h0m3 -191h0m4 73h0m2 57h0m1 -34h0m1 -117h0m0 106h0m0 103h0m5 -42h0m1 -224h0m0 121h0m2 -69h0m0 196h0m1 -262h0m1 70h0m5 57h0m0 3h0m1 -100h0m0 173h0m0 65h0m0 9h0m2 -58h0m3 -131h0m1 152h0m2 -140h0m2 -69h0m1 72h0m4 -45h0m0 262h0m1 -101h0m7 -150h0m0 189h0m1 -197h0m3 266h0m0 3h0m5 -181h0m1 -29h0m1 -139h0m2 171h0m1 172h0m1 -334h0m1 170h0m0 13h0m0 8h0m0 75h0m2 23h0m0 4h0m2 -127h0m3 14h0m1 143h0m2 -209h0m0 154h0m2 -240h0m0 301h0m4 -266h0m0 7h0m0 99h0m1 -39h0m4 160h0m2 -212h0m0 192h0m1 18h0m1 -50h0m2 -252h0m0 164h0m1 135h0m3 51h0m1 -268h0m2 -17h0m0 128h0m3 39h0m1 -108h0m0 138h0m1 -168h0m1 83h0m1 -82h0m0 34h0m6 -113h0m0 231h0m1 -24h0m3 -61h0m2 35h0m7 63h0m1 -187h0m1 -39h0m0 265h0m1 -49h0m1 -191h0m0 246h0m3 -89h0m4 -105h0m0 42h0m8 -40h0m0 28h0m0 11h0m2 -66h0m4 159h0m4 -167h0m1 -7h0m1 248h0m1 -232h0m2 72h0m0 109h0m2 -81h0m1 90h0m1 -146h0m1 -117h0m0 157h0m2 -155h0m1 248h0m3 -175h0m0 231h0m3 -42h0m1 -255h0m0 222h0m1 -151h0m1 18h0m1 231h0m1 -160h0m1 -166h0m2 24h0m0 28h0m0 63h0m1 79h0m5 -215h0m0 22h0m2 -23h0m1 133h0m0 130h0m3 -46h0m4 3h0m2 14h0m0 53h0m1 -175h0m3 -10h0m4 194h0m1 21h0m2 -42h0m1 -56h0m0 58h0m2 -201h0m2 -64h0m2 332h0m1 -325h0m0 36h0m1 -33h0m0 60h0m2 55h0m0 212h0m1 -335h0m0 150h0m1 -101h0m2 111h0m0 38h0m1 -135h0m0 218h0m3 -34h0m0 27h0m1 -256h0m1 63h0m0 256h0m1 -179h0m1 -135h0m2 250h0m5 -273h0m0 287h0m1 -22h0m2 -212h0m0 181h0m3 -174h0m1 57h0m1 -41h0m0 62h0m0 119h0m3 -146h0m1 153h0m1 -209h0m0 107h0m0 50h0m1 -196h0m0 76h0m2 158h0m1 -137h0m2 -15h0m0 62h0m1 -162h0m1 267h0m7 -109h0m1 -162h0m1 212h0m1 -159h0m0 98h0m3 -83h0m0 41h0m3 -93h0m1 295h0" stroke="#fdf2fc" stroke-width="3.6" stroke-linecap="round" stroke-opacity="0.92" fill="none"/>
<path d="M11 2126h0m3 -194h0m0 80h0m1 -64h0m1 25h0m4 145h0m2 -183h0m0 133h0m4 -196h0m2 41h0m3 151h0m2 -269h0m4 217h0m1 -232h0m2 315h0m2 -45h0m1 -106h0m0 100h0m1 -87h0m2 -120h0m9 -57h0m1 250h0m4 60h0m3 -292h0m5 109h0m2 182h0m3 -178h0m1 -126h0m1 -6h0m10 183h0m6 -13h0m4 96h0m2 -194h0m1 246h0m10 -165h0m3 -155h0m5 202h0m2 -7h0m3 -95h0m4 -2h0m2 207h0m6 -160h0m2 96h0m2 -176h0m1 -11h0m2 7h0m0 31h0m7 19h0m0 64h0m0 36h0m5 -178h0m4 -28h0m3 56h0m1 182h0m2 78h0m5 -258h0m1 7h0m2 279h0m1 -177h0m0 177h0m12 -125h0m3 -42h0m0 68h0m2 9h0m4 -263h0m4 256h0m1 -6h0m1 43h0m5 -7h0m1 -74h0m5 6h0m4 18h0m0 73h0m1 -207h0m0 83h0m1 -8h0m7 -152h0m2 174h0m1 -199h0m0 353h0m3 -89h0m4 -167h0m6 119h0m2 -71h0m2 -98h0m0 118h0m1 35h0m8 2h0m1 -17h0m2 -172h0m0 140h0m1 -139h0m3 324h0m3 -293h0m0 306h0m3 -268h0m0 149h0m7 -142h0m1 264h0m3 -55h0m3 -186h0m4 202h0m2 -238h0m4 88h0m0 128h0m1 -98h0m0 138h0m1 -165h0m1 91h0m5 -93h0m2 -22h0m4 -141h0m1 190h0m4 -106h0m2 85h0m8 -156h0m3 311h0m1 -47h0m6 -277h0m1 118h0m6 -117h0m2 142h0m2 113h0m2 92h0m1 -225h0m0 171h0m4 23h0m3 -21h0m4 -208h0m1 -75h0m8 334h0m3 -151h0m1 30h0m0 122h0m4 -290h0m1 -27h0m1 40h0m3 6h0m3 -83h0m1 81h0m6 142h0m0 127h0m1 -323h0m0 257h0m4 -280h0m4 45h0m5 87h0m12 122h0m2 -174h0m0 89h0m4 -107h0m3 132h0m2 -106h0m4 -2h0m4 195h0m2 -122h0m4 83h0m2 -73h0m6 148h0m2 -85h0m0 88h0m1 -250h0m5 184h0m1 94h0m5 -230h0m1 176h0m5 58h0m1 -116h0m1 -102h0m0 145h0m6 -60h0" stroke="#fdf2fc" stroke-width="5.0" stroke-linecap="round" stroke-opacity="0.92" fill="none"/>
<path d="M12 1905h0m5 50h0m3 -54h0m16 59h0m4 -153h0m5 50h0m0 40h0m15 54h0m6 76h0m2 -83h0m7 30h0m6 -121h0m21 -7h0m10 239h0m11 -199h0m6 93h0m0 83h0m1 -76h0m23 81h0m1 -200h0m0 256h0m10 -117h0m11 115h0m4 -188h0m1 -51h0m18 51h0m18 -141h0m7 20h0m30 24h0m6 292h0m3 -238h0m5 -86h0m11 145h0m6 155h0m3 -25h0m4 -225h0m4 -27h0m3 106h0m0 84h0m7 -71h0m2 39h0m3 -19h0m3 -120h0m10 -35h0m11 77h0m6 129h0m6 -160h0m18 202h0m2 -25h0m44 82h0m1 -266h0m11 264h0m7 -229h0m2 45h0m1 108h0m10 -238h0m1 90h0m3 116h0m3 -135h0m1 43h0m0 166h0m19 -134h0m4 125h0" stroke="#fdf2fc" stroke-width="6.5" stroke-linecap="round" stroke-opacity="0.92" fill="none"/>
<path d="M17 1905h0m4 118h0m3 -60h0m5 -16h0m4 -95h0m6 86h0m2 56h0m4 -62h0m3 -121h0m1 77h0m2 81h0m8 63h0m2 -219h0m2 298h0m4 -120h0m3 -149h0m6 161h0m4 -216h0m1 309h0m2 -271h0m0 27h0m7 122h0m0 40h0m0 79h0m2 -196h0m5 -78h0m2 87h0m4 -101h0m1 187h0m3 77h0m1 -63h0m1 -209h0m2 224h0m1 -225h0m1 223h0m1 -23h0m1 -190h0m8 173h0m9 122h0m1 10h0m2 -237h0m3 99h0m3 -60h0m1 -84h0m3 213h0m1 -182h0m9 111h0m1 -93h0m1 104h0m5 -57h0m2 185h0m4 -276h0m0 106h0m7 183h0m4 -262h0m0 176h0m0 61h0m1 -299h0m2 70h0m3 250h0m2 -93h0m0 48h0m0 11h0m2 -162h0m4 8h0m1 25h0m4 139h0m1 -242h0m1 -60h0m4 141h0m3 80h0m5 -112h0m1 167h0m3 13h0m1 34h0m6 -231h0m0 158h0m2 14h0m6 64h0m6 -204h0m1 34h0m3 47h0m0 114h0m1 -297h0m1 310h0m2 -349h0m0 94h0m3 47h0m1 -136h0m5 254h0m1 -206h0m2 124h0m1 144h0m7 25h0m1 -104h0m8 -240h0m0 326h0m1 -102h0m4 -138h0m3 220h0m1 -165h0m0 188h0m8 -145h0m1 -26h0m0 17h0m3 -1h0m0 97h0m2 -243h0m1 103h0m3 -17h0m0 208h0m2 -176h0m2 -114h0m4 19h0m0 214h0m2 -199h0m2 -64h0m0 216h0m1 -3h0m4 -190h0m5 96h0m0 83h0m1 94h0m1 -222h0m1 142h0m2 -7h0m3 -38h0m1 -8h0m2 -22h0m0 46h0m4 -24h0m2 -50h0m3 130h0m1 88h0m3 -214h0m1 88h0m1 121h0m4 -263h0m0 55h0m1 23h0m3 47h0m1 132h0m5 -48h0m1 -46h0m4 -163h0m3 167h0m1 68h0m5 -195h0m0 152h0m1 -32h0m2 -128h0m0 90h0m1 -183h0m7 -4h0m0 59h0m1 119h0m4 -18h0m0 76h0m2 -188h0m3 121h0m3 -64h0m1 1h0m1 -110h0m0 92h0m1 175h0m2 22h0m2 -208h0m2 111h0m0 34h0m1 -133h0m2 -95h0m4 3h0m1 18h0m0 254h0m4 -271h0m0 166h0m5 176h0m3 -49h0m2 -300h0m0 13h0m0 28h0m2 40h0m0 79h0m9 112h0m1 -117h0m3 76h0m1 -187h0m8 133h0m1 75h0m0 15h0m0 66h0m4 -325h0m6 321h0m2 -15h0m4 -102h0" stroke="#6e3298" stroke-width="11" stroke-linecap="round" stroke-opacity="0.6" fill="none"/>
<path d="M17 1905h0m4 118h0m3 -60h0m5 -16h0m4 -95h0m6 86h0m2 56h0m4 -62h0m3 -121h0m1 77h0m2 81h0m8 63h0m2 -219h0m2 298h0m4 -120h0m3 -149h0m6 161h0m4 -216h0m1 309h0m2 -271h0m0 27h0m7 122h0m0 40h0m0 79h0m2 -196h0m5 -78h0m2 87h0m4 -101h0m1 187h0m3 77h0m1 -63h0m1 -209h0m2 224h0m1 -225h0m1 223h0m1 -23h0m1 -190h0m8 173h0m9 122h0m1 10h0m2 -237h0m3 99h0m3 -60h0m1 -84h0m3 213h0m1 -182h0m9 111h0m1 -93h0m1 104h0m5 -57h0m2 185h0m4 -276h0m0 106h0m7 183h0m4 -262h0m0 176h0m0 61h0m1 -299h0m2 70h0m3 250h0m2 -93h0m0 48h0m0 11h0m2 -162h0m4 8h0m1 25h0m4 139h0m1 -242h0m1 -60h0m4 141h0m3 80h0m5 -112h0m1 167h0m3 13h0m1 34h0m6 -231h0m0 158h0m2 14h0m6 64h0m6 -204h0m1 34h0m3 47h0m0 114h0m1 -297h0m1 310h0m2 -349h0m0 94h0m3 47h0m1 -136h0m5 254h0m1 -206h0m2 124h0m1 144h0m7 25h0m1 -104h0m8 -240h0m0 326h0m1 -102h0m4 -138h0m3 220h0m1 -165h0m0 188h0m8 -145h0m1 -26h0m0 17h0m3 -1h0m0 97h0m2 -243h0m1 103h0m3 -17h0m0 208h0m2 -176h0m2 -114h0m4 19h0m0 214h0m2 -199h0m2 -64h0m0 216h0m1 -3h0m4 -190h0m5 96h0m0 83h0m1 94h0m1 -222h0m1 142h0m2 -7h0m3 -38h0m1 -8h0m2 -22h0m0 46h0m4 -24h0m2 -50h0m3 130h0m1 88h0m3 -214h0m1 88h0m1 121h0m4 -263h0m0 55h0m1 23h0m3 47h0m1 132h0m5 -48h0m1 -46h0m4 -163h0m3 167h0m1 68h0m5 -195h0m0 152h0m1 -32h0m2 -128h0m0 90h0m1 -183h0m7 -4h0m0 59h0m1 119h0m4 -18h0m0 76h0m2 -188h0m3 121h0m3 -64h0m1 1h0m1 -110h0m0 92h0m1 175h0m2 22h0m2 -208h0m2 111h0m0 34h0m1 -133h0m2 -95h0m4 3h0m1 18h0m0 254h0m4 -271h0m0 166h0m5 176h0m3 -49h0m2 -300h0m0 13h0m0 28h0m2 40h0m0 79h0m9 112h0m1 -117h0m3 76h0m1 -187h0m8 133h0m1 75h0m0 15h0m0 66h0m4 -325h0m6 321h0m2 -15h0m4 -102h0" stroke="#9a58c4" stroke-width="7" stroke-linecap="round" stroke-opacity="0.55" fill="none"/>
<path d="M19 2008h0m1 -154h0m4 9h0m9 224h0m4 -311h0m0 184h0m6 -59h0m8 194h0m5 -75h0m1 -164h0m3 78h0m2 -56h0m6 221h0m15 -248h0m9 105h0m13 16h0m0 107h0m1 29h0m12 -221h0m3 219h0m3 -109h0m2 50h0m3 -172h0m7 -35h0m11 281h0m1 -155h0m4 -191h0m3 92h0m3 244h0m3 -231h0m11 207h0m4 -194h0m0 66h0m9 -80h0m0 246h0m3 -105h0m9 -47h0m3 51h0m1 -106h0m4 33h0m3 -134h0m4 254h0m1 -94h0m1 -113h0m6 2h0m8 72h0m8 0h0m4 -60h0m3 29h0m1 -39h0m0 10h0m4 -68h0m1 -38h0m1 151h0m6 -23h0m3 102h0m1 30h0m1 -107h0m2 -51h0m0 51h0m1 26h0m9 10h0m0 12h0m3 2h0m8 5h0m2 -109h0m2 215h0m3 -270h0m12 -33h0m2 12h0m2 104h0m2 -81h0m9 86h0m10 -40h0m1 112h0m7 109h0m9 -206h0m6 156h0m1 -103h0m3 5h0m6 69h0m3 116h0m5 -339h0m7 97h0m17 -17h0m5 84h0m4 -86h0m3 246h0m3 -65h0m5 -249h0m2 149h0m4 104h0m2 -80h0m2 -112h0m4 219h0m1 -77h0m1 -53h0m4 41h0m4 -200h0m10 -9h0m0 197h0m1 -25h0m7 -74h0m5 -49h0m7 78h0" stroke="#4e1a7c" stroke-width="5.5" stroke-linecap="round" stroke-opacity="0.7" fill="none"/>
<circle cx="220" cy="1877" r="9" fill="#fbeefb" fill-opacity="0.9"/>
<circle cx="371" cy="2017" r="12" fill="#fbeefb" fill-opacity="0.9"/>
<circle cx="346" cy="2031" r="9" fill="#fbeefb" fill-opacity="0.9"/>
<circle cx="211" cy="2049" r="10" fill="#fbeefb" fill-opacity="0.9"/>
<circle cx="197" cy="2077" r="8" fill="#fbeefb" fill-opacity="0.9"/>
<circle cx="176" cy="1859" r="9" fill="#fbeefb" fill-opacity="0.9"/>
<circle cx="259" cy="1796" r="7" fill="#fbeefb" fill-opacity="0.9"/>
<circle cx="264" cy="1816" r="6" fill="#fbeefb" fill-opacity="0.9"/>
<circle cx="306" cy="1946" r="7" fill="#fbeefb" fill-opacity="0.9"/>
<circle cx="313" cy="2030" r="6" fill="#fbeefb" fill-opacity="0.9"/>
<circle cx="365" cy="1930" r="8" fill="#fbeefb" fill-opacity="0.9"/>
<path d="M200 2039h0m1 -92h0m0 87h0m10 -5h0m1 -107h0m3 102h0m3 -51h0m3 31h0m5 -13h0m6 46h0m6 -156h0m0 157h0m3 -132h0m0 43h0m4 -48h0m2 16h0m6 -5h0m0 100h0m7 -44h0m0 39h0m1 -117h0m4 -5h0m0 54h0m1 -15h0m0 36h0m2 -58h0m4 118h0m1 -119h0m1 144h0m2 -147h0m0 77h0m3 -33h0m1 -37h0m3 115h0m3 -49h0m0 66h0m3 -35h0m2 -64h0m4 109h0m2 -68h0" stroke="#a0144a" stroke-width="3.2" stroke-linecap="round" stroke-opacity="0.8" fill="none"/>
<path d="M175 2037h0m1 -29h0m0 22h0m1 11h0m13 6h0m5 -21h0m7 22h0m5 -72h0m4 -56h0m2 122h0m5 -62h0m0 7h0m3 -21h0m2 -34h0m3 23h0m1 66h0m1 -63h0m2 -26h0m0 38h0m1 43h0m1 11h0m1 -84h0m1 6h0m4 37h0m0 18h0m1 -55h0m3 26h0m2 43h0m1 -2h0m2 -63h0m0 2h0m3 14h0m0 12h0m0 54h0m4 -78h0m2 -10h0m1 14h0m11 32h0m1 -46h0m1 34h0m1 14h0m2 -11h0m4 16h0m1 -37h0m3 29h0m4 34h0m2 -85h0m0 28h0m4 109h0m1 -81h0m0 14h0m5 43h0m1 -55h0m9 7h0m5 29h0m2 -44h0m1 -57h0m10 36h0m4 30h0m33 24h0" stroke="#4a1a78" stroke-width="5" stroke-linecap="round" stroke-opacity="0.8" fill="none"/>
<path d="M205.7 1968.6C208.7 1965.2 218.3 1964.5 225.7 1964.7C233.1 1964.9 241.9 1968.1 250 1970C258.1 1971.9 268.2 1973 274.3 1976.1C280.4 1979.2 286.4 1983.2 286.7 1988.6C287 1994 282.2 2004.1 276.3 2008.6C270.4 2013 261.3 2014.7 251.4 2015.3C241.5 2015.9 224.8 2014.5 217.1 2012.4C209.4 2010.4 206.6 2007.6 205 2003C203.4 1998.4 207.6 1990.6 207.7 1984.9C207.8 1979.2 202.7 1972 205.7 1968.6Z" fill="#fdf3fd"/>
<path d="M180 2001C182.7 1998.7 190.8 1997.5 194 1999C197.2 2000.5 199.8 2006.8 199 2010C198.2 2013.2 192.5 2017.5 189 2018C185.5 2018.5 179.5 2015.8 178 2013C176.5 2010.2 177.3 2003.3 180 2001Z" fill="#fdf3fd"/>
</g>
<g clip-path="url(#cq0)">
<rect x="6.6" y="2138.9" width="467" height="360.1" fill="#f5d54e"/>
<rect x="6.6" y="2138.9" width="467" height="360.1" fill="url(#srGrad0)"/>
<rect x="6.6" y="2138.9" width="467" height="360.1" fill="#fff" filter="url(#srTone)"/>
<rect x="6.6" y="2138.9" width="467" height="360.1" fill="#fff" filter="url(#srW0)"/>
<rect x="6.6" y="2138.9" width="467" height="360.1" fill="#fff" filter="url(#srSpk)"/>
<g fill="#fff8ec" fill-opacity="0.9" stroke="#f0b060" stroke-opacity="0.5" stroke-width="1.2"><ellipse cx="127" cy="2455" rx="9" ry="7"/><ellipse cx="317" cy="2296" rx="9" ry="9"/><ellipse cx="139" cy="2251" rx="10" ry="8"/><ellipse cx="107" cy="2274" rx="8" ry="8"/><ellipse cx="105" cy="2407" rx="9" ry="8"/><ellipse cx="257" cy="2189" rx="13" ry="13"/><ellipse cx="126" cy="2209" rx="11" ry="8"/><ellipse cx="214" cy="2477" rx="13" ry="12"/><ellipse cx="247" cy="2340" rx="8" ry="6"/><ellipse cx="343" cy="2343" rx="13" ry="11"/><ellipse cx="157" cy="2258" rx="9" ry="9"/><ellipse cx="182" cy="2271" rx="9" ry="7"/><ellipse cx="265" cy="2224" rx="12" ry="12"/><ellipse cx="177" cy="2313" rx="12" ry="9"/><ellipse cx="250" cy="2386" rx="8" ry="6"/><ellipse cx="45" cy="2302" rx="11" ry="12"/><ellipse cx="320" cy="2156" rx="8" ry="8"/><ellipse cx="32" cy="2325" rx="12" ry="9"/><ellipse cx="148" cy="2224" rx="13" ry="11"/><ellipse cx="38" cy="2156" rx="10" ry="10"/><ellipse cx="69" cy="2204" rx="11" ry="10"/><ellipse cx="79" cy="2442" rx="8" ry="7"/><ellipse cx="230" cy="2419" rx="8" ry="8"/><ellipse cx="240" cy="2157" rx="12" ry="11"/><ellipse cx="301" cy="2319" rx="11" ry="12"/><ellipse cx="302" cy="2393" rx="12" ry="12"/><ellipse cx="323" cy="2424" rx="10" ry="7"/><ellipse cx="101" cy="2439" rx="13" ry="10"/><ellipse cx="20" cy="2405" rx="8" ry="7"/><ellipse cx="135" cy="2467" rx="13" ry="12"/><ellipse cx="185" cy="2340" rx="9" ry="6"/><ellipse cx="86" cy="2229" rx="8" ry="7"/><ellipse cx="80" cy="2288" rx="10" ry="8"/><ellipse cx="277" cy="2204" rx="13" ry="13"/><ellipse cx="25" cy="2235" rx="13" ry="11"/><ellipse cx="295" cy="2197" rx="12" ry="9"/><ellipse cx="76" cy="2403" rx="10" ry="9"/><ellipse cx="144" cy="2253" rx="9" ry="9"/><ellipse cx="261" cy="2343" rx="9" ry="9"/><ellipse cx="81" cy="2363" rx="12" ry="11"/><ellipse cx="316" cy="2204" rx="8" ry="6"/><ellipse cx="42" cy="2444" rx="12" ry="13"/><ellipse cx="19" cy="2268" rx="9" ry="8"/><ellipse cx="110" cy="2435" rx="12" ry="12"/><ellipse cx="251" cy="2345" rx="8" ry="7"/><ellipse cx="393" cy="2367" rx="8" ry="8"/><ellipse cx="39" cy="2435" rx="10" ry="9"/><ellipse cx="134" cy="2469" rx="8" ry="8"/><ellipse cx="59" cy="2454" rx="9" ry="8"/><ellipse cx="159" cy="2216" rx="11" ry="11"/><ellipse cx="107" cy="2383" rx="9" ry="9"/><ellipse cx="90" cy="2424" rx="8" ry="6"/><ellipse cx="223" cy="2490" rx="12" ry="9"/><ellipse cx="135" cy="2414" rx="13" ry="13"/><ellipse cx="221" cy="2341" rx="9" ry="8"/><ellipse cx="124" cy="2159" rx="11" ry="12"/><ellipse cx="251" cy="2367" rx="10" ry="9"/><ellipse cx="133" cy="2201" rx="13" ry="11"/><ellipse cx="85" cy="2234" rx="13" ry="11"/><ellipse cx="324" cy="2180" rx="10" ry="10"/><ellipse cx="226" cy="2326" rx="12" ry="10"/><ellipse cx="448" cy="2363" rx="11" ry="12"/><ellipse cx="250" cy="2238" rx="10" ry="9"/><ellipse cx="45" cy="2386" rx="11" ry="11"/><ellipse cx="264" cy="2388" rx="10" ry="8"/><ellipse cx="61" cy="2296" rx="9" ry="8"/><ellipse cx="107" cy="2418" rx="9" ry="9"/><ellipse cx="86" cy="2289" rx="8" ry="8"/><ellipse cx="31" cy="2341" rx="8" ry="9"/><ellipse cx="211" cy="2248" rx="12" ry="11"/></g>
<path d="M8 2378h0m1 -67h0m2 29h0m1 137h0m1 -56h0m5 -239h0m9 -32h0m0 91h0m0 2h0m1 -17h0m7 -67h0m0 13h0m0 260h0m4 -91h0m0 126h0m2 11h0m2 -174h0m10 -89h0m4 -30h0m2 221h0m3 -130h0m1 -107h0m5 324h0m2 -5h0m5 -263h0m1 18h0m1 -18h0m1 -2h0m5 169h0m7 -68h0m3 116h0m1 -200h0m5 -33h0m2 101h0m2 -15h0m1 198h0m4 -265h0m0 105h0m2 42h0m3 33h0m3 23h0m5 -290h0m3 355h0m2 -308h0m3 63h0m1 -63h0m1 81h0m1 -88h0m7 249h0m5 -190h0m0 206h0m2 -156h0m2 -144h0m1 165h0m6 69h0m2 -30h0m3 -23h0m15 -12h0m9 -166h0m4 33h0m0 250h0m3 -112h0m2 59h0m1 -106h0m11 17h0m5 36h0m1 -22h0m1 151h0m2 -24h0m5 -91h0m0 133h0m2 -163h0m5 57h0m1 115h0m1 -183h0m0 114h0m2 -81h0m1 -40h0m1 52h0m2 -39h0m7 34h0m2 -170h0m1 83h0m3 -102h0m3 94h0m0 139h0m8 -163h0m0 76h0m3 -62h0m1 120h0m2 -125h0m12 -43h0m8 26h0m4 51h0m4 56h0m0 174h0m4 -57h0m8 -80h0m5 132h0m1 -339h0m3 259h0m1 -157h0m3 85h0m0 28h0m2 -20h0m9 -74h0m2 134h0m2 -67h0m2 -172h0m1 181h0m3 96h0m9 -125h0m0 176h0m1 -155h0m1 62h0m6 74h0m1 -120h0m8 36h0m6 61h0m10 -254h0m0 141h0m3 -189h0m3 275h0m1 -202h0m0 174h0m12 46h0m11 -109h0m1 143h0m10 -88h0m1 -46h0m0 147h0m2 -222h0m0 34h0m4 147h0m4 7h0m2 -283h0m0 109h0m3 32h0m0 177h0m2 -217h0m0 217h0m2 -331h0m1 281h0m3 -214h0m2 13h0m12 111h0m4 -138h0m1 222h0m2 -91h0m7 -22h0" stroke="#ee8a26" stroke-width="7.5" stroke-linecap="round" stroke-opacity="0.6" fill="none"/>
<path d="M58.3 2143.2 L59.9 2143.3 L63.5 2149.6 L61.3 2153.3 L66.4 2153.5 L67.8 2157.2 L71.3 2161 L70.4 2166.6 L73.7 2166.9 L77.5 2170.1 L79.2 2174.9 L79.3 2180.5 L84 2180 L87.1 2186 L88.9 2190 L88.2 2191.4 L90.4 2197 L96 2199.3 L97.4 2204.1 L99.4 2204.7 L101 2210.1 L103 2209.6 L108.9 2211.9 L108.7 2217.1 L111.5 2219.5 L113.2 2223.7 L116.1 2225.1 L118.9 2229.9 L122.1 2232.2 L123.9 2235.3 L128 2239.8 L130 2240.1 L135.6 2242.1 L137.7 2245.3 L140.6 2245.3 L145.3 2246.1 L146.9 2248.6 L152.3 2249.9 L157.5 2251.9 L160.9 2254.1 L165.1 2257 L168.2 2257.3 L171.9 2256 L176.9 2259.4 L177.2 2261.7 L183 2264 L185 2265.1 L189.4 2270.4 L191.2 2271.5 L192 2276 L196.4 2278.1 L197.9 2281.8 L199.6 2283.5 L200.7 2286.9 L206.1 2289.2 L205.1 2293.2 L210.1 2298.5 L210.2 2299.3 L212.7 2306.4 L213.4 2310.5 L214.1 2311.8 L215.9 2319.8 L214 2322 L218.5 2328.9 L218.7 2332.6 L216.7 2337.1 L220.5 2338.4 L221.8 2345.4 L221.1 2350.1 L216.8 2351.1 L219.2 2355.5 L216.5 2362.5 L218 2365.1 L215.4 2370.7 L217.3 2374.7 L213.7 2377.3 L212.3 2383.2 L214 2385.8 L213.4 2391.8 L211.9 2395.7 L210.5 2397.8 L210.4 2404.9 L211.2 2410.6 L209.4 2411.3 L209.7 2416.7 L209.4 2423.4 L204.9 2423.7 L204 2430.8 L205.1 2434.6 L203.5 2438.6 L201.6 2440.9 L203.6 2445.1 L200 2451 L203 2456.3 L201.7 2459.4 L197 2461.1 L198.6 2466.8 L198.9 2468.6 L197.1 2472.9 L196.8 2477.1 L194.8 2484.1 L196.1 2488.3 L193.9 2490.4 L191.9 2495.8 L190 2500" fill="none" stroke="#e3202c" stroke-width="2.4" stroke-linejoin="round" stroke-linecap="round" stroke-opacity="0.9"/>
<path d="M195 2481l4 -13M119 2228l16 -2M129 2238l-1 -15M143 2247l16 1M201 2449l-8 -6M207 2419l-7 13M192 2491l-11 0M209 2409l15 -8M84 2184l9 -4M211 2304l-12 -6M218 2351l-10 2M216 2326l10 -5M192 2492l-9 -2M120 2228l0 -13M202 2447l5 -3M182 2261l10 4M195 2481l3 -7M63 2151l7 -9M64 2152l17 0" stroke="#e3202c" stroke-width="1.2" stroke-opacity="0.75" fill="none"/>
<path d="M242.3 2203.2 L242.8 2202.9 L240.9 2207.5 L238.2 2213.7 L236.6 2216 L234.5 2219.8 L234.5 2222.8 L232.3 2228 L231 2234.2 L230.5 2235.6 L228.4 2241.5 L227.6 2242.1 L229.4 2249.9 L232.8 2252 L232.4 2254.3 L234.8 2261.4 L232.9 2265.9 L233.5 2268.4 L235.1 2272.8 L235.9 2276.8 L236.9 2278.5 L237.3 2286 L239.8 2288.8 L241.7 2291.8 L240.6 2296.5 L244.1 2302 L243.8 2305.6 L243.9 2311.3 L246.6 2314.8 L246.4 2317.9 L248.9 2321.9 L250.1 2324.9 L251.3 2329.2 L251.1 2332.6 L251.6 2340 L250.9 2341.1 L254.2 2347.3 L255.8 2351.5 L257 2355.3 L255.5 2359.2 L259.7 2358.6 L264.3 2364.6 L267.7 2365.4 L272 2364 L275.3 2369.9 L279.4 2368.6 L284.2 2372 L287.9 2374.5 L290.4 2372.9 L294.1 2372.2 L299.6 2371.4 L304.2 2372.3 L305.7 2373.5 L309.2 2373.5 L312 2374.6 L316.4 2374.4 L323.9 2373.7 L327.6 2370.8 L331 2370 L336 2372.9 L337.8 2371.1 L341.5 2371.8 L348.3 2368.9 L352.1 2372.2 L354.4 2372.1 L359 2367.9 L362.4 2370.7 L367 2370.8 L372.3 2367 L378.2 2367.6 L379.4 2365.8 L384.3 2367.4 L389.4 2367.6 L391.8 2364.6 L399.5 2366.1 L403 2367.7 L406.6 2366.7 L409.2 2363.9 L414.7 2366.9 L420.9 2363.2 L423 2364" fill="none" stroke="#e3202c" stroke-width="1.8" stroke-linejoin="round" stroke-linecap="round" stroke-opacity="0.9"/>
<path d="M332 2371l13 -5M285 2372l-8 7M234 2226l-6 1M263 2362l0 6M247 2320l0 16M348 2370l1 14M413 2364l14 3M413 2364l-12 7M345 2370l-10 -5M382 2367l5 15M241 2295l16 0M246 2315l-7 5M317 2372l-11 12M270 2365l7 9M356 2370l6 0" stroke="#e3202c" stroke-width="1" stroke-opacity="0.75" fill="none"/>
<path d="M171.4 2232 L174.9 2228.9 L179 2230.7 L185.5 2228.9 L190.4 2229.7 L194.1 2229.9 L197.8 2230.6 L204.1 2233.6 L206 2232.9 L210.6 2234.3 L214 2238" fill="none" stroke="#e3202c" stroke-width="4" stroke-linejoin="round" stroke-linecap="round" stroke-opacity="0.9"/>
<path d="M195 2230l3 15M181 2228l-9 -2" stroke="#e3202c" stroke-width="2" stroke-opacity="0.75" fill="none"/>
<path d="M287 2140 L283.8 2145.2 L283.3 2148 L282.3 2153.9 L280.2 2155.3 L279.2 2159.5 L274.6 2162 L273.5 2166.3 L273.5 2173.1 L270.9 2178.6 L269 2181" fill="none" stroke="#e3202c" stroke-width="1.8" stroke-linejoin="round" stroke-linecap="round" stroke-opacity="0.9"/>
<path d="M274 2169l2 5" stroke="#e3202c" stroke-width="1" stroke-opacity="0.75" fill="none"/>
<path d="M214.4 2242.7 L219.1 2240.1 L218.5 2233.4 L220.8 2231.8 L225.8 2229.6 L226.9 2225.6 L232.7 2222 L235.7 2220.2 L235.6 2219.7 L241.5 2216.8 L242.8 2209.3 L241.9 2204.9 L243 2201" fill="none" stroke="#e3202c" stroke-width="2.2" stroke-linejoin="round" stroke-linecap="round" stroke-opacity="0.9"/>
<path d="M224 2230l-1 6M240 2214l-10 0" stroke="#e3202c" stroke-width="1.1" stroke-opacity="0.75" fill="none"/>
<path d="M247.3 2346.4 L250.3 2351.9 L249.4 2354.8 L254.4 2356 L255.7 2358.4 L257.6 2361 L264.3 2364.6 L267 2369 L268.1 2370.4 L272.3 2374.2 L274.4 2375.9 L276.5 2378.6 L284 2378.5 L284.1 2381.5 L290 2385 L294.8 2384.9 L297.5 2386.5 L300 2390" fill="none" stroke="#e3202c" stroke-width="1.8" stroke-linejoin="round" stroke-linecap="round" stroke-opacity="0.9"/>
<path d="M286 2382l-14 -9M276 2376l8 9M248 2350l-5 4" stroke="#e3202c" stroke-width="1" stroke-opacity="0.75" fill="none"/>
<path d="M183 2253C186.3 2247.7 206.3 2237.7 214 2241C221.7 2244.3 223.7 2255.3 229 2273C234.3 2290.7 245.2 2334.2 246 2347C246.8 2359.8 238.8 2357.7 234 2350C229.2 2342.3 223.7 2313.8 217 2301C210.3 2288.2 199.7 2281 194 2273C188.3 2265 179.7 2258.3 183 2253Z" fill="#efe33a"/>
<path d="M165 2240h0m12 -5h0m6 -9h0m0 8h0m0 8h0m4 -11h0m1 -3h0m1 0h0m2 9h0m0 14h0m3 -33h0m0 14h0m1 -10h0m1 6h0m0 3h0m2 -10h0m0 6h0m3 6h0m0 13h0m4 -9h0m2 -13h0m7 3h0m4 4h0m1 6h0m1 -2h0" stroke="#e3202c" stroke-width="4" stroke-linecap="round" stroke-opacity="0.8" fill="none"/>
</g>
<g clip-path="url(#cp1)">
<rect x="483.2" y="1769.2" width="466.8" height="359.6" fill="#da42d2"/>
<rect x="483.2" y="1769.2" width="466.8" height="359.6" fill="#fff" filter="url(#heTone)"/>
<rect x="483.2" y="1769.2" width="466.8" height="359.6" fill="#fff" filter="url(#heNet)" opacity="0.4"/>
<rect x="483.2" y="1769.2" width="466.8" height="359.6" fill="#fff" filter="url(#heW1)"/>
<path d="M484 1978h0m2 100h0m1 -1h0m0 46h0m4 -221h0m1 220h0m3 -124h0m1 50h0m0 41h0m2 -30h0m2 23h0m2 44h0m1 -96h0m1 -125h0m0 224h0m1 -106h0m2 -16h0m9 97h0m1 -123h0m0 129h0m1 -205h0m2 19h0m3 200h0m1 -205h0m9 -125h0m1 171h0m2 76h0m1 12h0m0 17h0m1 -16h0m2 -28h0m2 -91h0m5 76h0m2 19h0m3 -27h0m2 -80h0m4 91h0m1 -24h0m0 40h0m1 -76h0m0 126h0m1 -128h0m2 156h0m11 16h0m1 -3h0m3 -200h0m1 54h0m1 47h0m1 -56h0m0 80h0m0 4h0m1 -104h0m1 29h0m5 -159h0m3 297h0m4 -119h0m10 -13h0m2 110h0m1 -113h0m2 67h0m5 17h0m4 -147h0m1 22h0m1 55h0m1 87h0m3 -7h0m1 -30h0m2 -253h0m0 245h0m0 54h0m2 -42h0m1 -245h0m1 293h0m3 -168h0m3 131h0m1 -153h0m1 167h0m1 -149h0m0 43h0m0 28h0m2 54h0m0 45h0m0 0h0m2 -291h0m4 278h0m2 -219h0m0 204h0m1 -140h0m1 -2h0m5 97h0m1 -5h0m1 -69h0m1 -146h0m1 184h0m1 -154h0m1 28h0m0 16h0m1 169h0m9 -138h0m1 60h0m3 -31h0m5 -151h0m2 175h0m1 116h0m4 -119h0m1 -94h0m2 -54h0m1 -16h0m0 153h0m0 26h0m1 -91h0m2 -77h0m2 46h0m0 82h0m1 78h0m2 -172h0m0 62h0m3 165h0m1 -55h0m1 -87h0m0 10h0m2 -80h0m0 56h0m1 2h0m5 -3h0m1 120h0m1 23h0m2 12h0m1 -200h0m0 200h0m1 2h0m0 36h0m2 -278h0m0 157h0m2 -187h0m0 201h0m1 -44h0m1 -157h0m1 4h0m0 215h0m6 -47h0m3 98h0m1 -112h0m4 -175h0m0 111h0m0 49h0m2 134h0m2 49h0m2 -40h0m1 -279h0m1 300h0m2 -162h0m0 189h0m2 -308h0m1 162h0m2 49h0m1 25h0m1 -190h0m0 37h0m3 -84h0m0 284h0m3 -109h0m7 -165h0m1 152h0m0 108h0m0 32h0m1 -89h0m2 22h0m1 -205h0m2 -74h0m0 150h0m1 62h0m2 140h0m3 -111h0m1 -178h0m1 95h0m2 34h0m0 30h0m1 -190h0m0 47h0m6 -29h0m1 295h0m1 -265h0m1 155h0m1 -48h0m2 -51h0m6 82h0m2 82h0m9 -197h0m1 -58h0m1 121h0m0 86h0m0 65h0m1 -100h0m0 67h0m3 -136h0m0 206h0m1 -92h0m1 -62h0m0 106h0m0 10h0m2 -210h0m1 139h0m1 95h0m3 -200h0m5 -133h0m0 180h0m1 29h0m0 7h0m1 -177h0m0 272h0m1 -207h0m0 176h0m1 -231h0m4 -39h0m3 208h0m0 56h0m1 -218h0m4 81h0m1 7h0m1 130h0m0 22h0m7 -206h0m1 49h0m1 -70h0m2 -20h0m2 241h0m3 -263h0m1 26h0m0 122h0m2 -67h0m1 -12h0m2 -50h0m2 173h0m2 -88h0m1 15h0m3 24h0m2 -33h0m3 75h0m1 -125h0m0 42h0m3 -66h0m1 277h0m3 -122h0m2 15h0m0 29h0m0 62h0m6 -40h0m5 60h0m1 -160h0m2 -85h0m0 57h0m2 95h0m0 86h0m2 -201h0m1 -62h0m0 106h0m2 26h0m1 -180h0m3 310h0m3 -70h0m3 -233h0m0 21h0m2 159h0m1 -177h0m1 164h0m0 9h0m2 34h0m1 -235h0m0 316h0m3 -305h0m0 90h0m0 14h0m0 30h0m3 2h0m1 -25h0m0 14h0m2 62h0m0 79h0m1 -62h0" stroke="#fdf2fc" stroke-width="2.6" stroke-linecap="round" stroke-opacity="0.92" fill="none"/>
<path d="M485 2062h0m3 -117h0m0 124h0m2 -56h0m1 -34h0m8 65h0m2 -142h0m1 -114h0m2 207h0m0 14h0m2 108h0m3 -145h0m2 57h0m6 90h0m2 -94h0m2 54h0m3 34h0m1 -9h0m2 15h0m8 -288h0m1 188h0m1 -177h0m1 -43h0m0 215h0m1 -105h0m3 22h0m4 11h0m2 26h0m1 -21h0m1 0h0m0 94h0m1 -10h0m3 7h0m2 -33h0m1 105h0m2 -161h0m2 6h0m4 20h0m2 3h0m1 52h0m0 3h0m4 -58h0m1 122h0m4 -135h0m0 101h0m2 -152h0m1 40h0m0 59h0m0 70h0m4 -148h0m0 158h0m1 -27h0m0 3h0m1 -117h0m0 4h0m0 109h0m0 31h0m2 -200h0m0 16h0m8 132h0m1 -80h0m2 67h0m1 -57h0m1 -13h0m2 91h0m6 9h0m3 29h0m4 11h0m2 6h0m3 -1h0m2 -88h0m1 57h0m4 -6h0m1 -23h0m4 67h0m2 -1h0m2 -206h0m3 222h0m2 -350h0m1 297h0m2 48h0m1 -207h0m0 77h0m3 130h0m1 -158h0m2 60h0m1 -245h0m0 48h0m0 47h0m1 156h0m4 -143h0m2 163h0m1 4h0m5 -113h0m1 91h0m1 -202h0m0 148h0m2 -166h0m0 209h0m3 -160h0m1 -23h0m2 231h0m4 -4h0m5 -103h0m2 -155h0m1 270h0m1 -198h0m3 61h0m4 -51h0m0 62h0m1 -103h0m0 250h0m2 -156h0m0 183h0m4 -149h0m9 -145h0m1 184h0m0 104h0m2 -183h0m0 147h0m1 -13h0m2 -76h0m0 37h0m1 -208h0m5 51h0m0 195h0m2 -278h0m0 106h0m1 -109h0m0 147h0m3 -67h0m1 -22h0m1 -40h0m0 150h0m2 -8h0m3 10h0m1 -141h0m1 125h0m1 112h0m3 -271h0m0 269h0m1 38h0m4 -251h0m0 16h0m4 215h0m0 50h0m1 -151h0m0 79h0m9 -95h0m0 15h0m1 -102h0m4 131h0m4 -32h0m1 13h0m1 62h0m2 85h0m4 -157h0m1 129h0m3 5h0m1 -145h0m1 -134h0m3 -3h0m2 1h0m1 169h0m4 -24h0m3 47h0m0 114h0m1 -209h0m0 207h0m1 4h0m1 -229h0m1 228h0m1 -40h0m1 28h0m5 -267h0m2 234h0m4 -103h0m1 -89h0m3 0h0m0 198h0m1 -47h0m0 23h0m1 -168h0m1 10h0m2 32h0m1 -142h0m0 233h0m1 -227h0m0 297h0m1 -239h0m4 212h0m6 -119h0m1 127h0m1 -87h0m3 -124h0m1 236h0m4 -318h0m0 80h0m1 132h0m1 -212h0m1 8h0m0 95h0m0 54h0m0 28h0m2 -122h0m5 130h0m2 -23h0m1 -45h0m3 -26h0m3 242h0m1 -286h0m0 129h0m1 116h0m1 -163h0m1 196h0m3 -240h0m5 -84h0m1 264h0m2 -60h0m1 -156h0m0 88h0m3 -66h0m0 125h0m1 -9h0m2 95h0m5 -256h0m3 174h0m1 -12h0m1 88h0m2 -143h0m0 144h0m2 -218h0m3 -82h0m0 218h0m2 78h0m4 -113h0m2 -155h0m2 106h0m1 -103h0m1 245h0m2 -47h0m3 -149h0m0 130h0m1 39h0m2 62h0m5 -92h0m1 -160h0m0 23h0m2 202h0m6 -133h0m1 -18h0m2 -21h0m1 -59h0m0 91h0m1 45h0m0 77h0m4 -37h0m1 59h0m0 53h0" stroke="#fdf2fc" stroke-width="3.6" stroke-linecap="round" stroke-opacity="0.92" fill="none"/>
<path d="M487 2110h0m6 -147h0m2 8h0m3 36h0m5 11h0m3 -69h0m10 87h0m1 -241h0m8 197h0m6 -169h0m2 118h0m1 126h0m1 -285h0m1 320h0m2 -65h0m1 23h0m1 -63h0m0 122h0m3 -176h0m1 -25h0m8 -99h0m13 308h0m6 -5h0m11 -177h0m1 52h0m6 27h0m5 13h0m16 78h0m4 -99h0m9 -68h0m11 -56h0m4 211h0m6 -182h0m6 -95h0m0 290h0m4 -28h0m4 -1h0m3 -250h0m4 -57h0m2 163h0m3 169h0m4 -178h0m3 -10h0m0 130h0m5 -203h0m4 -11h0m0 24h0m3 27h0m3 82h0m5 -110h0m0 17h0m5 -96h0m4 111h0m5 -64h0m0 195h0m7 -168h0m1 173h0m2 -106h0m2 150h0m2 -272h0m7 281h0m10 -277h0m10 70h0m7 49h0m9 33h0m4 -42h0m6 11h0m6 35h0m3 -128h0m4 -33h0m7 227h0m1 -119h0m1 -85h0m1 67h0m9 -14h0m4 21h0m11 -51h0m3 267h0m5 -279h0m2 -48h0m0 186h0m5 -84h0m1 -13h0m1 186h0m3 -279h0m2 306h0m3 -309h0m4 328h0m9 -29h0m1 -240h0m4 120h0m4 157h0m3 -180h0m2 103h0m1 -201h0m0 270h0m1 -62h0m2 -57h0m0 37h0m1 -206h0m0 232h0m7 2h0m9 28h0m8 -219h0m1 182h0m3 -166h0m6 119h0m3 -51h0m1 -80h0m1 191h0m7 -64h0m2 -9h0m5 61h0m1 46h0m4 -76h0m0 15h0m1 -252h0m3 163h0m3 58h0m2 -28h0m0 144h0" stroke="#fdf2fc" stroke-width="5.0" stroke-linecap="round" stroke-opacity="0.92" fill="none"/>
<path d="M515 1815h0m6 55h0m6 250h0m14 -124h0m12 -83h0m27 114h0m13 -60h0m1 -64h0m12 141h0m21 -112h0m12 45h0m10 -33h0m16 9h0m8 22h0m4 118h0m4 -111h0m8 145h0m55 -83h0m2 71h0m41 -174h0m8 135h0m4 -179h0m9 -51h0m2 135h0m4 -185h0m4 275h0m6 -200h0m1 166h0m9 -225h0m0 13h0m27 249h0m22 -15h0m5 61h0m2 -283h0m13 189h0m1 -134h0m6 10h0m22 36h0m1 -163h0m0 346h0" stroke="#fdf2fc" stroke-width="6.5" stroke-linecap="round" stroke-opacity="0.92" fill="none"/>
<path d="M484 2049h0m0 35h0m8 -258h0m5 36h0m3 46h0m2 205h0m3 -309h0m4 100h0m1 -68h0m1 48h0m0 150h0m3 -63h0m0 110h0m2 -125h0m2 68h0m6 -101h0m0 123h0m0 67h0m5 -65h0m6 -201h0m0 210h0m3 -92h0m2 23h0m4 30h0m3 83h0m1 -325h0m0 22h0m3 117h0m0 124h0m1 -216h0m0 239h0m1 -54h0m0 90h0m4 -212h0m6 23h0m4 171h0m7 -91h0m3 -29h0m1 81h0m4 -72h0m2 140h0m7 -164h0m0 56h0m4 -136h0m1 -14h0m7 6h0m9 82h0m0 75h0m1 39h0m2 19h0m3 -98h0m1 -164h0m1 309h0m3 -162h0m4 -26h0m0 53h0m8 56h0m1 -194h0m2 67h0m1 178h0m1 -200h0m4 124h0m7 -242h0m0 95h0m0 18h0m0 101h0m2 49h0m6 -4h0m5 -126h0m2 -40h0m12 252h0m6 -147h0m5 25h0m0 13h0m0 32h0m0 41h0m9 -124h0m1 148h0m9 -314h0m9 243h0m1 54h0m6 -126h0m10 -70h0m9 166h0m1 -207h0m0 29h0m1 14h0m2 -53h0m1 91h0m3 128h0m1 -12h0m3 2h0m1 -261h0m10 108h0m2 -12h0m0 8h0m4 184h0m2 -14h0m1 -11h0m12 -278h0m2 307h0m1 -175h0m4 -58h0m1 183h0m2 -208h0m2 239h0m2 24h0m1 -122h0m1 97h0m2 -220h0m1 221h0m2 -188h0m1 223h0m1 -169h0m4 52h0m3 120h0m9 -177h0m3 64h0m1 -100h0m1 -99h0m1 144h0m0 115h0m4 -168h0m2 122h0m3 -39h0m1 -57h0m0 66h0m9 47h0m15 -113h0m5 5h0m1 145h0m4 -217h0m0 175h0m4 79h0m6 -218h0m5 225h0m1 -66h0m3 -79h0m7 -166h0m0 209h0m2 -175h0m3 61h0m8 225h0m1 -142h0m9 136h0m2 -40h0m4 -211h0m0 65h0m1 -113h0m4 142h0m2 72h0m4 -125h0m1 -92h0m4 -19h0m0 200h0m1 30h0" stroke="#6e3298" stroke-width="11" stroke-linecap="round" stroke-opacity="0.6" fill="none"/>
<path d="M484 2049h0m0 35h0m8 -258h0m5 36h0m3 46h0m2 205h0m3 -309h0m4 100h0m1 -68h0m1 48h0m0 150h0m3 -63h0m0 110h0m2 -125h0m2 68h0m6 -101h0m0 123h0m0 67h0m5 -65h0m6 -201h0m0 210h0m3 -92h0m2 23h0m4 30h0m3 83h0m1 -325h0m0 22h0m3 117h0m0 124h0m1 -216h0m0 239h0m1 -54h0m0 90h0m4 -212h0m6 23h0m4 171h0m7 -91h0m3 -29h0m1 81h0m4 -72h0m2 140h0m7 -164h0m0 56h0m4 -136h0m1 -14h0m7 6h0m9 82h0m0 75h0m1 39h0m2 19h0m3 -98h0m1 -164h0m1 309h0m3 -162h0m4 -26h0m0 53h0m8 56h0m1 -194h0m2 67h0m1 178h0m1 -200h0m4 124h0m7 -242h0m0 95h0m0 18h0m0 101h0m2 49h0m6 -4h0m5 -126h0m2 -40h0m12 252h0m6 -147h0m5 25h0m0 13h0m0 32h0m0 41h0m9 -124h0m1 148h0m9 -314h0m9 243h0m1 54h0m6 -126h0m10 -70h0m9 166h0m1 -207h0m0 29h0m1 14h0m2 -53h0m1 91h0m3 128h0m1 -12h0m3 2h0m1 -261h0m10 108h0m2 -12h0m0 8h0m4 184h0m2 -14h0m1 -11h0m12 -278h0m2 307h0m1 -175h0m4 -58h0m1 183h0m2 -208h0m2 239h0m2 24h0m1 -122h0m1 97h0m2 -220h0m1 221h0m2 -188h0m1 223h0m1 -169h0m4 52h0m3 120h0m9 -177h0m3 64h0m1 -100h0m1 -99h0m1 144h0m0 115h0m4 -168h0m2 122h0m3 -39h0m1 -57h0m0 66h0m9 47h0m15 -113h0m5 5h0m1 145h0m4 -217h0m0 175h0m4 79h0m6 -218h0m5 225h0m1 -66h0m3 -79h0m7 -166h0m0 209h0m2 -175h0m3 61h0m8 225h0m1 -142h0m9 136h0m2 -40h0m4 -211h0m0 65h0m1 -113h0m4 142h0m2 72h0m4 -125h0m1 -92h0m4 -19h0m0 200h0m1 30h0" stroke="#9a58c4" stroke-width="7" stroke-linecap="round" stroke-opacity="0.55" fill="none"/>
<path d="M487 1906h0m4 96h0m2 -98h0m15 99h0m19 80h0m4 -97h0m3 66h0m14 15h0m1 -3h0m1 -71h0m5 44h0m1 -82h0m23 115h0m6 -90h0m3 -58h0m0 38h0m12 -71h0m15 174h0m3 -150h0m3 -30h0m2 122h0m17 -91h0m11 -116h0m11 115h0m1 56h0m3 1h0m6 158h0m3 -42h0m12 -272h0m5 245h0m6 -23h0m12 16h0m1 -238h0m1 144h0m9 -164h0m3 51h0m8 4h0m1 -57h0m0 152h0m7 20h0m13 -87h0m2 244h0m2 -80h0m2 -170h0m4 14h0m12 60h0m11 163h0m1 -10h0m4 -116h0m0 73h0m11 -10h0m1 -18h0m1 -211h0m2 -11h0m1 318h0m2 -23h0m1 -106h0m8 -168h0m1 25h0m1 50h0m2 -3h0m7 112h0m2 30h0m3 -128h0m3 148h0m1 -158h0m2 -7h0m6 21h0m3 -35h0m3 15h0m18 -82h0m3 124h0m17 -152h0m0 109h0m3 60h0m2 -45h0m14 -61h0m2 -24h0m7 49h0m17 135h0m1 110h0m1 -235h0m3 40h0m2 102h0" stroke="#4e1a7c" stroke-width="5.5" stroke-linecap="round" stroke-opacity="0.7" fill="none"/>
<g fill="#f2d2ef" fill-opacity="0.92" stroke="#c070c0" stroke-opacity="0.5" stroke-width="1.2"><ellipse cx="704" cy="1837" rx="11" ry="24"/><ellipse cx="745" cy="1857" rx="10" ry="14"/><ellipse cx="808" cy="1840" rx="12" ry="12"/><ellipse cx="794" cy="1937" rx="15" ry="18"/><ellipse cx="828" cy="1962" rx="15" ry="17"/><ellipse cx="649" cy="1937" rx="15" ry="12"/><ellipse cx="686" cy="1954" rx="13" ry="11"/><ellipse cx="571" cy="1971" rx="14" ry="10"/><ellipse cx="589" cy="2000" rx="12" ry="10"/><ellipse cx="777" cy="2040" rx="15" ry="13"/><ellipse cx="566" cy="2086" rx="19" ry="18"/><ellipse cx="669" cy="2091" rx="17" ry="18"/><ellipse cx="705" cy="2080" rx="10" ry="12"/><ellipse cx="823" cy="2057" rx="12" ry="10"/><ellipse cx="869" cy="1994" rx="11" ry="10"/><ellipse cx="514" cy="2034" rx="10" ry="9"/><ellipse cx="891" cy="2086" rx="11" ry="9"/><ellipse cx="937" cy="2103" rx="9" ry="12"/><ellipse cx="755" cy="1826" rx="8" ry="16"/><ellipse cx="547" cy="1970" rx="12" ry="10"/><ellipse cx="725" cy="2105" rx="13" ry="11"/><ellipse cx="620" cy="2115" rx="14" ry="10"/><ellipse cx="860" cy="1880" rx="10" ry="9"/><ellipse cx="905" cy="1935" rx="9" ry="9"/><ellipse cx="612" cy="1985" rx="11" ry="9"/><ellipse cx="760" cy="2005" rx="10" ry="9"/><ellipse cx="880" cy="2015" rx="9" ry="8"/><ellipse cx="740" cy="1890" rx="11" ry="9"/><ellipse cx="500" cy="2090" rx="10" ry="10"/></g>
<path d="M498 2087h0m4 0h0m0 1h0m12 -52h0m3 -5h0m1 7h0m26 -63h0m5 -1h0m1 -4h0m10 119h0m4 4h0m3 -124h0m5 1h0m2 5h0m0 119h0m12 -99h0m1 9h0m6 0h0m15 -17h0m4 0h0m5 1h0m0 128h0m5 0h0m2 0h0m20 -176h0m2 -6h0m7 4h0m8 155h0m4 2h0m8 2h0m11 -146h0m5 1h0m2 3h0m9 -126h0m2 255h0m4 -250h0m0 245h0m1 -243h0m1 240h0m11 31h0m6 0h0m0 2h0m11 -218h0m5 1h0m1 -30h0m1 0h0m2 -3h0m0 29h0m7 -56h0m6 1h0m1 -1h0m0 177h0m2 -7h0m1 0h0m10 32h0m3 10h0m5 1h0m9 -102h0m3 -3h0m7 -9h0m8 -91h0m4 -5h0m3 2h0m5 222h0m4 0h0m1 -104h0m5 104h0m2 -102h0m0 9h0m26 -90h0m0 6h0m5 -1h0m5 115h0m4 -5h0m0 5h0m8 20h0m4 -4h0m0 7h0m5 71h0m7 -2h0m1 -2h0m7 -147h0m2 -1h0m2 0h0m27 163h0m4 -2h0m3 1h0" stroke="#fff8fe" stroke-width="5" stroke-linecap="round" stroke-opacity="0.8" fill="none"/>
<path d="M599 2060h0m2 19h0m2 -13h0m5 7h0m3 -36h0m0 15h0m1 11h0m1 1h0m0 9h0m1 -6h0m2 -12h0m0 1h0m5 -8h0m1 -7h0m1 -4h0m2 24h0m3 -19h0m0 14h0m1 -11h0m0 11h0m1 -36h0m1 37h0m4 -23h0m1 -3h0m0 4h0m1 3h0m1 -2h0m1 3h0m2 -4h0m6 -14h0m3 12h0m1 -8h0m1 -7h0m0 1h0m0 4h0m2 -11h0m0 40h0m1 -38h0m1 20h0m1 -8h0m6 -10h0m1 -20h0m2 14h0m0 3h0m2 -4h0m1 -16h0m0 13h0m1 8h0m2 -19h0m1 11h0m1 -10h0m0 1h0m1 -69h0m2 43h0m0 25h0m0 8h0m1 -95h0m1 66h0m0 30h0m1 -22h0m1 -180h0m0 190h0m1 -6h0m1 6h0m1 -20h0m0 16h0m1 -68h0m0 43h0m0 16h0m0 4h0m0 4h0m0 14h0m1 -76h0m0 54h0m0 32h0m2 -72h0m0 29h0m0 27h0m2 -23h0m0 5h0m0 22h0m1 -87h0m0 26h0m0 36h0m0 6h0m1 -159h0m0 52h0m0 152h0m1 -190h0m0 86h0m1 60h0m0 8h0m1 -46h0m0 16h0m1 -14h0m0 22h0m0 24h0m1 -121h0m0 52h0m0 55h0m0 1h0m1 -75h0m1 -64h0m0 76h0m0 3h0m0 56h0m1 -83h0m0 85h0m1 -150h0m0 9h0m0 112h0m0 35h0m1 -63h0m0 8h0m0 45h0m0 12h0m1 -146h0m0 12h0m0 29h0m0 69h0m0 26h0m1 -106h0m0 6h0m0 14h0m1 -19h0m0 124h0m2 -80h0m0 56h0m1 -86h0m0 41h0m1 -91h0m0 54h0m0 23h0m0 39h0m0 4h0m0 15h0m0 23h0m1 -120h0m0 1h0m0 24h0m0 35h0m1 -26h0m0 26h0m0 4h0m0 8h0m0 19h0m0 3h0m1 -66h0m0 20h0m0 15h0m0 12h0m0 5h0m0 32h0m1 -110h0m0 88h0m1 -106h0m0 31h0m0 32h0m0 7h0m0 24h0m0 13h0m0 3h0m1 -102h0m0 41h0m0 2h0m0 54h0m0 13h0m0 1h0m1 -76h0m0 50h0m0 9h0m1 -62h0m0 35h0m0 8h0m0 32h0m0 3h0m1 -39h0m0 20h0m0 21h0m0 2h0m0 13h0m0 16h0m1 -146h0m0 42h0m0 42h0m0 6h0m0 2h0m0 10h0m0 13h0m1 -20h0m0 11h0m1 -57h0m0 33h0m1 2h0m0 10h0m0 9h0m0 43h0m1 -135h0m0 64h0m0 8h0m0 2h0m0 9h0m0 12h0m0 16h0m1 -27h0m0 19h0m0 16h0m1 -74h0m0 2h0m0 28h0m1 -22h0m0 8h0m0 16h0m0 29h0m1 -45h0m0 9h0m1 -8h0m0 5h0m0 5h0m0 10h0m0 3h0m0 13h0m0 7h0m1 -58h0m0 30h0m0 2h0m0 7h0m1 -15h0m0 7h0m0 15h0m0 16h0m1 -54h0m0 2h0m0 5h0m0 47h0m0 1h0m0 0h0m1 -68h0m0 20h0m0 13h0m0 12h0m0 1h0m0 10h0m1 -38h0m0 6h0m0 6h0m0 2h0m0 1h0m0 3h0m0 14h0m1 -61h0m0 1h0m0 17h0m0 6h0m0 9h0m0 2h0m0 7h0m0 42h0m1 -57h0m0 6h0m0 11h0m0 5h0m0 8h0m0 41h0m1 -77h0m0 22h0m0 0h0m0 5h0m0 8h0m0 9h0m0 6h0m1 -85h0m0 57h0m0 8h0m0 1h0m0 1h0m0 3h0m0 24h0m1 -60h0m0 21h0m0 0h0m0 7h0m0 0h0m0 4h0m0 1h0m0 19h0m1 -82h0m0 22h0m0 11h0m0 16h0m0 5h0m0 0h0m0 1h0m0 1h0m0 8h0m0 3h0m0 20h0m1 -72h0m0 23h0m0 3h0m0 8h0m0 4h0m0 3h0m0 1h0m0 6h0m0 1h0m1 -20h0m0 7h0m0 3h0m0 4h0m0 12h0m1 -22h0m0 4h0m0 1h0m0 5h0m0 0h0m0 11h0m0 4h0m0 3h0m1 -58h0m0 35h0m0 1h0m0 4h0m0 2h0m0 1h0m0 13h0m0 6h0m0 3h0m0 4h0m1 -72h0m0 28h0m0 3h0m0 2h0m0 2h0m0 1h0m0 4h0m0 1h0m0 3h0m0 2h0m0 5h0m0 0h0m0 7h0m1 -35h0m0 6h0m0 5h0m0 4h0m0 1h0m0 2h0m0 6h0m0 7h0m0 18h0m1 -66h0m0 10h0m0 7h0m0 4h0m0 8h0m0 2h0m0 1h0m0 0h0m0 0h0m0 1h0m0 4h0m0 1h0m0 7h0m0 5h0m0 2h0m1 -53h0m0 19h0m0 12h0m0 1h0m0 3h0m0 1h0m0 5h0m0 12h0m0 8h0m0 5h0m1 -76h0m0 33h0m0 4h0m0 2h0m0 6h0m0 4h0m0 3h0m0 5h0m0 5h0m0 1h0m0 9h0m0 6h0m0 14h0m1 -56h0m0 56h0m1 -57h0m0 9h0m0 4h0m1 -74h0m0 58h0m0 10h0m0 8h0m0 10h0m0 6h0m1 -42h0m0 29h0m0 19h0m0 7h0m0 39h0m0 5h0m1 -98h0m0 6h0m0 6h0m0 12h0m0 1h0m0 13h0m1 -34h0m0 0h0m1 -7h0m0 17h0m0 20h0m1 -52h0m0 24h0m0 11h0m0 8h0m0 60h0m1 -66h0m0 20h0m1 -13h0m1 -85h0m0 105h0m0 10h0m1 -92h0m0 70h0m0 57h0m1 -62h0m1 21h0m1 -63h0m0 21h0m0 34h0m0 4h0m1 -45h0m0 8h0m0 12h0m0 1h0m1 -55h0m0 27h0m0 8h0m0 16h0m0 13h0m1 -74h0m0 51h0m0 6h0m0 4h0m0 1h0m1 -53h0m0 60h0m1 8h0m1 -64h0m0 22h0m0 6h0m1 4h0m0 47h0m1 -94h0m0 126h0m1 -37h0m1 -44h0m1 45h0m1 -44h0m0 1h0m0 9h0m0 11h0m1 -53h0m0 77h0m1 -37h0m0 12h0m0 68h0m1 -21h0m1 -88h0m0 37h0m1 6h0m1 -10h0m0 35h0m1 -64h0m0 35h0m0 30h0m1 -62h0m1 30h0m0 30h0m2 -12h0m2 11h0m1 -96h0m2 106h0m1 2h0m1 -51h0m0 73h0m2 -57h0m0 50h0m3 -102h0m1 66h0m2 -46h0m1 -26h0m4 25h0m0 48h0m1 -59h0m1 -15h0m2 -8h0m2 47h0m1 -37h0m4 80h0m4 -69h0m3 -15h0m1 -16h0m0 6h0m0 12h0m4 -10h0m13 -6h0m10 2h0m8 -21h0m0 21h0m1 -18h0m26 226h0m12 -2h0m1 19h0m2 -20h0m1 31h0m0 3h0m2 -26h0m1 -16h0m0 9h0m0 7h0m5 0h0m0 14h0m0 11h0m0 4h0m1 -29h0m1 1h0m1 15h0m0 1h0m0 2h0m2 -19h0m0 11h0m0 19h0m1 -28h0m0 3h0m1 -20h0m0 35h0m1 -31h0m0 6h0m0 8h0m1 -11h0m0 15h0m0 13h0m1 -16h0m0 6h0m0 11h0m0 14h0m1 -43h0m0 3h0m2 9h0m0 3h0m0 8h0m1 -23h0m0 25h0m2 -22h0m0 8h0m0 22h0m1 -35h0m0 16h0m0 6h0m0 3h0m1 10h0m0 15h0m1 -34h0m0 11h0m0 2h0m0 3h0m0 4h0m0 1h0m1 -43h0m0 26h0m1 -12h0m1 38h0m1 -55h0m0 10h0m1 -11h0m0 3h0m0 13h0m0 43h0m1 -57h0m0 49h0m1 -38h0m1 9h0m0 38h0m0 15h0m1 -57h0m0 29h0m1 -49h0m0 26h0m1 -15h0m0 7h0m1 27h0m1 -29h0m0 11h0m0 9h0m1 -38h0m6 43h0m1 -25h0m2 20h0m1 -11h0m3 -34h0" stroke="#3a0c60" stroke-width="5.4" stroke-linecap="round" stroke-opacity="0.85" fill="none"/>
<path d="M747 1957h0m11 10h0m7 -14h0m0 15h0m0 1h0m3 -2h0m1 -10h0m0 16h0m1 1h0m3 -12h0m0 0h0m3 -1h0m0 8h0m1 -11h0m1 13h0m1 -1h0m3 -8h0m1 5h0m0 3h0m1 -32h0" stroke="#c01850" stroke-width="3" stroke-linecap="round" stroke-opacity="0.8" fill="none"/>
<circle cx="669" cy="2016" r="8" fill="#fff"/>
<circle cx="881" cy="1925" r="6" fill="#fff"/>
<circle cx="816" cy="1836" r="6" fill="#fff"/>
</g>
<g clip-path="url(#cq1)">
<rect x="483.2" y="2138.9" width="466.8" height="360.1" fill="#f5bb2e"/>
<rect x="483.2" y="2138.9" width="466.8" height="360.1" fill="#fff" filter="url(#srTone)"/>
<rect x="483.2" y="2138.9" width="466.8" height="360.1" fill="#fff" filter="url(#srW1)"/>
<rect x="483.2" y="2138.9" width="466.8" height="360.1" fill="#fff" filter="url(#srSpk)"/>
<g fill="#fff8ec" fill-opacity="0.9" stroke="#f0b060" stroke-opacity="0.5" stroke-width="1.2"><ellipse cx="491" cy="2375" rx="9" ry="7"/><ellipse cx="767" cy="2212" rx="10" ry="7"/><ellipse cx="788" cy="2283" rx="13" ry="12"/><ellipse cx="716" cy="2348" rx="12" ry="13"/><ellipse cx="690" cy="2157" rx="8" ry="7"/><ellipse cx="762" cy="2265" rx="10" ry="9"/><ellipse cx="758" cy="2247" rx="11" ry="11"/><ellipse cx="787" cy="2284" rx="12" ry="12"/><ellipse cx="777" cy="2225" rx="9" ry="8"/><ellipse cx="823" cy="2318" rx="8" ry="6"/><ellipse cx="797" cy="2199" rx="12" ry="12"/><ellipse cx="623" cy="2455" rx="9" ry="8"/><ellipse cx="619" cy="2448" rx="11" ry="11"/><ellipse cx="614" cy="2149" rx="10" ry="10"/><ellipse cx="507" cy="2261" rx="10" ry="9"/><ellipse cx="567" cy="2185" rx="13" ry="10"/><ellipse cx="773" cy="2477" rx="11" ry="10"/><ellipse cx="713" cy="2175" rx="13" ry="11"/><ellipse cx="702" cy="2320" rx="10" ry="10"/><ellipse cx="914" cy="2194" rx="12" ry="12"/><ellipse cx="746" cy="2222" rx="12" ry="10"/><ellipse cx="831" cy="2285" rx="8" ry="8"/><ellipse cx="940" cy="2468" rx="9" ry="9"/><ellipse cx="599" cy="2196" rx="8" ry="7"/><ellipse cx="823" cy="2300" rx="9" ry="9"/><ellipse cx="854" cy="2159" rx="8" ry="8"/><ellipse cx="700" cy="2484" rx="13" ry="13"/><ellipse cx="767" cy="2229" rx="10" ry="10"/><ellipse cx="811" cy="2468" rx="9" ry="8"/><ellipse cx="806" cy="2469" rx="8" ry="6"/><ellipse cx="621" cy="2451" rx="8" ry="6"/><ellipse cx="641" cy="2435" rx="9" ry="9"/><ellipse cx="711" cy="2264" rx="9" ry="7"/><ellipse cx="778" cy="2147" rx="9" ry="8"/><ellipse cx="866" cy="2271" rx="13" ry="11"/><ellipse cx="942" cy="2428" rx="13" ry="13"/><ellipse cx="793" cy="2161" rx="8" ry="7"/><ellipse cx="526" cy="2201" rx="13" ry="12"/><ellipse cx="708" cy="2324" rx="8" ry="8"/><ellipse cx="752" cy="2487" rx="9" ry="7"/><ellipse cx="612" cy="2166" rx="13" ry="13"/><ellipse cx="790" cy="2205" rx="12" ry="9"/><ellipse cx="859" cy="2421" rx="10" ry="11"/><ellipse cx="790" cy="2321" rx="11" ry="9"/><ellipse cx="527" cy="2193" rx="13" ry="11"/><ellipse cx="765" cy="2302" rx="13" ry="12"/><ellipse cx="727" cy="2364" rx="11" ry="9"/><ellipse cx="710" cy="2225" rx="13" ry="10"/><ellipse cx="568" cy="2387" rx="9" ry="7"/><ellipse cx="697" cy="2385" rx="11" ry="9"/><ellipse cx="632" cy="2266" rx="13" ry="10"/><ellipse cx="636" cy="2238" rx="13" ry="11"/><ellipse cx="714" cy="2423" rx="8" ry="6"/><ellipse cx="857" cy="2457" rx="10" ry="10"/><ellipse cx="555" cy="2178" rx="13" ry="13"/><ellipse cx="659" cy="2264" rx="12" ry="13"/><ellipse cx="714" cy="2285" rx="11" ry="9"/><ellipse cx="743" cy="2324" rx="10" ry="11"/><ellipse cx="828" cy="2192" rx="8" ry="7"/><ellipse cx="630" cy="2396" rx="9" ry="8"/><ellipse cx="937" cy="2213" rx="12" ry="13"/><ellipse cx="494" cy="2339" rx="13" ry="12"/><ellipse cx="842" cy="2490" rx="12" ry="12"/><ellipse cx="665" cy="2190" rx="11" ry="11"/><ellipse cx="539" cy="2215" rx="8" ry="6"/><ellipse cx="801" cy="2445" rx="10" ry="7"/><ellipse cx="533" cy="2177" rx="11" ry="9"/><ellipse cx="670" cy="2201" rx="10" ry="7"/><ellipse cx="527" cy="2350" rx="8" ry="8"/><ellipse cx="859" cy="2491" rx="11" ry="9"/><ellipse cx="828" cy="2269" rx="11" ry="10"/><ellipse cx="669" cy="2214" rx="12" ry="11"/><ellipse cx="930" cy="2457" rx="12" ry="12"/><ellipse cx="755" cy="2194" rx="12" ry="12"/><ellipse cx="695" cy="2222" rx="12" ry="12"/><ellipse cx="611" cy="2207" rx="9" ry="8"/><ellipse cx="492" cy="2177" rx="9" ry="7"/><ellipse cx="714" cy="2488" rx="10" ry="8"/><ellipse cx="871" cy="2486" rx="12" ry="12"/><ellipse cx="855" cy="2438" rx="13" ry="11"/></g>
<path d="M491 2399h0m1 -173h0m1 -44h0m3 174h0m1 88h0m3 -82h0m4 -10h0m1 79h0m5 66h0m2 -95h0m1 -139h0m3 -39h0m2 -21h0m1 24h0m3 -15h0m1 -30h0m1 33h0m3 132h0m0 70h0m1 -229h0m0 30h0m6 186h0m6 -246h0m3 329h0m8 -85h0m4 -99h0m1 184h0m3 -292h0m2 2h0m2 204h0m1 -74h0m1 82h0m2 -206h0m2 66h0m5 -73h0m1 172h0m5 -198h0m2 70h0m1 215h0m1 -279h0m1 288h0m3 16h0m0 9h0m1 -253h0m1 208h0m1 -263h0m1 39h0m5 240h0m1 -249h0m4 6h0m0 120h0m2 -36h0m2 80h0m1 -232h0m0 83h0m3 115h0m2 -60h0m0 183h0m5 -196h0m1 213h0m1 -67h0m1 -93h0m3 23h0m1 -142h0m1 -12h0m1 231h0m2 -180h0m3 -81h0m1 229h0m1 2h0m1 -114h0m1 125h0m3 -226h0m0 141h0m0 113h0m0 44h0m6 9h0m1 -182h0m1 -119h0m1 3h0m0 172h0m2 97h0m1 -240h0m3 151h0m1 -210h0m0 155h0m0 68h0m1 -209h0m0 163h0m1 -14h0m3 -21h0m1 -34h0m1 -113h0m2 258h0m4 -229h0m1 204h0m1 -189h0m1 242h0m1 -242h0m0 86h0m2 -132h0m3 49h0m2 203h0m6 -242h0m2 299h0m2 -262h0m1 69h0m13 127h0m11 -69h0m3 38h0m1 -160h0m6 227h0m0 11h0m2 -36h0m7 -112h0m0 121h0m1 -44h0m2 47h0m1 -38h0m1 -11h0m4 32h0m1 -47h0m4 -178h0m1 307h0m2 -207h0m3 37h0m2 3h0m5 15h0m3 -16h0m0 9h0m1 64h0m5 -108h0m0 24h0m3 -99h0m3 144h0m3 124h0m1 -160h0m0 97h0m3 -16h0m1 -41h0m1 -104h0m3 51h0m5 -158h0m0 134h0m4 92h0m5 -69h0m2 8h0m0 175h0m5 -272h0m4 178h0m1 -164h0m3 -54h0m1 61h0m11 66h0m3 -89h0m1 254h0m7 -268h0m2 54h0m2 -98h0m0 61h0m0 161h0m1 -98h0m1 -76h0m5 172h0m1 35h0m1 59h0m1 -40h0m1 -239h0m2 291h0m3 -295h0m1 -19h0m0 158h0m0 31h0m0 120h0m7 -242h0m1 -18h0m0 136h0m1 -105h0m0 7h0m4 194h0m1 -104h0m1 -4h0m0 92h0m2 -72h0m1 9h0m3 -153h0m0 180h0m2 -147h0m3 -25h0m1 119h0m6 -129h0m0 40h0m5 154h0m2 -109h0m1 195h0m1 -318h0m0 180h0m2 -61h0m1 -137h0m2 327h0m4 -104h0m3 1h0m5 -119h0m0 13h0m4 -133h0m0 218h0m3 -69h0m0 54h0m1 -141h0m2 -13h0m0 297h0m9 -137h0m3 58h0m2 -265h0m1 3h0m0 100h0m0 164h0m0 79h0m5 -40h0m2 -49h0" stroke="#ee8a26" stroke-width="7.5" stroke-linecap="round" stroke-opacity="0.6" fill="none"/>
<path d="M691.5 2290.8 L689.5 2284.1 L686.5 2282.5 L683.8 2277.2 L682.8 2274.2 L677.2 2272.7 L675.1 2265.7 L675.9 2263.1 L672.4 2260.5 L672.3 2256.2 L674.3 2252.2 L670.2 2248.2 L668.7 2243.9 L668.6 2236.7 L667 2232.6 L668.4 2230.9 L667.3 2225.5 L666.6 2219.9 L665.5 2219.3 L662.6 2213 L661.7 2210.9 L664 2203.4 L662.1 2199.9 L658.3 2195.7 L658.7 2192.2 L655.4 2189.7 L654.5 2187.1 L653.7 2184.6 L649.3 2181 L648.8 2177.4 L646.2 2172.2 L647.6 2169.4 L644.1 2165.9 L645 2161.5 L642 2157.4 L639.6 2152.7 L637.9 2150 L634.4 2146.1 L634.5 2144.6 L630.3 2143.2 L625 2140" fill="none" stroke="#e3202c" stroke-width="4.5" stroke-linejoin="round" stroke-linecap="round" stroke-opacity="0.9"/>
<path d="M673 2257l10 -1M630 2143l-3 16M626 2141l10 11M685 2281l-6 -3M677 2270l4 12M669 2236l-5 -15M672 2251l0 -11" stroke="#e3202c" stroke-width="2.2" stroke-opacity="0.75" fill="none"/>
<path d="M703.2 2356.4 L700.4 2357.9 L698.5 2362.1 L699.5 2365.7 L696.8 2369.2 L693.6 2371.7 L689 2376.5 L687 2380.7 L684.3 2382.2 L683.8 2385.7 L679.2 2390.2 L677.6 2394.7 L677.6 2394.4 L671.8 2397.6 L670.6 2402.4 L669.6 2405.9 L666.3 2410.5 L665.9 2410.7 L661.5 2415.1 L659.7 2420 L654.8 2420 L651.4 2423.7 L649.2 2424.8 L642.7 2429.5 L641 2430.2 L634.6 2433 L631 2432.9 L629.2 2438.7 L627.8 2441.3 L623.1 2441.8 L618.3 2442.9 L616.1 2446.7 L612.5 2451.3 L611 2454.5 L608.2 2455.2 L605.2 2459.7 L599.9 2458.5 L597.2 2464 L595.4 2467 L591.8 2466.6 L587.6 2469.9 L583.8 2475.2 L581.2 2476.9 L581.5 2477.9 L577.9 2482.3 L572.5 2484.3 L569.7 2486.4 L565.6 2491.4 L567 2493.4 L564.4 2498.2 L560 2500" fill="none" stroke="#e3202c" stroke-width="4" stroke-linejoin="round" stroke-linecap="round" stroke-opacity="0.9"/>
<path d="M634 2434l2 -13M630 2436l-4 -6M560 2499l4 6M611 2451l2 -8M561 2498l1 6M572 2485l6 0M643 2427l-3 -6M560 2499l-9 11M564 2494l-4 5" stroke="#e3202c" stroke-width="2" stroke-opacity="0.75" fill="none"/>
<path d="M790.7 2326.7 L794 2326.2 L801.1 2326.1 L803.6 2329.9 L808.3 2329.6 L812.4 2328.6 L816.4 2326.1 L821.1 2323.6 L824.1 2324.3 L826 2323.6 L831 2321.8 L834.9 2318.7 L837.6 2319.4 L845.1 2318.1 L848.5 2314.1 L850.8 2315.3 L853.8 2311.3 L858.6 2312.7 L863.4 2311 L865.3 2306.5 L869.5 2305.6 L872 2305.6 L875.9 2304.2 L879.7 2298.9 L885.6 2297.9 L888.6 2297.7 L889.8 2298 L893.3 2296.1 L899.6 2292.2 L903.2 2290.9 L905 2288.4 L908.9 2289.2 L914.4 2286.9 L919.7 2286.3 L923.8 2281.7 L927.5 2280.5 L930 2280" fill="none" stroke="#e3202c" stroke-width="2.5" stroke-linejoin="round" stroke-linecap="round" stroke-opacity="0.9"/>
<path d="M835 2319l13 1M790 2325l10 -9M890 2296l3 -8M798 2328l0 13M912 2287l1 -6M877 2302l-13 6" stroke="#e3202c" stroke-width="1.2" stroke-opacity="0.75" fill="none"/>
<path d="M778.5 2349.9 L783.6 2352.5 L784.4 2359.1 L787.5 2361.9 L791.2 2365.3 L789.1 2366.7 L791.5 2371.8 L790.3 2375.8 L792.1 2379.1 L790.2 2387.7 L790.4 2388.9 L791.4 2393.9 L790 2399.9 L788.5 2401.8 L788.1 2407.6 L788.9 2411.3 L791.4 2417.4 L789.6 2421.6 L794.3 2422.1 L795.9 2427.9 L798.3 2430.8 L799.6 2436.9 L800 2440" fill="none" stroke="#e3202c" stroke-width="3.5" stroke-linejoin="round" stroke-linecap="round" stroke-opacity="0.9"/>
<path d="M787 2360l12 -2M790 2365l-1 7M790 2393l-7 -12M790 2416l16 2" stroke="#e3202c" stroke-width="1.8" stroke-opacity="0.75" fill="none"/>
<path d="M650.3 2150.3 L644.8 2152.2 L643.8 2150.2 L637 2151.6 L632.3 2150.1 L629.4 2150.6 L623.8 2154.6 L622.8 2151.8 L618.3 2154.3 L614.6 2154.3 L610.7 2152.8 L603.5 2155.3 L599.3 2154.3 L597.9 2156.9 L591.5 2156.5 L586.5 2156.5 L586.3 2158.9 L578.4 2158 L574.9 2156.6 L574.2 2160.3 L566.2 2159.5 L564.6 2157.3 L560.1 2159.4 L554.9 2162.2 L552.3 2165.3 L549.8 2165.6 L548.5 2170.8 L542.1 2171.8 L538.2 2176 L536.1 2179.2 L532.6 2180 L529.3 2180.8 L526 2186.9 L522.3 2188.9 L520 2190" fill="none" stroke="#e3202c" stroke-width="1.6" stroke-linejoin="round" stroke-linecap="round" stroke-opacity="0.9"/>
<path d="M606 2154l-4 -16M558 2161l-6 5M573 2158l11 9M529 2183l3 4M558 2161l0 6M554 2164l10 -3" stroke="#e3202c" stroke-width="1" stroke-opacity="0.75" fill="none"/>
<path d="M818.9 2395.3 L823.3 2397.2 L826.7 2400.1 L832.9 2400.6 L833.8 2399.4 L840.7 2403.2 L843.4 2406.1 L845.3 2405.6 L851.1 2407.2 L855.9 2410.9 L859.2 2409.3 L859.5 2413.4 L865.1 2413.6 L868.6 2416 L871 2416.7 L876.7 2417 L880 2418.8 L885.3 2423.3 L887.2 2421.7 L890.7 2423.1 L895.2 2426 L899.1 2425.4 L905.1 2427.8 L906.2 2431.4 L910.4 2428.6 L914 2432.4 L921.3 2431.8 L923.7 2432.5 L929.2 2436.7 L931.2 2437.4 L936.9 2437.6 L940 2440" fill="none" stroke="#e3202c" stroke-width="1.6" stroke-linejoin="round" stroke-linecap="round" stroke-opacity="0.9"/>
<path d="M931 2437l-4 8M861 2412l-16 -5M824 2396l6 11M871 2416l6 6M881 2420l5 10" stroke="#e3202c" stroke-width="1" stroke-opacity="0.75" fill="none"/>
<path d="M698.3 2298.3C699.7 2289.4 708.1 2286.2 716.7 2283.3C725.3 2280.4 741.7 2279.7 750 2280.8C758.3 2281.9 759.5 2284.6 766.7 2290C773.9 2295.4 789.1 2306.1 793.3 2313.3C797.5 2320.5 796.1 2327.2 791.7 2333.3C787.3 2339.4 775.9 2344.4 766.7 2350C757.5 2355.6 745 2365.3 736.7 2366.7C728.4 2368.1 721.4 2363.3 716.7 2358.3C712 2353.3 711.4 2346.7 708.3 2336.7C705.2 2326.7 696.9 2307.2 698.3 2298.3Z" fill="#e3202c" stroke="#e3202c" stroke-width="24" stroke-linejoin="round"/>
<path d="M667 2322h0m2 16h0m2 -14h0m1 -12h0m1 23h0m1 -26h0m0 31h0m1 -13h0m1 -23h0m0 24h0m0 4h0m1 -12h0m0 8h0m0 7h0m1 -3h0m1 -23h0m0 2h0m0 24h0m1 -32h0m0 3h0m0 8h0m0 19h0m2 -40h0m0 12h0m0 3h0m0 32h0m1 -40h0m0 49h0m0 6h0m1 -17h0m0 12h0m1 -10h0m0 4h0m1 3h0m1 -54h0m1 50h0m1 -43h0m0 52h0m2 -51h0m0 50h0m1 3h0m1 -56h0m0 52h0m0 13h0m2 -8h0m0 27h0m2 -28h0m1 9h0m2 -70h0m0 3h0m0 58h0m1 -71h0m1 83h0m1 -97h0m0 13h0m0 90h0m1 -86h0m0 72h0m1 -77h0m0 86h0m2 3h0m1 2h0m1 1h0m1 -104h0m0 1h0m2 100h0m0 0h0m1 -96h0m1 1h0m0 98h0m1 -1h0m1 14h0m1 -114h0m0 102h0m0 1h0m1 -104h0m0 107h0m1 -124h0m0 124h0m1 -2h0m2 -113h0m0 7h0m1 117h0m2 -6h0m1 -118h0m0 1h0m6 3h0m0 111h0m0 4h0m2 -115h0m1 113h0m4 -113h0m0 0h0m0 111h0m0 5h0m0 1h0m2 -116h0m3 0h0m0 1h0m0 116h0m3 -124h0m1 115h0m0 3h0m1 -112h0m0 2h0m1 -12h0m0 3h0m0 6h0m0 114h0m1 -118h0m1 113h0m2 1h0m0 4h0m1 -6h0m2 -107h0m1 7h0m0 112h0m1 -10h0m2 -101h0m1 -2h0m0 3h0m2 2h0m1 -8h0m0 7h0m0 1h0m1 -5h0m0 95h0m1 -104h0m0 117h0m1 -108h0m0 3h0m2 1h0m0 0h0m0 98h0m1 -104h0m0 100h0m0 2h0m1 -101h0m0 96h0m1 -91h0m0 91h0m0 1h0m0 8h0m2 -108h0m0 108h0m5 -6h0m1 5h0m1 -98h0m1 96h0m1 -7h0m0 9h0m2 -4h0m0 6h0m1 -106h0m0 7h0m0 93h0m1 -7h0m0 2h0m0 6h0m2 -93h0m0 85h0m0 4h0m0 1h0m0 1h0m1 -7h0m0 4h0m1 -96h0m0 3h0m2 91h0m1 -81h0m0 76h0m0 7h0m1 -82h0m2 -6h0m1 78h0m1 -70h0m1 69h0m0 2h0m1 -2h0m1 -2h0m0 14h0m1 -79h0m0 3h0m0 3h0m0 31h0m0 30h0m1 -81h0m0 53h0m0 35h0m1 -70h0m0 4h0m0 20h0m0 1h0m0 28h0m1 -45h0m0 4h0m0 11h0m0 15h0m0 31h0m1 -63h0m0 3h0m0 11h0m0 16h0m0 4h0m1 -37h0m1 -1h0m0 3h0m0 18h0m0 12h0m0 27h0m1 -36h0m1 -34h0m0 28h0m0 46h0m1 -27h0m1 10h0m1 -10h0m1 19h0m1 -56h0m1 14h0" stroke="#e3202c" stroke-width="7" stroke-linecap="round" stroke-opacity="0.75" fill="none"/>
<circle cx="676" cy="2195" r="11" fill="#fff7ea" fill-opacity="0.95" stroke="#e8501e" stroke-opacity="0.5" stroke-width="1.5"/>
<circle cx="646" cy="2190" r="10" fill="#fff7ea" fill-opacity="0.95" stroke="#e8501e" stroke-opacity="0.5" stroke-width="1.5"/>
<circle cx="668" cy="2160" r="9" fill="#fff7ea" fill-opacity="0.95" stroke="#e8501e" stroke-opacity="0.5" stroke-width="1.5"/>
<circle cx="706" cy="2226" r="10" fill="#fff7ea" fill-opacity="0.95" stroke="#e8501e" stroke-opacity="0.5" stroke-width="1.5"/>
<circle cx="768" cy="2262" r="11" fill="#fff7ea" fill-opacity="0.95" stroke="#e8501e" stroke-opacity="0.5" stroke-width="1.5"/>
<circle cx="810" cy="2280" r="11" fill="#fff7ea" fill-opacity="0.95" stroke="#e8501e" stroke-opacity="0.5" stroke-width="1.5"/>
<circle cx="830" cy="2318" r="12" fill="#fff7ea" fill-opacity="0.95" stroke="#e8501e" stroke-opacity="0.5" stroke-width="1.5"/>
<circle cx="818" cy="2300" r="9" fill="#fff7ea" fill-opacity="0.95" stroke="#e8501e" stroke-opacity="0.5" stroke-width="1.5"/>
<circle cx="680" cy="2280" r="12" fill="#fff7ea" fill-opacity="0.95" stroke="#e8501e" stroke-opacity="0.5" stroke-width="1.5"/>
<circle cx="672" cy="2308" r="11" fill="#fff7ea" fill-opacity="0.95" stroke="#e8501e" stroke-opacity="0.5" stroke-width="1.5"/>
<circle cx="700" cy="2395" r="11" fill="#fff7ea" fill-opacity="0.95" stroke="#e8501e" stroke-opacity="0.5" stroke-width="1.5"/>
<circle cx="652" cy="2400" r="9" fill="#fff7ea" fill-opacity="0.95" stroke="#e8501e" stroke-opacity="0.5" stroke-width="1.5"/>
<circle cx="722" cy="2404" r="10" fill="#fff7ea" fill-opacity="0.95" stroke="#e8501e" stroke-opacity="0.5" stroke-width="1.5"/>
<circle cx="760" cy="2410" r="9" fill="#fff7ea" fill-opacity="0.95" stroke="#e8501e" stroke-opacity="0.5" stroke-width="1.5"/>
<circle cx="790" cy="2385" r="10" fill="#fff7ea" fill-opacity="0.95" stroke="#e8501e" stroke-opacity="0.5" stroke-width="1.5"/>
<circle cx="580" cy="2160" r="12" fill="#fff7ea" fill-opacity="0.95" stroke="#e8501e" stroke-opacity="0.5" stroke-width="1.5"/>
<circle cx="560" cy="2190" r="11" fill="#fff7ea" fill-opacity="0.95" stroke="#e8501e" stroke-opacity="0.5" stroke-width="1.5"/>
<circle cx="610" cy="2175" r="10" fill="#fff7ea" fill-opacity="0.95" stroke="#e8501e" stroke-opacity="0.5" stroke-width="1.5"/>
<circle cx="870" cy="2160" r="10" fill="#fff7ea" fill-opacity="0.95" stroke="#e8501e" stroke-opacity="0.5" stroke-width="1.5"/>
<circle cx="900" cy="2175" r="9" fill="#fff7ea" fill-opacity="0.95" stroke="#e8501e" stroke-opacity="0.5" stroke-width="1.5"/>
<circle cx="590" cy="2470" r="12" fill="#fff7ea" fill-opacity="0.95" stroke="#e8501e" stroke-opacity="0.5" stroke-width="1.5"/>
<circle cx="620" cy="2480" r="10" fill="#fff7ea" fill-opacity="0.95" stroke="#e8501e" stroke-opacity="0.5" stroke-width="1.5"/>
<circle cx="800" cy="2250" r="9" fill="#fff7ea" fill-opacity="0.95" stroke="#e8501e" stroke-opacity="0.5" stroke-width="1.5"/>
<circle cx="690" cy="2250" r="10" fill="#fff7ea" fill-opacity="0.95" stroke="#e8501e" stroke-opacity="0.5" stroke-width="1.5"/>
<path d="M698.3 2298.3C699.7 2289.4 708.1 2286.2 716.7 2283.3C725.3 2280.4 741.7 2279.7 750 2280.8C758.3 2281.9 759.5 2284.6 766.7 2290C773.9 2295.4 789.1 2306.1 793.3 2313.3C797.5 2320.5 796.1 2327.2 791.7 2333.3C787.3 2339.4 775.9 2344.4 766.7 2350C757.5 2355.6 745 2365.3 736.7 2366.7C728.4 2368.1 721.4 2363.3 716.7 2358.3C712 2353.3 711.4 2346.7 708.3 2336.7C705.2 2326.7 696.9 2307.2 698.3 2298.3Z" fill="#fffdf8"/>
<path d="M733 2303h0m4 22h0m15 13h0" stroke="#c8a030" stroke-width="3" stroke-linecap="round" stroke-opacity="0.8" fill="none"/>
<circle cx="500" cy="2307" r="14" fill="#eedd30" stroke=" stroke="#e05030" stroke-width="2"" stroke-width="2"/>
</g>
<g clip-path="url(#cp2)">
<rect x="958.2" y="1769.2" width="466.5" height="359.6" fill="#d63bd0"/>
<rect x="958.2" y="1769.2" width="466.5" height="359.6" fill="#fff" filter="url(#heTone)"/>
<rect x="958.2" y="1769.2" width="466.5" height="359.6" fill="#fff" filter="url(#heNet)" opacity="0.4"/>
<g fill="#eeaeea" fill-opacity="0.7"><ellipse cx="1334" cy="1980" rx="11" ry="11"/><ellipse cx="1285" cy="2105" rx="12" ry="10"/><ellipse cx="1173" cy="1805" rx="12" ry="11"/><ellipse cx="1344" cy="1984" rx="12" ry="11"/><ellipse cx="1352" cy="2087" rx="9" ry="8"/><ellipse cx="1291" cy="1882" rx="12" ry="10"/><ellipse cx="1287" cy="2020" rx="10" ry="10"/><ellipse cx="975" cy="1802" rx="12" ry="10"/><ellipse cx="1007" cy="2020" rx="9" ry="9"/><ellipse cx="995" cy="2107" rx="9" ry="6"/><ellipse cx="1087" cy="1916" rx="8" ry="7"/><ellipse cx="1003" cy="1821" rx="12" ry="12"/><ellipse cx="1229" cy="2105" rx="9" ry="7"/><ellipse cx="963" cy="1813" rx="11" ry="9"/><ellipse cx="978" cy="1910" rx="12" ry="13"/><ellipse cx="1054" cy="2096" rx="9" ry="7"/><ellipse cx="1321" cy="1867" rx="8" ry="9"/><ellipse cx="1368" cy="1780" rx="9" ry="9"/></g>
<rect x="958.2" y="1769.2" width="466.5" height="359.6" fill="#fff" filter="url(#heW2)"/>
<path d="M969 2010h0m11 92h0m5 -278h0m16 -50h0m1 46h0m5 -47h0m2 322h0m2 -226h0m19 249h0m3 -231h0m2 -32h0m13 73h0m3 -72h0m8 201h0m3 -9h0m19 -83h0m12 78h0m13 -264h0m7 303h0m4 -212h0m1 52h0m4 204h0m13 -244h0m5 -29h0m3 184h0m2 -159h0m2 194h0m6 -256h0m0 103h0m9 169h0m12 -298h0m2 330h0m1 -284h0m1 52h0m16 -44h0m0 237h0m1 -157h0m3 -155h0m6 149h0m11 -31h0m6 230h0m9 -187h0m1 -142h0m7 6h0m6 163h0m1 -90h0m2 178h0m8 -226h0m8 105h0m22 -61h0m3 168h0m4 -120h0m8 -117h0m13 143h0m8 -95h0m2 215h0m7 -89h0m31 -183h0m16 72h0m13 81h0m1 -96h0m1 -41h0m2 313h0m14 -60h0m5 -218h0m2 140h0m2 15h0" stroke="#fdf2fc" stroke-width="2.6" stroke-linecap="round" stroke-opacity="0.92" fill="none"/>
<path d="M969 2033h0m5 -49h0m29 42h0m13 91h0m4 -225h0m3 38h0m3 170h0m1 -297h0m0 3h0m4 183h0m2 -18h0m4 -127h0m1 143h0m10 -131h0m1 -18h0m14 138h0m2 -90h0m13 -27h0m3 69h0m7 49h0m0 89h0m4 -285h0m1 295h0m1 -229h0m6 -3h0m6 228h0m18 -212h0m5 -13h0m3 -18h0m19 27h0m15 -73h0m12 77h0m10 22h0m11 98h0m3 63h0m5 -239h0m21 -29h0m9 13h0m0 86h0m11 73h0m36 -30h0m13 52h0m6 27h0m2 -225h0m3 25h0m6 225h0m31 -216h0m34 59h0m8 143h0m8 -136h0m17 -71h0m4 87h0" stroke="#fdf2fc" stroke-width="3.6" stroke-linecap="round" stroke-opacity="0.92" fill="none"/>
<path d="M966 2123h0m41 -263h0m19 106h0m8 104h0m11 -173h0m19 -79h0m86 254h0m12 -220h0m10 13h0m4 -13h0m25 75h0m5 139h0m13 -158h0m8 150h0m10 -109h0m38 -108h0m35 26h0m3 -7h0m12 -7h0m21 10h0m37 185h0m7 -162h0m18 -78h0m7 48h0" stroke="#fdf2fc" stroke-width="5.0" stroke-linecap="round" stroke-opacity="0.92" fill="none"/>
<path d="M1070 2021h0m35 -21h0m46 -185h0m4 268h0m93 -229h0m20 212h0m142 -77h0" stroke="#fdf2fc" stroke-width="6.5" stroke-linecap="round" stroke-opacity="0.92" fill="none"/>
<path d="M958 1859h0m2 190h0m2 -110h0m3 34h0m5 -167h0m0 263h0m6 8h0m4 -280h0m0 235h0m2 -5h0m1 -146h0m2 90h0m2 125h0m4 -276h0m1 271h0m8 -231h0m1 267h0m4 -170h0m2 21h0m2 -63h0m0 208h0m1 -197h0m3 -51h0m0 184h0m1 -92h0m1 134h0m2 -131h0m1 93h0m3 -44h0m2 -112h0m1 -32h0m1 -58h0m1 -24h0m1 118h0m0 204h0m3 -345h0m5 72h0m0 132h0m0 82h0m0 69h0m5 -337h0m1 53h0m2 159h0m7 -224h0m2 205h0m7 -111h0m2 48h0m0 139h0m1 -239h0m1 19h0m1 137h0m3 -122h0m2 -72h0m0 96h0m1 224h0m5 -266h0m0 135h0m2 -32h0m2 -161h0m4 348h0m4 -151h0m2 -122h0m5 207h0m2 -141h0m1 41h0m4 161h0m16 -93h0m0 29h0m1 48h0m7 -101h0m6 109h0m4 -173h0m1 -163h0m2 26h0m3 132h0m4 49h0m3 -203h0m3 296h0m1 -270h0m1 175h0m0 47h0m1 -129h0m5 80h0m0 16h0m4 -128h0m0 150h0m1 -97h0m4 -111h0m2 86h0m0 50h0m0 155h0m3 -28h0m1 -245h0m2 -7h0m0 69h0m1 188h0m8 -221h0m0 251h0m3 -132h0m1 87h0m0 17h0m1 -197h0m0 7h0m0 215h0m1 -291h0m6 284h0m2 -110h0m1 -99h0m1 105h0m2 -116h0m1 159h0m1 -116h0m5 69h0m0 119h0m2 2h0m1 -139h0m1 49h0m4 -91h0m2 174h0m2 -35h0m1 -46h0m9 25h0m5 -211h0m1 197h0m1 -20h0m2 -114h0m2 77h0m1 -196h0m0 56h0m0 156h0m0 62h0m1 24h0m0 3h0m10 -248h0m0 269h0m4 -87h0m1 -223h0m1 -8h0m4 122h0m0 118h0m2 -60h0m5 -119h0m1 135h0m3 -57h0m0 135h0m2 -70h0m2 116h0m3 -325h0m2 274h0m2 -9h0m6 -98h0m1 -99h0m0 11h0m1 16h0m8 -45h0m1 -11h0m3 10h0m3 43h0m0 58h0m1 -128h0m0 178h0m2 -159h0m2 294h0m2 -88h0m2 -238h0m0 145h0m4 4h0m0 40h0m2 28h0m0 110h0m1 -137h0m1 2h0m0 29h0m3 43h0m1 -5h0m1 -270h0m0 200h0m0 13h0m1 -176h0m0 70h0m2 189h0m5 -103h0m7 -30h0m4 -148h0m4 93h0m2 233h0m1 -162h0m0 80h0m1 -37h0m1 40h0m9 -252h0m0 150h0m2 -84h0m1 101h0m5 -102h0m1 243h0m3 -52h0m0 54h0m1 -220h0m1 -50h0m2 252h0m5 -161h0m3 -69h0m0 206h0m1 -119h0m4 -118h0m0 99h0m0 169h0m1 -42h0m0 53h0m4 -184h0m0 39h0m1 -67h0m0 195h0m1 -43h0m2 -184h0m4 -68h0m0 271h0m6 10h0m3 -137h0m1 15h0" stroke="#6e3298" stroke-width="11" stroke-linecap="round" stroke-opacity="0.6" fill="none"/>
<path d="M958 1859h0m2 190h0m2 -110h0m3 34h0m5 -167h0m0 263h0m6 8h0m4 -280h0m0 235h0m2 -5h0m1 -146h0m2 90h0m2 125h0m4 -276h0m1 271h0m8 -231h0m1 267h0m4 -170h0m2 21h0m2 -63h0m0 208h0m1 -197h0m3 -51h0m0 184h0m1 -92h0m1 134h0m2 -131h0m1 93h0m3 -44h0m2 -112h0m1 -32h0m1 -58h0m1 -24h0m1 118h0m0 204h0m3 -345h0m5 72h0m0 132h0m0 82h0m0 69h0m5 -337h0m1 53h0m2 159h0m7 -224h0m2 205h0m7 -111h0m2 48h0m0 139h0m1 -239h0m1 19h0m1 137h0m3 -122h0m2 -72h0m0 96h0m1 224h0m5 -266h0m0 135h0m2 -32h0m2 -161h0m4 348h0m4 -151h0m2 -122h0m5 207h0m2 -141h0m1 41h0m4 161h0m16 -93h0m0 29h0m1 48h0m7 -101h0m6 109h0m4 -173h0m1 -163h0m2 26h0m3 132h0m4 49h0m3 -203h0m3 296h0m1 -270h0m1 175h0m0 47h0m1 -129h0m5 80h0m0 16h0m4 -128h0m0 150h0m1 -97h0m4 -111h0m2 86h0m0 50h0m0 155h0m3 -28h0m1 -245h0m2 -7h0m0 69h0m1 188h0m8 -221h0m0 251h0m3 -132h0m1 87h0m0 17h0m1 -197h0m0 7h0m0 215h0m1 -291h0m6 284h0m2 -110h0m1 -99h0m1 105h0m2 -116h0m1 159h0m1 -116h0m5 69h0m0 119h0m2 2h0m1 -139h0m1 49h0m4 -91h0m2 174h0m2 -35h0m1 -46h0m9 25h0m5 -211h0m1 197h0m1 -20h0m2 -114h0m2 77h0m1 -196h0m0 56h0m0 156h0m0 62h0m1 24h0m0 3h0m10 -248h0m0 269h0m4 -87h0m1 -223h0m1 -8h0m4 122h0m0 118h0m2 -60h0m5 -119h0m1 135h0m3 -57h0m0 135h0m2 -70h0m2 116h0m3 -325h0m2 274h0m2 -9h0m6 -98h0m1 -99h0m0 11h0m1 16h0m8 -45h0m1 -11h0m3 10h0m3 43h0m0 58h0m1 -128h0m0 178h0m2 -159h0m2 294h0m2 -88h0m2 -238h0m0 145h0m4 4h0m0 40h0m2 28h0m0 110h0m1 -137h0m1 2h0m0 29h0m3 43h0m1 -5h0m1 -270h0m0 200h0m0 13h0m1 -176h0m0 70h0m2 189h0m5 -103h0m7 -30h0m4 -148h0m4 93h0m2 233h0m1 -162h0m0 80h0m1 -37h0m1 40h0m9 -252h0m0 150h0m2 -84h0m1 101h0m5 -102h0m1 243h0m3 -52h0m0 54h0m1 -220h0m1 -50h0m2 252h0m5 -161h0m3 -69h0m0 206h0m1 -119h0m4 -118h0m0 99h0m0 169h0m1 -42h0m0 53h0m4 -184h0m0 39h0m1 -67h0m0 195h0m1 -43h0m2 -184h0m4 -68h0m0 271h0m6 10h0m3 -137h0m1 15h0" stroke="#9a58c4" stroke-width="7" stroke-linecap="round" stroke-opacity="0.55" fill="none"/>
<path d="M959 1995h0m1 -70h0m4 125h0m9 65h0m1 6h0m6 -218h0m2 39h0m0 13h0m3 7h0m0 78h0m1 -26h0m9 -11h0m2 -103h0m2 -73h0m1 -2h0m3 5h0m7 164h0m3 -155h0m3 133h0m15 -91h0m6 68h0m6 -143h0m5 184h0m5 64h0m3 -169h0m2 160h0m2 -110h0m3 6h0m3 -94h0m4 133h0m4 88h0m3 46h0m1 -221h0m2 -83h0m5 106h0m2 173h0m1 13h0m6 -138h0m6 98h0m2 -271h0m0 299h0m1 -163h0m6 185h0m8 -338h0m5 190h0m6 -109h0m14 191h0m4 -101h0m1 -142h0m0 99h0m7 0h0m1 -3h0m5 153h0m0 15h0m1 -157h0m3 -99h0m2 253h0m2 -222h0m0 259h0m1 -327h0m0 130h0m6 15h0m4 -16h0m2 -117h0m0 185h0m11 132h0m5 -323h0m15 192h0m5 99h0m6 -224h0m12 98h0m4 92h0m7 -219h0m8 -19h0m9 270h0m3 -54h0m14 -32h0m5 -141h0m3 230h0m1 11h0m1 -168h0m5 69h0m4 -15h0m2 82h0m4 39h0m3 -92h0m4 28h0m3 -178h0m0 58h0m8 175h0m0 42h0m3 -157h0m10 -99h0m7 -93h0m0 299h0m2 -256h0m1 -32h0m9 35h0m6 16h0m8 105h0m1 -140h0m5 221h0m1 -81h0m2 -128h0m2 -41h0m0 262h0m1 -197h0m0 234h0m5 -165h0m5 -121h0m1 38h0m4 17h0m0 5h0m0 245h0m1 -48h0m10 -27h0m2 -137h0m3 -42h0m5 222h0" stroke="#4e1a7c" stroke-width="5.5" stroke-linecap="round" stroke-opacity="0.7" fill="none"/>
<path d="M1266.3 1960C1269.4 1953.7 1274.9 1949.2 1280.6 1947.6C1286.3 1946 1296.6 1947.4 1300.6 1950.4C1304.6 1953.4 1305.8 1959.8 1304.4 1965.7C1303 1971.6 1296.9 1980.8 1292 1985.7C1287.1 1990.6 1279.9 1995.3 1274.9 1995.3C1269.9 1995.3 1263.4 1991.6 1262 1985.7C1260.6 1979.8 1263.2 1966.3 1266.3 1960Z" fill="#fdf5fd"/>
<path d="M1083 1962 L1080 1978 L1090 1993" fill="none" stroke="#fdf0fd" stroke-width="4" stroke-linejoin="round" stroke-linecap="round"/>
<circle cx="1023" cy="1898" r="5" fill="#fdf0fd"/>
</g>
<g clip-path="url(#cq2)">
<rect x="958.2" y="2138.9" width="466.5" height="360.1" fill="#f7cb52"/>
<rect x="958.2" y="2138.9" width="466.5" height="360.1" fill="#fff" filter="url(#srTone)"/>
<rect x="958.2" y="2138.9" width="466.5" height="360.1" fill="#fff" filter="url(#srW2)"/>
<rect x="958.2" y="2138.9" width="466.5" height="360.1" fill="#fff" filter="url(#srSpk)"/>
<g fill="#fff8ec" fill-opacity="0.9" stroke="#f0b060" stroke-opacity="0.5" stroke-width="1.2"><ellipse cx="1349" cy="2381" rx="13" ry="11"/><ellipse cx="1222" cy="2423" rx="9" ry="9"/><ellipse cx="1347" cy="2284" rx="10" ry="10"/><ellipse cx="1110" cy="2239" rx="11" ry="11"/><ellipse cx="1135" cy="2277" rx="10" ry="8"/><ellipse cx="1046" cy="2470" rx="11" ry="10"/></g>
<path d="M959 2368h0m1 33h0m2 -152h0m0 114h0m1 -207h0m1 -15h0m2 76h0m6 84h0m1 -23h0m0 192h0m1 -195h0m3 206h0m1 -273h0m4 261h0m3 -131h0m1 -136h0m0 114h0m2 39h0m0 76h0m2 -1h0m1 -227h0m0 278h0m4 -21h0m4 -302h0m1 90h0m1 11h0m0 97h0m0 80h0m4 -95h0m3 -103h0m3 110h0m7 -38h0m1 -68h0m0 111h0m1 -204h0m0 103h0m2 191h0m1 -272h0m0 25h0m2 156h0m3 -16h0m1 73h0m0 75h0m1 -181h0m1 -17h0m0 93h0m0 59h0m1 -169h0m0 146h0m6 -59h0m2 3h0m4 -220h0m0 93h0m2 37h0m3 224h0m7 -290h0m3 142h0m3 -47h0m1 -11h0m1 206h0m8 -189h0m0 113h0m2 25h0m4 -142h0m3 60h0m1 -78h0m3 68h0m1 117h0m1 -216h0m0 179h0m2 31h0m5 -192h0m0 189h0m1 -86h0m1 -121h0m0 22h0m1 -118h0m1 272h0m0 46h0m5 -215h0m2 14h0m2 154h0m3 -247h0m0 246h0m1 70h0m3 -156h0m0 144h0m1 -31h0m3 -172h0m10 -49h0m1 104h0m1 -29h0m1 -86h0m1 -10h0m1 107h0m1 -142h0m2 24h0m0 267h0m1 -162h0m1 -75h0m3 -13h0m2 -69h0m2 164h0m1 102h0m1 -221h0m0 185h0m1 -173h0m5 264h0m2 -316h0m2 343h0m2 -147h0m2 30h0m5 117h0m1 -314h0m6 239h0m2 -91h0m0 14h0m10 -134h0m2 41h0m8 -87h0m0 56h0m1 136h0m0 62h0m1 -116h0m7 138h0m1 -150h0m4 67h0m5 -71h0m4 8h0m2 113h0m1 -16h0m3 -203h0m2 -40h0m4 59h0m3 284h0m2 -61h0m2 -36h0m1 -222h0m0 212h0m1 -223h0m1 178h0m2 24h0m0 51h0m1 -111h0m2 -98h0m2 191h0m2 79h0m6 -95h0m2 -68h0m0 82h0m1 -33h0m4 -56h0m1 71h0m1 -216h0m5 325h0m2 -105h0m2 83h0m1 -151h0m0 167h0m4 -134h0m2 41h0m2 -99h0m3 106h0m5 -15h0m0 64h0m2 -173h0m0 38h0m0 101h0m1 -181h0m2 215h0m0 51h0m3 -14h0m3 -287h0m1 304h0m7 -132h0m1 -45h0m2 3h0m1 0h0m2 -93h0m4 -32h0m2 204h0m1 -221h0m3 280h0m1 -242h0m0 53h0m0 129h0m1 -97h0m2 62h0m5 -28h0m1 -95h0m1 190h0m1 -122h0m7 85h0m2 -80h0m3 126h0m3 -61h0m3 -118h0m0 104h0m3 -215h0m4 69h0m1 -68h0m5 293h0m5 -49h0m4 -95h0m3 -57h0m1 162h0m0 85h0m1 -57h0m8 -286h0m1 338h0m2 -184h0m1 184h0m2 -332h0m2 51h0m1 222h0m3 -39h0m1 -62h0m2 97h0m4 -184h0m3 30h0m0 141h0m2 -63h0m1 -65h0m0 176h0m1 -112h0m1 17h0m2 -76h0m1 142h0m1 -202h0m0 66h0" stroke="#ee8a26" stroke-width="7.5" stroke-linecap="round" stroke-opacity="0.6" fill="none"/>
<path d="M954 2380.4 L956.2 2381.9 L959.7 2382.1 L962.3 2378 L966.7 2379.2 L970.6 2376.1 L974.6 2378.7 L982.5 2378.4 L985 2375 L990.3 2376.4 L991.8 2373.8 L995.2 2374.2 L1002.2 2372.3 L1004.1 2371.8 L1009 2374 L1014.3 2369.4 L1015.6 2370.4 L1020.5 2368.1 L1024.2 2368.6 L1030.1 2368.6 L1034.1 2367.8 L1038.6 2365.2 L1039.7 2365 L1043.6 2365.5 L1048.9 2369.5 L1053 2368.8 L1056.7 2366 L1063.9 2369.4 L1066.1 2367.8 L1071.2 2367.7 L1075.7 2366.8 L1078.5 2366.2 L1083.6 2368.1 L1087.4 2366.9 L1089.7 2368.2 L1094 2368.9 L1098.6 2370.1 L1102.6 2368 L1104.3 2368.9 L1107.7 2370.3 L1111.5 2369.9 L1116.3 2370.1 L1121.6 2367.8 L1126.3 2368.9 L1129.1 2371.6 L1133.4 2369.3 L1139.2 2369.7 L1141.8 2369.4 L1143.5 2367.1 L1149.9 2364.8 L1155 2364.6 L1157.3 2365.2 L1162.2 2362.5 L1167.5 2359.7 L1170 2359.8 L1173.3 2359.4 L1179.5 2356.9 L1179.4 2354.3 L1185.9 2355.6 L1189.6 2352.7 L1195 2354.3 L1195.9 2352.3 L1199.4 2349.1 L1207 2350.2 L1209.4 2345 L1211 2345.1 L1214.1 2343.6 L1220.6 2341.2 L1225 2337.2 L1225.3 2337.1 L1228.8 2333.1 L1233.3 2331.5 L1239.7 2329.9 L1242.3 2329.5 L1243.7 2327.4 L1247.3 2326.4 L1254.4 2321.5 L1255 2322.2 L1258.6 2316.7 L1262.3 2315.2 L1267.2 2316.2 L1269.7 2313.8 L1276.9 2310.6 L1277.2 2308.4 L1284 2306.9 L1286.4 2306 L1289.7 2305.8 L1292.4 2303.4 L1296.3 2299.3 L1300.2 2298.5 L1303 2295.4 L1308.2 2294.6 L1311 2294.3 L1314.9 2291 L1318.4 2287.2 L1324.4 2285.8 L1327.7 2284.4 L1330 2285.2 L1334.6 2284.2 L1339.7 2282.5 L1342.4 2279.1 L1347.1 2278 L1349.2 2274.9 L1352.9 2275.3 L1357.2 2275.2 L1362.2 2270.8 L1364.1 2269.3 L1368.7 2271.2 L1374.2 2269.3 L1377.1 2265.6 L1382.9 2267.2 L1384.2 2264.5 L1387 2262.5 L1390.6 2259.7 L1394.7 2260.2 L1400.8 2258.2 L1406.2 2255.3 L1409.8 2257.3 L1411.2 2256.2 L1414.1 2250.9 L1418 2252.1 L1422.9 2251.5 L1430 2248" fill="none" stroke="#e3202c" stroke-width="2.2" stroke-linejoin="round" stroke-linecap="round" stroke-opacity="0.9"/>
<path d="M1316 2290l-10 -4M1212 2345l12 8M1234 2332l13 -9M1335 2282l16 5M1025 2369l-5 11M1065 2367l1 -12M1201 2349l4 -11M1176 2357l9 0M1288 2304l-6 2M1217 2341l15 0M1226 2336l8 -3M1039 2367l16 3M971 2378l-3 -4M1119 2369l11 0M1232 2332l-3 -6M1424 2249l7 12M1426 2249l-1 9M1329 2284l0 7M1365 2271l7 -2M1209 2346l10 -10M1208 2347l11 -12M1181 2355l-6 6" stroke="#e3202c" stroke-width="1.1" stroke-opacity="0.75" fill="none"/>
<path d="M1381.8 2139.4 L1385.4 2146.5 L1385.2 2147.2 L1389.1 2151.4 L1389.9 2155.3 L1396.4 2158.2 L1397.8 2159 L1399.9 2165 L1401.9 2164.7 L1405.4 2171.8 L1407.8 2174 L1409 2178.4 L1413.1 2179.4 L1413.1 2185.8 L1417 2188 L1417.4 2189.9 L1420.4 2195.3 L1423.4 2198.6" fill="none" stroke="#e3202c" stroke-width="2.2" stroke-linejoin="round" stroke-linecap="round" stroke-opacity="0.9"/>
<path d="M1420 2193l9 -5M1382 2143l7 -14M1403 2167l-3 7" stroke="#e3202c" stroke-width="1.1" stroke-opacity="0.75" fill="none"/>
<path d="M960.8 2371.8 L965.9 2373.1 L966.8 2373 L973.9 2374.3 L975.5 2374.2 L979.9 2374 L985.3 2376.8 L985.4 2376.2 L991.3 2379.6 L994.8 2377.5 L997.8 2380.1 L1004.9 2381.6 L1007.9 2383.8 L1009.6 2386.6 L1017.5 2384.6 L1020.2 2389.1 L1023.6 2390.6 L1027.9 2390.1 L1031.8 2393.5 L1035.6 2391.6 L1040 2395" fill="none" stroke="#e3202c" stroke-width="2" stroke-linejoin="round" stroke-linecap="round" stroke-opacity="0.9"/>
<path d="M999 2380l14 -4M1039 2394l4 17M990 2377l-9 10" stroke="#e3202c" stroke-width="1" stroke-opacity="0.75" fill="none"/>
<path d="M1214.9 2330C1214.9 2325.3 1222.2 2316.8 1228 2314C1233.8 2311.2 1245.3 2311.6 1250 2312.9C1254.7 2314.2 1256.8 2317.8 1256 2322C1255.2 2326.2 1249.7 2334.6 1245 2338C1240.3 2341.4 1233 2343.7 1228 2342.4C1223 2341.1 1214.9 2334.7 1214.9 2330Z" fill="#fffdf8" stroke="#e3202c" stroke-width="3"/>
</g>
<g clip-path="url(#cp3)">
<rect x="1434.4" y="1769.2" width="467.6" height="359.6" fill="#d73cd0"/>
<rect x="1434.4" y="1769.2" width="467.6" height="359.6" fill="#fff" filter="url(#heTone)"/>
<rect x="1434.4" y="1769.2" width="467.6" height="359.6" fill="#fff" filter="url(#heNet)" opacity="0.4"/>
<g fill="#eeaeea" fill-opacity="0.7"><ellipse cx="1784" cy="1959" rx="12" ry="12"/><ellipse cx="1753" cy="2121" rx="11" ry="12"/><ellipse cx="1528" cy="1912" rx="12" ry="12"/><ellipse cx="1713" cy="1920" rx="12" ry="13"/><ellipse cx="1789" cy="2014" rx="9" ry="10"/><ellipse cx="1521" cy="2099" rx="9" ry="7"/><ellipse cx="1492" cy="2092" rx="8" ry="6"/><ellipse cx="1703" cy="1942" rx="12" ry="13"/><ellipse cx="1721" cy="1943" rx="9" ry="9"/><ellipse cx="1827" cy="1908" rx="10" ry="11"/><ellipse cx="1596" cy="2025" rx="8" ry="6"/><ellipse cx="1536" cy="1927" rx="8" ry="8"/><ellipse cx="1623" cy="1809" rx="10" ry="11"/><ellipse cx="1636" cy="2091" rx="9" ry="9"/><ellipse cx="1647" cy="2097" rx="10" ry="8"/><ellipse cx="1629" cy="1813" rx="8" ry="8"/><ellipse cx="1764" cy="1902" rx="10" ry="9"/><ellipse cx="1596" cy="2062" rx="9" ry="7"/></g>
<rect x="1434.4" y="1769.2" width="467.6" height="359.6" fill="#fff" filter="url(#heW3)"/>
<path d="M1455 1927h0m2 -151h0m33 180h0m1 102h0m2 -1h0m4 -49h0m14 -160h0m3 229h0m10 -79h0m8 -61h0m4 93h0m3 -239h0m1 332h0m12 -336h0m2 307h0m12 -84h0m4 -144h0m2 145h0m8 -8h0m20 34h0m6 -104h0m4 -5h0m8 -20h0m15 123h0m3 -68h0m15 -99h0m4 -81h0m6 297h0m5 -161h0m2 135h0m2 -5h0m1 -201h0m2 80h0m7 -110h0m4 53h0m1 1h0m0 132h0m3 -141h0m2 42h0m4 14h0m11 186h0m4 -92h0m1 -186h0m8 278h0m3 -257h0m25 133h0m2 -87h0m2 30h0m2 -80h0m4 193h0m6 -46h0m5 48h0m8 -159h0m3 129h0m15 1h0m5 41h0m7 -172h0m15 81h0m5 -78h0m4 35h0m11 -119h0m1 155h0m13 -27h0m18 40h0m2 -162h0m0 51h0m2 111h0m5 -195h0m0 239h0m7 31h0m10 -79h0" stroke="#fdf2fc" stroke-width="2.6" stroke-linecap="round" stroke-opacity="0.92" fill="none"/>
<path d="M1434 2083h0m20 2h0m17 -18h0m8 48h0m3 -323h0m34 1h0m2 63h0m5 38h0m3 52h0m1 -8h0m34 -11h0m6 186h0m11 -340h0m10 301h0m3 -225h0m3 168h0m5 -162h0m17 201h0m1 27h0m1 -234h0m19 195h0m4 -26h0m3 -27h0m3 -74h0m4 -34h0m6 97h0m4 -143h0m33 -66h0m1 354h0m16 -158h0m17 -27h0m11 -128h0m10 136h0m2 -41h0m7 49h0m3 -53h0m2 65h0m23 101h0m6 -221h0m27 183h0m3 89h0m1 0h0m10 -54h0m9 -89h0m12 -199h0m10 217h0m4 -141h0m2 182h0m2 -228h0m6 229h0m9 -10h0m0 42h0m7 -254h0" stroke="#fdf2fc" stroke-width="3.6" stroke-linecap="round" stroke-opacity="0.92" fill="none"/>
<path d="M1442 1981h0m21 12h0m9 -81h0m2 -45h0m24 139h0m24 108h0m45 -105h0m1 -138h0m1 5h0m5 40h0m1 33h0m14 -59h0m23 217h0m4 -106h0m20 -14h0m5 59h0m20 -129h0m8 -17h0m19 87h0m1 5h0m6 -77h0m5 -25h0m12 176h0m11 -115h0m3 -111h0m31 122h0m18 -93h0m6 2h0m26 -20h0m27 131h0m5 -140h0m5 -30h0m3 -37h0m53 216h0" stroke="#fdf2fc" stroke-width="5.0" stroke-linecap="round" stroke-opacity="0.92" fill="none"/>
<path d="M1441 1896h0m55 -50h0m33 206h0m45 -181h0m57 -56h0m103 87h0m7 74h0m30 -60h0m65 132h0m10 18h0m26 51h0m7 -162h0" stroke="#fdf2fc" stroke-width="6.5" stroke-linecap="round" stroke-opacity="0.92" fill="none"/>
<path d="M1436 1832h0m2 94h0m5 -73h0m1 -81h0m0 228h0m1 -160h0m3 18h0m2 7h0m6 156h0m1 -64h0m3 -187h0m0 189h0m2 84h0m2 58h0m2 -106h0m1 -63h0m1 171h0m3 -229h0m0 182h0m2 -253h0m2 26h0m2 182h0m10 -40h0m1 147h0m1 -324h0m3 95h0m1 -6h0m1 168h0m4 -221h0m1 77h0m3 -48h0m3 64h0m0 32h0m2 -45h0m1 184h0m1 -127h0m1 -173h0m3 23h0m2 135h0m1 -132h0m0 219h0m6 -182h0m2 171h0m1 -71h0m1 65h0m3 -147h0m0 58h0m1 116h0m1 -227h0m0 282h0m1 -150h0m1 -85h0m0 210h0m1 -286h0m1 185h0m1 -105h0m0 21h0m12 229h0m1 -65h0m4 -171h0m5 -31h0m1 -83h0m1 225h0m1 -195h0m0 239h0m3 37h0m2 -263h0m5 180h0m9 -194h0m1 146h0m8 133h0m4 -191h0m3 -38h0m0 114h0m1 66h0m1 -159h0m0 82h0m2 -9h0m3 97h0m1 -180h0m5 -27h0m1 -11h0m3 -10h0m0 70h0m0 117h0m2 -122h0m0 225h0m5 -156h0m4 -20h0m3 121h0m5 -146h0m7 160h0m1 -262h0m0 281h0m3 -186h0m2 215h0m1 -228h0m5 7h0m3 184h0m1 -41h0m3 -200h0m0 247h0m3 -37h0m1 54h0m1 -228h0m1 197h0m1 -85h0m1 -117h0m5 29h0m0 47h0m3 -167h0m3 176h0m3 -120h0m0 116h0m1 -144h0m0 46h0m4 -12h0m0 201h0m1 -241h0m0 312h0m2 -249h0m0 40h0m1 -12h0m0 25h0m2 158h0m2 -21h0m2 -137h0m1 -78h0m2 90h0m4 -105h0m7 93h0m0 185h0m5 -324h0m1 99h0m0 156h0m4 -130h0m6 32h0m2 -43h0m1 54h0m0 57h0m8 -179h0m0 84h0m2 74h0m2 38h0m2 6h0m1 -85h0m2 -2h0m1 -26h0m6 -23h0m0 215h0m3 -173h0m0 100h0m1 -144h0m5 115h0m3 44h0m1 -166h0m0 111h0m2 45h0m1 -135h0m0 116h0m0 105h0m2 -142h0m1 -175h0m3 -11h0m1 219h0m1 -20h0m3 -177h0m1 -2h0m3 127h0m1 -28h0m1 -117h0m0 152h0m3 153h0m1 -151h0m3 -175h0m8 117h0m1 -104h0m2 -9h0m1 106h0m0 110h0m1 -98h0m0 37h0m3 -24h0m8 65h0m3 -19h0m5 -121h0m3 -13h0m0 300h0m2 -110h0m11 71h0m1 5h0m1 -211h0m0 55h0m3 80h0m1 -148h0m0 35h0m2 191h0m1 -134h0m2 15h0m0 10h0m2 -56h0m4 104h0m3 8h0m4 -56h0m6 -125h0m2 161h0m1 104h0m3 -142h0m1 74h0m1 -168h0m1 -14h0m1 56h0m3 -36h0m2 -22h0m0 163h0m0 32h0m1 16h0m3 -303h0m1 52h0m2 42h0m1 -51h0" stroke="#6e3298" stroke-width="11" stroke-linecap="round" stroke-opacity="0.6" fill="none"/>
<path d="M1436 1832h0m2 94h0m5 -73h0m1 -81h0m0 228h0m1 -160h0m3 18h0m2 7h0m6 156h0m1 -64h0m3 -187h0m0 189h0m2 84h0m2 58h0m2 -106h0m1 -63h0m1 171h0m3 -229h0m0 182h0m2 -253h0m2 26h0m2 182h0m10 -40h0m1 147h0m1 -324h0m3 95h0m1 -6h0m1 168h0m4 -221h0m1 77h0m3 -48h0m3 64h0m0 32h0m2 -45h0m1 184h0m1 -127h0m1 -173h0m3 23h0m2 135h0m1 -132h0m0 219h0m6 -182h0m2 171h0m1 -71h0m1 65h0m3 -147h0m0 58h0m1 116h0m1 -227h0m0 282h0m1 -150h0m1 -85h0m0 210h0m1 -286h0m1 185h0m1 -105h0m0 21h0m12 229h0m1 -65h0m4 -171h0m5 -31h0m1 -83h0m1 225h0m1 -195h0m0 239h0m3 37h0m2 -263h0m5 180h0m9 -194h0m1 146h0m8 133h0m4 -191h0m3 -38h0m0 114h0m1 66h0m1 -159h0m0 82h0m2 -9h0m3 97h0m1 -180h0m5 -27h0m1 -11h0m3 -10h0m0 70h0m0 117h0m2 -122h0m0 225h0m5 -156h0m4 -20h0m3 121h0m5 -146h0m7 160h0m1 -262h0m0 281h0m3 -186h0m2 215h0m1 -228h0m5 7h0m3 184h0m1 -41h0m3 -200h0m0 247h0m3 -37h0m1 54h0m1 -228h0m1 197h0m1 -85h0m1 -117h0m5 29h0m0 47h0m3 -167h0m3 176h0m3 -120h0m0 116h0m1 -144h0m0 46h0m4 -12h0m0 201h0m1 -241h0m0 312h0m2 -249h0m0 40h0m1 -12h0m0 25h0m2 158h0m2 -21h0m2 -137h0m1 -78h0m2 90h0m4 -105h0m7 93h0m0 185h0m5 -324h0m1 99h0m0 156h0m4 -130h0m6 32h0m2 -43h0m1 54h0m0 57h0m8 -179h0m0 84h0m2 74h0m2 38h0m2 6h0m1 -85h0m2 -2h0m1 -26h0m6 -23h0m0 215h0m3 -173h0m0 100h0m1 -144h0m5 115h0m3 44h0m1 -166h0m0 111h0m2 45h0m1 -135h0m0 116h0m0 105h0m2 -142h0m1 -175h0m3 -11h0m1 219h0m1 -20h0m3 -177h0m1 -2h0m3 127h0m1 -28h0m1 -117h0m0 152h0m3 153h0m1 -151h0m3 -175h0m8 117h0m1 -104h0m2 -9h0m1 106h0m0 110h0m1 -98h0m0 37h0m3 -24h0m8 65h0m3 -19h0m5 -121h0m3 -13h0m0 300h0m2 -110h0m11 71h0m1 5h0m1 -211h0m0 55h0m3 80h0m1 -148h0m0 35h0m2 191h0m1 -134h0m2 15h0m0 10h0m2 -56h0m4 104h0m3 8h0m4 -56h0m6 -125h0m2 161h0m1 104h0m3 -142h0m1 74h0m1 -168h0m1 -14h0m1 56h0m3 -36h0m2 -22h0m0 163h0m0 32h0m1 16h0m3 -303h0m1 52h0m2 42h0m1 -51h0" stroke="#9a58c4" stroke-width="7" stroke-linecap="round" stroke-opacity="0.55" fill="none"/>
<path d="M1438 1803h0m0 272h0m1 -172h0m0 164h0m8 -68h0m1 -113h0m1 33h0m2 -65h0m2 -54h0m1 8h0m8 199h0m1 -3h0m5 7h0m7 -52h0m1 -66h0m3 99h0m2 -39h0m1 116h0m3 -126h0m0 129h0m14 -141h0m10 -98h0m4 243h0m4 -47h0m10 -13h0m5 95h0m11 -161h0m4 165h0m8 -112h0m5 7h0m0 20h0m2 -145h0m3 91h0m0 40h0m0 17h0m4 78h0m10 -160h0m2 -124h0m1 -2h0m2 178h0m4 -53h0m4 128h0m10 -294h0m4 76h0m3 48h0m1 28h0m7 -51h0m3 158h0m5 57h0m7 -214h0m1 98h0m7 83h0m2 -209h0m0 167h0m1 -232h0m0 106h0m14 -93h0m11 214h0m1 -7h0m0 96h0m7 -187h0m0 53h0m2 54h0m6 -167h0m0 128h0m4 -138h0m18 117h0m3 -148h0m1 112h0m1 -155h0m9 142h0m2 -68h0m2 182h0m0 56h0m5 -68h0m0 49h0m2 -29h0m3 -92h0m2 123h0m8 -120h0m5 124h0m1 -11h0m4 -251h0m7 209h0m2 70h0m2 35h0m1 -334h0m0 67h0m10 93h0m9 -65h0m3 -47h0m1 -50h0m3 152h0m3 149h0m1 -59h0m4 25h0m2 -2h0m3 27h0m8 -231h0m0 15h0m5 194h0m6 47h0m3 -272h0m5 171h0m5 -138h0m10 86h0m6 -23h0m2 176h0m2 -5h0m11 -9h0m3 -293h0m2 60h0m3 15h0m10 161h0m10 37h0m1 52h0m2 -352h0m2 252h0m0 85h0" stroke="#4e1a7c" stroke-width="5.5" stroke-linecap="round" stroke-opacity="0.7" fill="none"/>
<path d="M1653.6 1944.7C1659.6 1939.1 1673 1934.5 1677.4 1939C1681.9 1943.5 1681.5 1961.6 1680.3 1971.4C1679.1 1981.2 1676.8 1997.9 1670.3 1998.1C1663.8 1998.3 1643.9 1981.3 1641.1 1972.4C1638.3 1963.5 1647.5 1950.3 1653.6 1944.7Z" fill="#fdf5fd"/>
<path d="M1672 2022.9 L1684.6 2019 L1676.4 2038 Z" fill="#fdf5fd"/>
<path d="M1819.3 1777 L1806 1805 L1790.7 1834" fill="none" stroke="#fbe6fb" stroke-width="3" stroke-linejoin="round" stroke-linecap="round"/>
</g>
<g clip-path="url(#cq3)">
<rect x="1434.4" y="2138.9" width="467.6" height="360.1" fill="#f7d23e"/>
<rect x="1434.4" y="2138.9" width="467.6" height="360.1" fill="#fff" filter="url(#srTone)"/>
<rect x="1434.4" y="2138.9" width="467.6" height="360.1" fill="#fff" filter="url(#srW3)"/>
<rect x="1434.4" y="2138.9" width="467.6" height="360.1" fill="#fff" filter="url(#srSpk)"/>
<g fill="#fff8ec" fill-opacity="0.9" stroke="#f0b060" stroke-opacity="0.5" stroke-width="1.2"><ellipse cx="1737" cy="2218" rx="9" ry="8"/><ellipse cx="1646" cy="2348" rx="13" ry="13"/><ellipse cx="1671" cy="2297" rx="9" ry="7"/><ellipse cx="1837" cy="2186" rx="9" ry="7"/><ellipse cx="1640" cy="2493" rx="10" ry="10"/><ellipse cx="1627" cy="2470" rx="10" ry="10"/></g>
<path d="M1438 2370h0m1 30h0m1 -186h0m2 236h0m1 -280h0m0 116h0m6 -117h0m3 42h0m0 151h0m1 -141h0m8 244h0m1 -210h0m0 31h0m0 121h0m2 -62h0m0 113h0m3 -270h0m0 112h0m1 86h0m7 83h0m1 -28h0m1 44h0m3 -271h0m2 164h0m2 18h0m1 -89h0m4 -53h0m1 119h0m2 -205h0m5 202h0m2 15h0m0 11h0m0 62h0m5 -253h0m1 12h0m0 42h0m1 -33h0m6 212h0m4 -68h0m3 -151h0m11 163h0m1 -194h0m5 71h0m4 -92h0m0 96h0m9 -44h0m4 -4h0m1 44h0m1 123h0m3 38h0m0 29h0m3 -259h0m0 71h0m2 -21h0m0 176h0m5 -39h0m4 -85h0m4 -1h0m3 199h0m8 -333h0m0 143h0m3 171h0m1 -31h0m0 46h0m3 -287h0m8 69h0m1 -127h0m1 138h0m0 76h0m1 -182h0m4 111h0m0 80h0m1 -224h0m0 300h0m3 25h0m1 -79h0m2 -164h0m3 136h0m5 85h0m1 -288h0m7 188h0m1 -101h0m6 151h0m1 -166h0m1 -32h0m3 165h0m3 -44h0m6 128h0m1 -251h0m3 -24h0m0 151h0m0 27h0m0 84h0m3 -278h0m4 148h0m6 -27h0m7 -94h0m3 186h0m1 -215h0m5 253h0m4 -228h0m5 19h0m0 61h0m2 191h0m1 -219h0m0 78h0m6 85h0m3 -72h0m7 33h0m5 -209h0m1 54h0m1 250h0m1 -59h0m1 -168h0m4 -24h0m1 45h0m5 -100h0m0 147h0m5 -111h0m4 236h0m0 18h0m1 -207h0m4 -32h0m1 33h0m0 160h0m1 64h0m2 -65h0m1 -145h0m16 242h0m3 -240h0m3 50h0m1 -85h0m5 153h0m0 24h0m3 -113h0m4 131h0m1 77h0m4 -26h0m0 13h0m4 -131h0m3 164h0m1 -348h0m0 3h0m0 334h0m3 -110h0m2 -51h0m4 154h0m3 -71h0m1 -52h0m4 96h0m3 -112h0m1 -161h0m4 294h0m1 -66h0m0 6h0m0 22h0m1 17h0m3 -74h0m1 -63h0m1 -143h0m1 169h0m3 -48h0m4 39h0m1 -148h0m0 236h0m4 -32h0m7 -236h0m3 157h0m2 -155h0m0 25h0m3 231h0m2 -36h0m5 40h0m4 -208h0m0 130h0m1 -121h0m1 179h0m2 -176h0m0 192h0m4 -124h0m4 -3h0m1 -22h0m2 56h0m3 -155h0m0 280h0m0 39h0m2 -248h0m2 151h0m3 65h0m5 -276h0" stroke="#ee8a26" stroke-width="7.5" stroke-linecap="round" stroke-opacity="0.6" fill="none"/>
<path d="M1549.5 2325.6 L1553.9 2322.2 L1555.4 2320.2 L1558.5 2319.6 L1562 2317.1 L1570.2 2315.9 L1572.1 2317.4 L1577.4 2315.4 L1579.4 2310.9 L1583.4 2313.3 L1589.9 2310.9 L1593.8 2306.6 L1595.6 2305.7 L1602.2 2310 L1602 2307.9 L1609.7 2310.8 L1610.3 2314 L1614.6 2314.2 L1619.5 2316.8 L1621.5 2315.5 L1627.8 2317.9 L1631.2 2321.4 L1635.2 2321.2 L1637.8 2325 L1642 2324.3" fill="none" stroke="#e3202c" stroke-width="2" stroke-linejoin="round" stroke-linecap="round" stroke-opacity="0.9"/>
<path d="M1573 2315l3 10M1632 2320l9 10M1612 2313l14 7M1628 2319l-11 7" stroke="#e3202c" stroke-width="1" stroke-opacity="0.75" fill="none"/>
<path d="M1700.5 2339.4 L1708.1 2342.4 L1710.5 2342.1 L1712.5 2344.1 L1717.9 2344.5 L1724.5 2345.2 L1725.6 2348 L1733.1 2346.8 L1735.5 2349.4 L1741.4 2348.5 L1741.5 2350.1 L1747.6 2350.6 L1753.2 2353.4 L1753.8 2351 L1760 2352.4 L1763.2 2355.7 L1766.6 2353.3 L1772.7 2356.7 L1777.4 2354.9 L1780.8 2357.6 L1782.1 2358.3 L1790.1 2355.7 L1792.8 2359.9 L1798.5 2358.1 L1798.6 2356.6 L1802.8 2358.4 L1809.4 2355.8 L1812.3 2356.1 L1819 2358.5 L1821.6 2357 L1824.5 2354.3 L1832.2 2354.5 L1836.5 2357.1 L1840.6 2358 L1843.5 2360.9 L1844.5 2362.4 L1850 2365" fill="none" stroke="#e3202c" stroke-width="2.4" stroke-linejoin="round" stroke-linecap="round" stroke-opacity="0.9"/>
<path d="M1840 2360l1 7M1728 2347l-4 16M1702 2341l8 1M1812 2357l6 -9M1810 2357l-9 12M1735 2349l6 2" stroke="#e3202c" stroke-width="1.2" stroke-opacity="0.75" fill="none"/>
<path d="M1556 2327C1560.2 2323.7 1575.8 2323.7 1585 2325C1594.2 2326.3 1607.2 2330 1611 2335C1614.8 2340 1613.2 2351 1608 2355C1602.8 2359 1588 2360.7 1580 2359C1572 2357.3 1564 2350.3 1560 2345C1556 2339.7 1551.8 2330.3 1556 2327Z" fill="#fff8ea" fill-opacity="0.9"/>
<path d="M1642 2335C1642.8 2329 1656.2 2323.5 1665 2322C1673.8 2320.5 1688.7 2323 1695 2326C1701.3 2329 1703.8 2335 1703 2340C1702.2 2345 1697.2 2353 1690 2356C1682.8 2359 1668 2361.5 1660 2358C1652 2354.5 1641.2 2341 1642 2335Z" fill="#fffdf8" stroke="#e3202c" stroke-width="2.5"/>
<path d="M1648 2392 L1665 2388 L1660 2418 Z" fill="#fff8ec"/>
</g>
<rect x="5.1" y="1767.7" width="470" height="362.6" fill="none" stroke="#000" stroke-width="3.2"/>
<rect x="5.1" y="2137.4" width="470" height="363.1" fill="none" stroke="#000" stroke-width="3.2"/>
<rect x="481.7" y="1767.7" width="469.8" height="362.6" fill="none" stroke="#000" stroke-width="3.2"/>
<rect x="481.7" y="2137.4" width="469.8" height="363.1" fill="none" stroke="#000" stroke-width="3.2"/>
<rect x="956.7" y="1767.7" width="469.5" height="362.6" fill="none" stroke="#000" stroke-width="3.2"/>
<rect x="956.7" y="2137.4" width="469.5" height="363.1" fill="none" stroke="#000" stroke-width="3.2"/>
<rect x="1432.9" y="1767.7" width="470.6" height="362.6" fill="none" stroke="#000" stroke-width="3.2"/>
<rect x="1432.9" y="2137.4" width="470.6" height="363.1" fill="none" stroke="#000" stroke-width="3.2"/>
<text x="18.6" y="1810.9" font-size="31.5">H&amp;E</text>
<text x="18.6" y="2182.9" font-size="31.5">Sirius Red</text>
<text x="1891" y="2098.3" font-size="31" text-anchor="end">50 μm</text>
<rect x="1815.3" y="2105.9" width="62.6" height="5.9" fill="#000"/>
<text x="1891" y="2461.8" font-size="31" text-anchor="end">50 μm</text>
<rect x="1815.3" y="2474.2" width="62.6" height="10.2" fill="#000"/>
</svg></body></html>
